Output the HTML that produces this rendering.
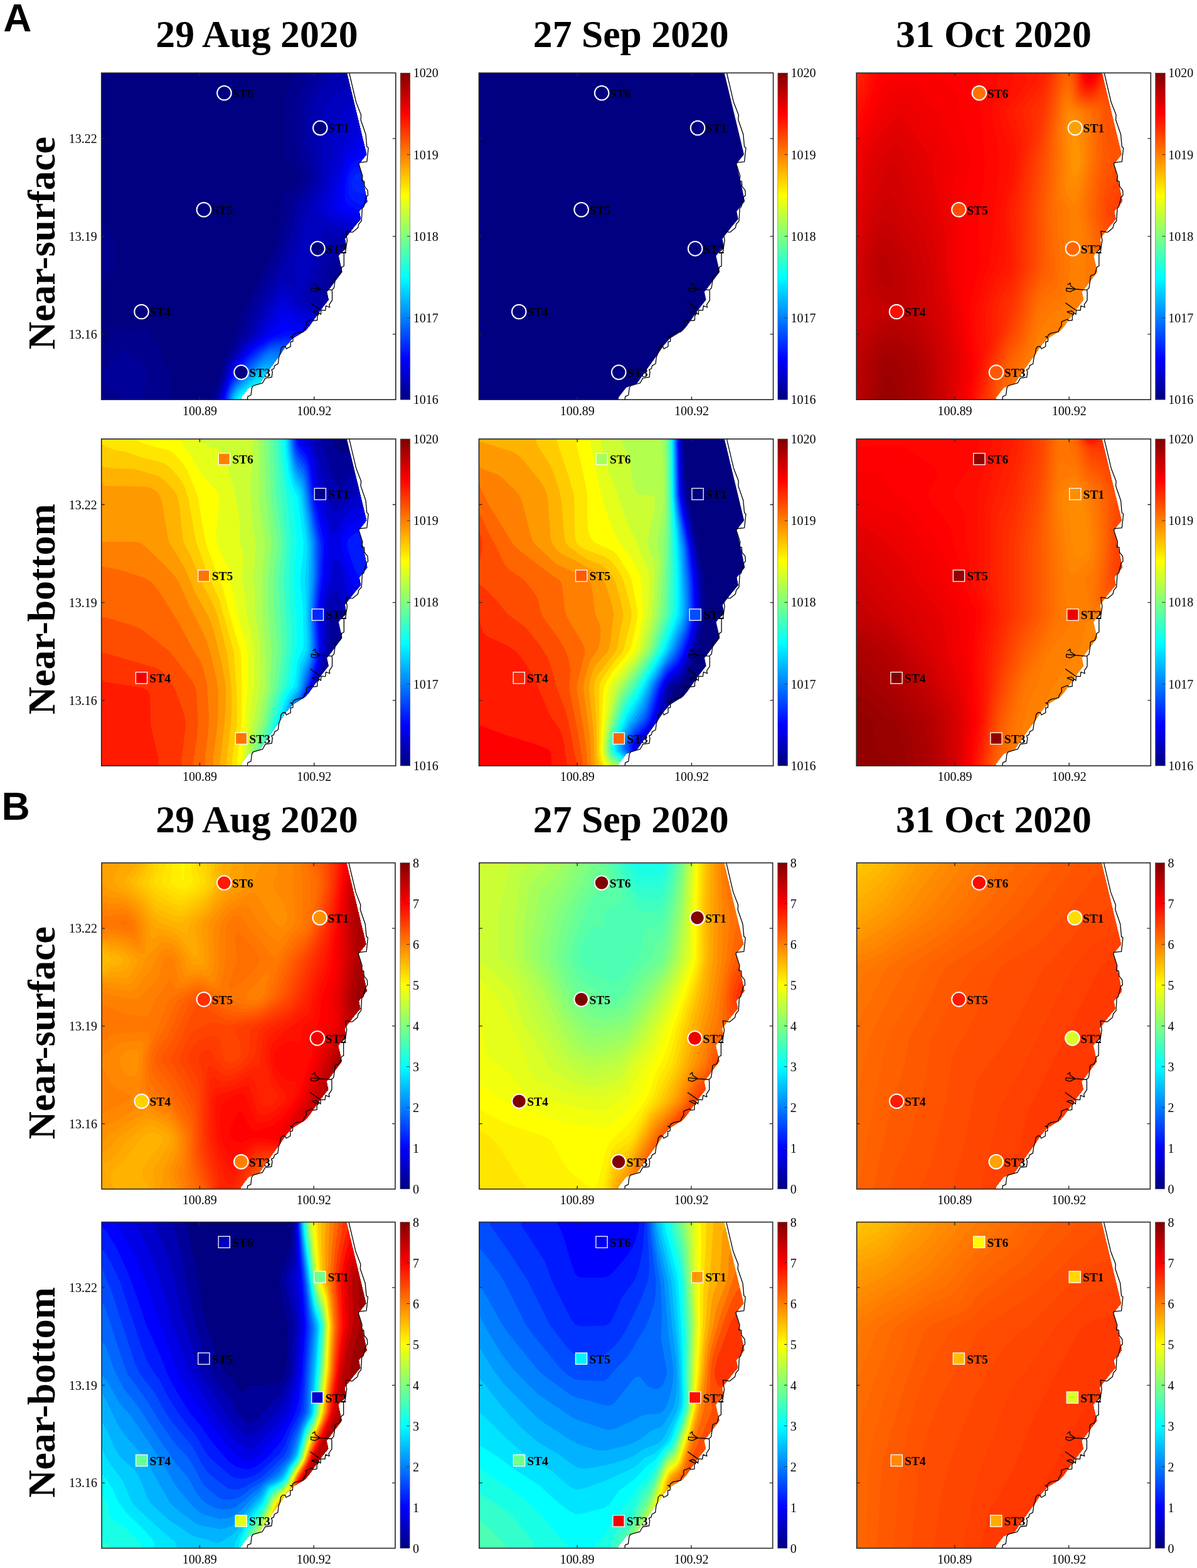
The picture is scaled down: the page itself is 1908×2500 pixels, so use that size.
<!DOCTYPE html><html><head><meta charset="utf-8"><title>Figure</title><style>html,body{margin:0;padding:0;background:#fff}svg{display:block}</style></head><body>
<svg width="1908" height="2500" viewBox="0 0 1908 2500">
<defs><linearGradient id="jet" x1="0" y1="1" x2="0" y2="0">
<stop offset="0.000" stop-color="#000080"/>
<stop offset="0.025" stop-color="#000099"/>
<stop offset="0.050" stop-color="#0000b2"/>
<stop offset="0.075" stop-color="#0000cc"/>
<stop offset="0.100" stop-color="#0000e6"/>
<stop offset="0.125" stop-color="#0000ff"/>
<stop offset="0.150" stop-color="#001aff"/>
<stop offset="0.175" stop-color="#0033ff"/>
<stop offset="0.200" stop-color="#004dff"/>
<stop offset="0.225" stop-color="#0066ff"/>
<stop offset="0.250" stop-color="#0080ff"/>
<stop offset="0.275" stop-color="#0099ff"/>
<stop offset="0.300" stop-color="#00b2ff"/>
<stop offset="0.325" stop-color="#00ccff"/>
<stop offset="0.350" stop-color="#00e5ff"/>
<stop offset="0.375" stop-color="#00ffff"/>
<stop offset="0.400" stop-color="#1affe5"/>
<stop offset="0.425" stop-color="#33ffcc"/>
<stop offset="0.450" stop-color="#4dffb2"/>
<stop offset="0.475" stop-color="#66ff99"/>
<stop offset="0.500" stop-color="#80ff80"/>
<stop offset="0.525" stop-color="#99ff66"/>
<stop offset="0.550" stop-color="#b3ff4c"/>
<stop offset="0.575" stop-color="#ccff33"/>
<stop offset="0.600" stop-color="#e5ff1a"/>
<stop offset="0.625" stop-color="#ffff00"/>
<stop offset="0.650" stop-color="#ffe500"/>
<stop offset="0.675" stop-color="#ffcc00"/>
<stop offset="0.700" stop-color="#ffb300"/>
<stop offset="0.725" stop-color="#ff9900"/>
<stop offset="0.750" stop-color="#ff8000"/>
<stop offset="0.775" stop-color="#ff6600"/>
<stop offset="0.800" stop-color="#ff4c00"/>
<stop offset="0.825" stop-color="#ff3300"/>
<stop offset="0.850" stop-color="#ff1a00"/>
<stop offset="0.875" stop-color="#ff0000"/>
<stop offset="0.900" stop-color="#e50000"/>
<stop offset="0.925" stop-color="#cc0000"/>
<stop offset="0.950" stop-color="#b30000"/>
<stop offset="0.975" stop-color="#990000"/>
<stop offset="1.000" stop-color="#800000"/>
</linearGradient>
<clipPath id="sea"><polygon points="0,0 391.2,0 422.5,129.9 412.7,142.2 410.2,145.2 417,172.2 423.7,204.7 410.8,220.7 413.3,233 404.1,243.7 391,260.4 388.1,264.4 390.3,275.7 377.9,291.7 383.7,317.1 362.6,345.1 359.3,348.9 362.1,361.8 349.7,377.5 331.2,403.7 325.4,410.5 304,423.7 294,435.1 285.4,448 268.3,471.6 251.9,495.1 234.7,501.6 222.6,517.3 222.3,520.9 0,520.9"/></clipPath>
<path id="coast" d="M394.9 -.3 L405.9 46.5 L413.9 67.3 L413.3 74.7 L421.3 98 L423.1 117.6 L425.5 119.5 L423.1 141.6 L411.4 142.8 L410.2 145.2 L416.3 164.3 L415.1 172.2 L418.8 172.8 L419.4 180.8 L424.3 187 L424.9 194.9 L421.9 198 L418.2 213.3 L415.7 215.8 L414.5 236 L410.2 240.9 L408.8 247 L400.4 253.9 L397.5 253.9 L395.3 252.8 L389.5 252.4 L390.6 260.4 L391.7 267 L390.3 275.7 L389.2 284.4 L386.6 286.6 L386.6 307.7 L383 309.8 L382.3 313.5 L380.1 320.7 L373.5 323.3 L373.1 323.7 L372.1 333.2 L370.7 342.7 L367.3 346.1 L367.8 348.7 L367.8 362.3 L363.1 369.4 L364 373.7 L357.8 371.3 L356.9 378.5 L350.2 378 L349.7 385.1 L346.9 382.3 L345.9 385.1 L344 387.5 L344 394.2 L337.8 395.1 L336.4 392.7 L332.6 394.2 L326.9 396.6 L326.9 403 L323.3 408 L322.2 412.6 L310.4 414.8 L306.2 417.3 L304.7 420.8 L301.2 420.5 L305.4 423 L305.1 428 L301.5 428.7 L301.5 436.2 L294.7 439.8 L293.3 436.2 L289 436.2 L286.2 439.4 L285.1 447.3 L282.9 453 L281.5 463.7 L276.2 466.6 L274.7 471.6 L271.2 473 L272.6 476.6 L271.5 485.1 L261.2 486.6 L256.9 494.4 L241.9 498.7 L239.7 502.3 L238.3 513.7 L233.3 515.8 L232.6 520.7" fill="none" stroke="#000" stroke-width="1.3" stroke-linejoin="round"/>
<path id="feat" d="M367.3 346.1 L349.3 344.7 L341.2 339.4 L340.7 335.1 L336.9 337.5 L341.2 334.4M349.3 344.7 L334.5 343.2 L334.5 347.5 L340.7 348.9 L349.3 344.7M333.1 366.6 L349.3 378M335.4 380.8 L342.6 379.4 L346.9 382.7 L345.4 385.1 L335.4 380.8" fill="none" stroke="#000" stroke-width="1.3" stroke-linejoin="round"/>
</defs>
<rect width="1908" height="2500" fill="#fff"/>
<text x="5.3" y="50" font-family="Liberation Sans, sans-serif" font-weight="bold" font-size="62.5">A</text>
<text x="2.6" y="1307.1" font-family="Liberation Sans, sans-serif" font-weight="bold" font-size="62.5">B</text>
<text x="248.3" y="74.5" font-family="Liberation Serif, serif" font-weight="bold" font-size="61.7">29 Aug 2020</text>
<text x="849.8" y="74.5" font-family="Liberation Serif, serif" font-weight="bold" font-size="61.7">27 Sep 2020</text>
<text x="1428" y="74.5" font-family="Liberation Serif, serif" font-weight="bold" font-size="61.7">31 Oct 2020</text>
<text x="248.3" y="1326.9" font-family="Liberation Serif, serif" font-weight="bold" font-size="61.7">29 Aug 2020</text>
<text x="849.8" y="1326.9" font-family="Liberation Serif, serif" font-weight="bold" font-size="61.7">27 Sep 2020</text>
<text x="1428" y="1326.9" font-family="Liberation Serif, serif" font-weight="bold" font-size="61.7">31 Oct 2020</text>
<text transform="translate(87.3 387.6) rotate(-90)" text-anchor="middle" font-family="Liberation Serif, serif" font-weight="bold" font-size="61.5">Near-surface</text>
<text transform="translate(87.3 971.3) rotate(-90)" text-anchor="middle" font-family="Liberation Serif, serif" font-weight="bold" font-size="61.5">Near-bottom</text>
<text transform="translate(87.3 1646.8) rotate(-90)" text-anchor="middle" font-family="Liberation Serif, serif" font-weight="bold" font-size="61.5">Near-surface</text>
<text transform="translate(87.3 2220.1) rotate(-90)" text-anchor="middle" font-family="Liberation Serif, serif" font-weight="bold" font-size="61.5">Near-bottom</text>
<g transform="translate(161.7 116.3)">
<g transform="scale(1.00000 1.00000)"><g clip-path="url(#sea)">
<rect x="-2" y="-2" width="474" height="524.9" fill="#000080"/><path fill="#000080" d="M277 -3l2.4-3 197.6 0 0 534-326.9 0-3.1-1.4-5.3 1.4-147.7 0 0-149.5 1.4-9.5-1.4-6.5 0-144.5 6-3.3 3 0 6 2.5 10.7 10.8 21.3 27 3.2 6 2.2 9 .1 39 .7 6 11.1 15 9.4 15 61.3 102.8 21 28.6 3 2.9 3 1 15-.2 6-2.3 3-5.8 4.7-19 4.3-12.6 1.4-14.4 2.9-12 17.5-48 7.1-15 25.1-46 15-33.3 3.8-10.7 1.4-15 .1-57 1.9-21-1-18 .3-99 6.9-39 2.5-9z"/><path fill="#00008c" d="M302.5 -6l174.5 0 0 534-303.7 0 2.2-15 10.5-23.7 9.8-33.3 7.1-15 4.2-15 21.7-57 31.5-60 18.5-42 2.5-9 2.5-15 1.9-36 1.6-9 3.7-5.5 15-9.7 5.2-5.8 3.1-6 0-6-2.3-6.2-6-8.5-12-10.9-1.9-4.4-1.3-9 0-72 4.3-24 7.7-24zM-6 243l0-3 7.5 3 16.5 18.6 3.5 8.4 .6 18-.3 15-2.6 9-16.2 20.2-3 2.2-6 1.7zM60.4 405l2.6-.9 3 .6 6 5.3 12 17.1 11.2 19.9 8.4 21 8.5 18 .4 9-2.4 18 .7 3 5.9 9 .8 3-123.5 0 0-88.1 9-2.1 7.5-5.8 2.8-6 3.2-15 1.5-2.8 3-1.8 6 .5 15 4.1 6 .6 6-1.7z"/><path fill="#000099" d="M328.7 -6l148.3 0 0 307.7-3 5.6-.7 4.7 3.7 9.6 0 206.4-296.8 0 .9-15 7.9-22 10.8-35 9-15 11.9-24 19.5-51 28.8-54 17.6-39 5-15 9.1-45 3.1-6 20.5-30 2.7-6 .4-6-1.9-9-15.3-45-.7-48 1.6-15 15.9-39.8 1.4-5.2zM27.8 444l5.2-2 3 .3 10.3 4.7 15.5 12 7.2 9 3.5 9 1.1 9-1.8 9-7.3 18 .3 3 4.2 7.5 1.2 4.5-38.7 0 0-9-1.4-3-2.6-3-15.1-12-11.4-15-.4-3 .9-3 19.5-28.9z"/><path fill="#0000a6" d="M353.3 -6l123.7 0 0 272.4-3 1.8-6 1.1-72 .4-9 2.9-6 6-6 8.3-9 13.5-4.4 8.6-4.6 21-2.7 21 1.3 6 4.4 2.6 3 .5 102 .3 6 .5 6 2.8 0 164.3-294.1 0 1.2-15 16.9-52.5 3-5.9 7.7-10.6 18.9-30 20.9-51 30.5-57 18-42 10.8-48 4.4-9 15.7-24 4.5-9 1.5-9-1.6-15-11.1-42-.2-51 2-9 3.8-9 11.9-24 9.8-15z"/><path fill="#0000b2" d="M374.7 -3l3.3-1.5 6-.5 78 .3 9 3.1 4.5 4.6 1.5 2.8 0 241-3.7 2.2-5.3 6.7-6 3.5-9 .7-63-.3-9 1.9-11.6 5.5-3.4 3.5-9 13.3-7 13.2-3.3 12-9 45-.2 6 1.1 3 3.4 3.6 4.4 2.4 7.6 1.5 105 .5 6 1.8 7.7 8.2 4.3 2.3 0 144.7-292.2 0 1.6-15 16.6-51 22.6-33 11.9-15 21.4-48 20.1-36.6 11.7-17.4 18.3-43.7 11.9-52.3 4.4-9 10.7-17.1 6.2-12.9 2.3-9 .1-9-2.1-27-5.3-27-.1-42 .7-9 2.8-9 7.4-13.8 24-32.3z"/><path fill="#0000bf" d="M387.1 27l68.9-.4 21-.9 0 217.9-6.6 2.4-8.4 6.5-6 1.2-51 .1-18-1.4-15 1.5-12-4.5-3-.5-3 1.6-5.2 13.5-9.8 20.6-10.6 45.4-4.4 12.3-4.9 8.7 .1 3 2 6 4.3 6 8.4 6 11.1 4.4 12 .9 99 .2 6 1.2 7.5 5.3 7.5 2.5 0 141.5-290.5 0 1.8-15 15.9-48 3.4-6 20.4-27.9 15.5-17.1 17.5-37.4 21-37.2 6-6.9 3-1.3 3 .3 15 11.2 3.3-.7-.4-6-4.7-21 .7-9 6.5-18 4.3-15 11.3-54 18.6-39 3.6-12-.8-90 1.4-21 4.2-8.7 12-11.8 9-6.8z"/><path fill="#0000cc" d="M392 54l10-2 60-.1 9 .8 3.4 1.3 2.6 2.6 0 184.8-7.8 1.6-10.2 4.7-6 .5-48-.1-18-2.7-12-.1-3-.8-6-3.8-18.6-15.7-4.2-6-.5-3 1-6 13-30 3.6-12 9-51 1.8-27 1.7-9 2.7-6 9.7-15zM286.3 348l4.7-2.6 3 .8 6 5.6 12 14.8 6 5.2 15 7.9 9 3 12 .8 102 .1 15 4.4 6 .7 0 139.3-289 0 .7-9 2.2-9 12-36 4.1-9.5 24-32.6 13.3-11.9 5-6 16.1-33 16.6-27.7z"/><path fill="#0000d9" d="M412 72l44 0 15 4.2 6 .6 0 162.6-24 3.2-42 0-12-1-12-3.1-11-1.5-4-1.6-11.6-10.4-6.4-9-.6-3 .9-6 8.8-21 19.9-63 8.4-21 6.9-21 4.1-6 2.6-1.7zM288.3 360l2.7-.9 3 .8 15 14.9 6 4.6 17.4 7.6 6.6 1.8 12 .8 105 0 21 1.1 0 137.3-287.6 0 .8-9 3.1-12 14.4-39 24.2-33 20.9-18 20.2-36.6 9-13.8z"/><path fill="#0000e6" d="M470.3 84l6.7-1.4 0 155-72-.9-27-7.5-6-3.3-6.4-6.9-1.5-3-.6-6 6.1-18 6.1-24 9.5-30 4.5-12 3.3-5.9 11-12.1 6.8-12 3.2-2.8 9-1.9 36-.8zM290.6 372l3.4 .4 3 1.8 15 12.7 18 6.6 9 1.9 114 .3 24-3.2 0 135.5-286.3 0 1.6-12 4.4-15 7.3-19.8 6.3-13.2 23.7-31.4 24.5-19.6 14.5-24.5 9-13.3 6-6.3z"/><path fill="#0000f2" d="M419.8 111l9.2-1.7 36 .1 9 1.2 3 2 0 123-21-4-51-.8-9-2.6-15-6.1-4.5-3.1-2.2-3-1-3 .2-6 6.6-33 6.5-24 5.2-15 3.3-6 3.9-4.5 12-8.7zM287.3 387l3.7-2.1 3 0 3 1.2 9.2 6.9 5.8 2.8 18 4.8 9 1.1 117-.1 6-1.4 7.5-4.2 7.5-1.5 0 133.5-284.9 0 1.5-12 5.5-18 7.9-19.4 6-10.6 15-20.3 8.4-9.7 21.1-15 6.8-6 17.7-24.4z"/><path fill="#0000ff" d="M421.8 123l37.2 0 6 2.9 6.1 6.1 5.9 2 0 99.5-6-1.6-9-4.9-3-.7-45-.5-9-1.1-14.1-5.7-4.9-3-2.8-3-1.3-3-.5-6 2.5-24 2.9-15 6.2-20 3-6.1 6-6.9 9-5.6zM291.6 399l5.4-.5 12 5.1 24 4.1 120 .2 9-1.3 8.8-7.6 6.2-2.3 0 131.3-283.7 0 2.4-15 8.3-23.9 9-17.2 15-20.6 12-12.8 35.1-24.5 12.9-12.7z"/><path fill="#000dff" d="M419.6 135l36.4-.2 21 3.2 0 92.2-4.5-2.2-6.9-6-3.6-1.4-45-.8-9-1-12-5.7-6-6.1-2.3-9 .3-15 2.2-15 4.8-15 4-7.6 6-5.5 6-3zM473.7 402l3.3-1.9 0 127.9-282.4 0 2.3-15 6-18 7.1-14.2 12.7-18.8 8.3-10.8 10.3-10.2 19.7-13.5 12-6.9 24-9.9 36 3 126-.3 7.8-2.4z"/><path fill="#001aff" d="M464.9 144l12.1-2.7 0 68.1-12 1.8-48-.1-9-2.1-9-7.1-3-4-2.2-5.9-.8-15 3-13.8 3-6.5 3-3.9 6-3.9 6-1.5 42-.7zM288.6 420l14.4-2.1 27 1.2 147-1.3 0 110.2-281.2 0 .9-9 2.2-9 6.8-18 10.3-16.9 15-20.3 12-11.7 21-14.5 9-4.5z"/><path fill="#0026ff" d="M472.4 147l4.6-1.6 0 47.9-63-1.1-6-1.4-6.3-4.8-2.5-6-.3-6 3-9 3.1-3.2 3-1.5 6-1 45-.6 6-2.9zM294.6 423l32.4 1.1 48-1.5 81-.2 9 .7 12 3.1 0 101.8-280.1 0 2.3-15 7.8-20.5 16.6-24.5 10.4-13.1 16-13.9 17-11.4 9-3.5z"/><path fill="#0033ff" d="M399.9 426l59.1 0 18 3.2 0 98.8-278.9 0 .8-9 3.2-12 4.9-11.7 6-9.5 15.5-20.8 8.5-9.7 17-14.3 13-8.8 9-3.4 18-2.2 36 2.1z"/><path fill="#0040ff" d="M274 432l17-1.9 27 2.5 18 .6 48-3.2 57-1 18 .2 18 2.2 0 96.6-277.9 0 2.3-15 5.6-14.8 6-9.7 15.9-20.5 8.1-9.2 16.8-14.8 10.2-7.4z"/><path fill="#004dff" d="M272.6 435l6.4-1.3 9-.3 24 3.1 30 1.2 39-3.5 30-1.5 45-.6 21 1.4 0 94.5-276.9 0 .9-9 2.3-9 3.7-9.1 6-9.8 18.7-23.1 8.3-8.8 21-18z"/><path fill="#0059ff" d="M271.9 438l7.1-1.3 6 .1 24 3.8 39 1.7 63-5.8 66-1 0 92.5-275.8 0 .8-9 2.4-9 3.9-9 4.7-7.5 27.5-31.5 20.4-18z"/><path fill="#0066ff" d="M467.9 438l9.1-.3 0 90.3-274.9 0 2.4-15 3.6-9 4.9-8.1 30.8-33.9 16.9-15 9.3-5.5 9-1.3 24 4.2 51 2.5 57-6.1z"/><path fill="#0073ff" d="M471 441l6-.3 0 87.3-273.9 0 2.4-15 3.9-9 3.6-5.7 36-38.2 12-10.4 9-4.9 9-.5 12 3 12 1.5 60 2.6 54-6.5z"/><path fill="#0080ff" d="M445.5 447l19.5-1 12 1.7 0 80.3-272.9 0 .9-9 1.6-6 6.4-12.4 36-37.5 9-7.9 9-5.7 6-1.2 24 4.4 72 3.3z"/><path fill="#008cff" d="M269.6 453l24.4 3.8 81 3.8 12-.9 24-4 30-3.4 18-1.6 6 .6 12 4.8 0 71.9-271.9 0 .9-9 1.7-6 2.8-6 5.5-7.8 39-38.5 9-6.1z"/><path fill="#0099ff" d="M452.8 456l9.2-.2 15 3.5 0 68.7-271 0 .9-9 1.9-6 7.2-11.5 36-35.1 6-4.7 6-3.1 6-.8 21 3 90 4.4 12-.8 27-4.7z"/><path fill="#00a6ff" d="M443.4 462l15.6-1.5 18 1 0 66.5-270 0 1.9-12 2.7-6 4.4-6.3 36-34.2 6-4.3 6-2.3 27 2.2 96 4.7 12-.7z"/><path fill="#00b2ff" d="M460.2 465l16.8-1.4 0 64.4-269 0 2-12 6-10.1 33-30.7 6-4.6 6-2.8 6-.5 21 1.9 108 5.2 12-1 27-5.1z"/><path fill="#00bfff" d="M465.3 468l11.7-2.3 0 62.3-267.9 0 2.1-12 5.9-9 31.9-28.6 6-4.2 6-2.1 141 6.9 15-1.3 42-7.7z"/><path fill="#00ccff" d="M476.6 468l.4 60-266.9 0 2.5-12 6.4-8.8 30-25.6 9-4.7 6-.6 147 7.2 12-1.1 36-7.2 12-5.6z"/><path fill="#00d9ff" d="M471.5 474l5.5-2.8 0 56.8-265.7 0 1.7-9.8 6-8.7 27-22.4 6-3.9 6-2.1 9-.2 150 7.3 15-1.6 27-5.8 6-1.9z"/><path fill="#00e5ff" d="M256.3 486l22.7 0 141 6.8 15-1 30-5.8 12-.2 0 42.2-122.8 0 1.9-3-.9-3-1.2-.6-3.6 .6-3.5 3-1.9 3-132.5 0 1.7-9 4.8-7.1 24-19.4 6-3.8z"/><path fill="#00f2ff" d="M251.4 492l9.6-1.3 33 .7 132 6 12-.5 21-3.7 6 0 12 3.1 0 31.7-119.8 0 1.4-3 0-3-1.6-2.1-3-1.1-3 .4-9 5.1-6 1.3-48 .2-6 .6-3.3 1.6-64.8 0 1.9-9 4.6-6 19.6-15.3z"/><path fill="#00ffff" d="M247.5 498l10.5-1.4 54 .5 120 4.9 12-.4 18-2.7 15 .9 0 28.2-117.7 0 1.4-3-.7-5.1-3-2.7-3-.6-3 .4-9 4-6 1.1-54 .3-6 1.9-2.1 3.7-58.5 0 2.5-9 4.1-4.9 15-11.2z"/><path fill="#0dfff2" d="M243.5 504l11.5-1.3 75 .3 111 3.6 12-.7 15-2.8 9-.5 0 25.4-115.6 0 1.5-6-.7-3-2.3-3-2.9-1.8-3-.4-18 5-57 .5-6.7 2.7-1.5 3-.2 3-53.3 0 1.7-6.9 4.1-5.1 10.9-7.8z"/><path fill="#19ffe6" d="M468.7 507l8.3-1.6 0 22.6-113.3 0 1.7-6-1.8-9 2.7-3 14.7-.6 69 2 9-.8zM239.8 510l15.2-1 14.4 1 12.6 2.2 54 .8-60 .6-3 1-4.8 4.4-1.2 3 .4 6-47.9 0 1.9-6 3.6-4.2 6-4.1z"/><path fill="#26ffd9" d="M473.3 510l3.7-.9 0 18.9-110.1 0 3.1-9 2-2.2 3-.9 81 1.1 9-1.9zM239.6 516l12.4-.2 6 1.7 3 4.1 2.2 6.4-40.3 0 2.1-4.9 3-2.8 6-3z"/>
</g><use href="#coast"/><use href="#feat"/></g>
<rect x="0" y="0" width="469.1" height="520.9" fill="none" stroke="#262626" stroke-width="1.6"/>
<path d="M0 104.6h5M469.1 104.6h-5M0 260.6h5M469.1 260.6h-5M0 416.6h5M469.1 416.6h-5M156.7 0v5M156.7 520.9v-5M339 0v5M339 520.9v-5" stroke="#262626" stroke-width="1.4" fill="none"/>
<rect x="476.4" y="0" width="15.7" height="520.9" fill="url(#jet)" stroke="#555" stroke-width="0.5"/>
<path d="M492.1 130.225h-5M492.1 260.45h-5M492.1 390.675h-5" stroke="#333" stroke-width="1" fill="none"/>
<text x="497.1" y="7" font-family="Liberation Serif, serif" font-size="20">1020</text>
<text x="497.1" y="137.225" font-family="Liberation Serif, serif" font-size="20">1019</text>
<text x="497.1" y="267.45" font-family="Liberation Serif, serif" font-size="20">1018</text>
<text x="497.1" y="397.675" font-family="Liberation Serif, serif" font-size="20">1017</text>
<text x="497.1" y="527.9" font-family="Liberation Serif, serif" font-size="20">1016</text>
<text x="-7" y="111.6" text-anchor="end" font-family="Liberation Serif, serif" font-size="20">13.22</text>
<text x="-7" y="267.6" text-anchor="end" font-family="Liberation Serif, serif" font-size="20">13.19</text>
<text x="-7" y="423.6" text-anchor="end" font-family="Liberation Serif, serif" font-size="20">13.16</text>
<text x="156.7" y="545.4" text-anchor="middle" font-family="Liberation Serif, serif" font-size="20">100.89</text>
<text x="339" y="545.4" text-anchor="middle" font-family="Liberation Serif, serif" font-size="20">100.92</text>
<circle cx="195.7" cy="31.9" r="11.3" fill="#000080" stroke="#fff" stroke-width="2"/>
<text x="208.5" y="39.3" font-family="Liberation Serif, serif" font-weight="bold" font-size="19.5">ST6</text>
<circle cx="348.6" cy="87.7" r="11.3" fill="#000080" stroke="#fff" stroke-width="2"/>
<text x="361.4" y="95.1" font-family="Liberation Serif, serif" font-weight="bold" font-size="19.5">ST1</text>
<circle cx="163.2" cy="218" r="11.3" fill="#000080" stroke="#fff" stroke-width="2"/>
<text x="176" y="225.4" font-family="Liberation Serif, serif" font-weight="bold" font-size="19.5">ST5</text>
<circle cx="344.7" cy="280.1" r="11.3" fill="#000080" stroke="#fff" stroke-width="2"/>
<text x="357.5" y="287.5" font-family="Liberation Serif, serif" font-weight="bold" font-size="19.5">ST2</text>
<circle cx="63.8" cy="380.7" r="11.3" fill="#000080" stroke="#fff" stroke-width="2"/>
<text x="76.6" y="388.1" font-family="Liberation Serif, serif" font-weight="bold" font-size="19.5">ST4</text>
<circle cx="222.8" cy="477.3" r="11.3" fill="#000080" stroke="#fff" stroke-width="2"/>
<text x="235.6" y="484.7" font-family="Liberation Serif, serif" font-weight="bold" font-size="19.5">ST3</text>
</g>
<g transform="translate(763.45 116.3)">
<g transform="scale(1.00000 1.00000)"><g clip-path="url(#sea)">
<rect x="-2" y="-2" width="474" height="524.9" fill="#000080"/>
</g><use href="#coast"/><use href="#feat"/></g>
<rect x="0" y="0" width="469.1" height="520.9" fill="none" stroke="#262626" stroke-width="1.6"/>
<path d="M0 104.6h5M469.1 104.6h-5M0 260.6h5M469.1 260.6h-5M0 416.6h5M469.1 416.6h-5M156.7 0v5M156.7 520.9v-5M339 0v5M339 520.9v-5" stroke="#262626" stroke-width="1.4" fill="none"/>
<rect x="476.4" y="0" width="15.7" height="520.9" fill="url(#jet)" stroke="#555" stroke-width="0.5"/>
<path d="M492.1 130.225h-5M492.1 260.45h-5M492.1 390.675h-5" stroke="#333" stroke-width="1" fill="none"/>
<text x="497.1" y="7" font-family="Liberation Serif, serif" font-size="20">1020</text>
<text x="497.1" y="137.225" font-family="Liberation Serif, serif" font-size="20">1019</text>
<text x="497.1" y="267.45" font-family="Liberation Serif, serif" font-size="20">1018</text>
<text x="497.1" y="397.675" font-family="Liberation Serif, serif" font-size="20">1017</text>
<text x="497.1" y="527.9" font-family="Liberation Serif, serif" font-size="20">1016</text>
<text x="156.7" y="545.4" text-anchor="middle" font-family="Liberation Serif, serif" font-size="20">100.89</text>
<text x="339" y="545.4" text-anchor="middle" font-family="Liberation Serif, serif" font-size="20">100.92</text>
<circle cx="195.7" cy="31.9" r="11.3" fill="#000080" stroke="#fff" stroke-width="2"/>
<text x="208.5" y="39.3" font-family="Liberation Serif, serif" font-weight="bold" font-size="19.5">ST6</text>
<circle cx="348.6" cy="87.7" r="11.3" fill="#000080" stroke="#fff" stroke-width="2"/>
<text x="361.4" y="95.1" font-family="Liberation Serif, serif" font-weight="bold" font-size="19.5">ST1</text>
<circle cx="163.2" cy="218" r="11.3" fill="#000080" stroke="#fff" stroke-width="2"/>
<text x="176" y="225.4" font-family="Liberation Serif, serif" font-weight="bold" font-size="19.5">ST5</text>
<circle cx="344.7" cy="280.1" r="11.3" fill="#000080" stroke="#fff" stroke-width="2"/>
<text x="357.5" y="287.5" font-family="Liberation Serif, serif" font-weight="bold" font-size="19.5">ST2</text>
<circle cx="63.8" cy="380.7" r="11.3" fill="#000080" stroke="#fff" stroke-width="2"/>
<text x="76.6" y="388.1" font-family="Liberation Serif, serif" font-weight="bold" font-size="19.5">ST4</text>
<circle cx="222.8" cy="477.3" r="11.3" fill="#000080" stroke="#fff" stroke-width="2"/>
<text x="235.6" y="484.7" font-family="Liberation Serif, serif" font-weight="bold" font-size="19.5">ST3</text>
</g>
<g transform="translate(1365.2 116.3)">
<g transform="scale(1.00000 1.00000)"><g clip-path="url(#sea)">
<rect x="-2" y="-2" width="474" height="524.9" fill="#ff9300"/><path fill="#ff8c00" d="M-6 -6l483 0 0 534-483 0zM345 94.6l-1.7 7.4-1 12-.4 39 .8 6 2.3 5.9 3 .9 3-3.6 3-8 2.9-13.2 .3-9-3.2-21.5-6-15z"/><path fill="#ff8600" d="M-6 -6l483 0 0 534-483 0zM342 64.9l-3 3.8-1.6 12.3-.8 84 1.4 9 2.3 6 4.7 6.2 3 0 3-3.8 6.3-20.4 4.1-21 .2-15-2.9-24-7.7-26.7-3-6.8-3-3z"/><path fill="#ff8000" d="M-6 -6l483 0 0 370.2-1.2 4.8-2.8 6-2.7 3-5.3 2.9-6 1.2-105 .1-9 1.5-6 5.2-6 7.2-30 39.5-7.7 11.4-1.5 3-.1 3 3.3 1.8 6 .5 150 0 9 .5 6 1.4 6 4.8 3 5.3 0 60.7-483 0zM339 56.9l-2.8 3.1-1 3-2.3 15 0 60-1.4 36 1.5 10.7 3 7.9 6 10.6 3 3.1 3 .3 3-3.7 3-8 10.1-44.9 1.8-15-.6-21-2.6-21-6.8-24-4.3-6-3.6-2.8-6-3.2z"/><path fill="#ff7900" d="M-6 -6l483 0 0 352.1-24-2.4-78-.2-6-1.1-3.5-3.4-1.5-9 1.6-24-1.1-24-1.6-15-7.2-39-.8-9 14.7-78 .2-15-1.4-30-3-18-4.5-12-6.4-6-12.5-8.4-3-1.9-3 .8-4 9.5-3.1 24-.2 54-2.3 42 1.7 15 9.1 21 2.4 12 .2 45 1.3 36-4.4 36-2.7 15-4 8.8-20.5 18.2-9.5 12.4-6 9.7-6 13.5-14 39.4-1.2 6 .2 3 2.1 3 6.9 1.8 177 .9 3 1.1 9 6.8 6 1.7 0 41.7-120 0-3-2.9-3-.8-15-.3-24 .3-3.2 .7-3.1 3-311.7 0z"/><path fill="#ff7300" d="M-6 -6l483 0 0 312.2-2.2 2.8-3.8 2.1-6 1-66 .3-12-.7-3-1.1-4.5-4.6-4.1-12-13.5-66-1-9 2.5-21 10.4-60-.8-39-1.8-21-2.2-9-4-6-17-10.6-4.6-4.4-4.4-6-3-1-3 3.9-3 9.1-4.5 30-1.2 21 .2 36-3.1 45 .8 15 5.8 18 1.4 9 .6 36 2.4 45-4.2 33-2.1 9-3 6-5.1 4.9-18 12.5-6 7.5-6 16.1-11 40-13.3 30-3.5 15 .3 3 1.8 3 4.7 1.8 6 .4 204-.5 0 37.3-115.1 0-1.9-5-3-2.2-6-1.2-15-.1-24 .1-6 .8-3.3 1.6-1.9 3-.3 3-306.5 0z"/><path fill="#ff6c00" d="M-6 -6l483 0 0 280.5-2.3 1.5-1.7 3-3.5 12-4.5 6.8-3 1.7-6 1-63-.2-6-2-3.7-4.3-2.5-6-3.2-12-9.9-45-1.6-12 2.9-27 8.8-54-.8-45-1.5-21-1.7-6-2.1-3-3.8-3-16.9-8.6-4-3.4-3.8-6-4.2-9.3-3-1.6-3 3.4-1.9 4.5-4.1 14.3-4.2 27.7-2.2 24-.3 36-4 60 3.1 24 4.6 78-.3 12-2.6 18-1.6 6-3 6-4.5 4.6-12 9-6 7.1-3.6 6.3-5.4 15.8-12 47.1-3 7.6-13.3 25.5-7.3 21-1.6 9 1.7 6 2.5 1.5 6 .9 60 1.2 135-1.1 9-1.6 7.7-6.9 7.3-2.8 0 32.8-110.5 0-.6-6-1.3-3-4.6-4.5-6-1.4-18-.4-24 .1-12 1.8-4.4 4.4-.9 3 .7 6-301.4 0z"/><path fill="#ff6600" d="M-6 -6l483 0 0 277.1-6 3.1-6 12-3 3.2-3 1.4-9 .7-51-.1-6-1-3-1.6-3.2-3.8-2.8-6.3-3.2-11.7-8.1-36-1.6-12 3.5-33 7.4-48-1-57-1.4-15-1.4-3-3.1-3-21.1-9.7-6-4.9-3.3-6.4-5.7-16.1-3-1.8-3 3.2-2.6 5.7-3.4 10.2-3.1 13.8-6 42-1.4 18-.5 30-4.7 60 .7 41.8 3.7 60.2-1.3 15-2.4 8.4-2 3.6-13 14.2-6 9.9-5.3 11.9-15.7 60.6-3.6 8.4-14.4 25.4-12 32.8-3.3 13.8-.8 18-241.9 0z"/><path fill="#ff6000" d="M-6 -6l335.8 0 3.2 3.8 3 1.9 3-1 3.7-4.7 134.3 0 0 274.9-6 1.4-4 2.7-5 6.5-6 2.7-57-.2-6-2.6-4.4-6.4-6.2-21-5.3-24-1-9 3.8-36 6.7-45-1.6-72-1-3.7-3-3.9-24-9.2-6-3.9-4.1-6.3-7.9-26.4-3-2.1-3 3.7-6 14.9-4.8 18.9-4.2 25-4.8 38-1.6 36-6.4 75 2.4 81-1 12-2 6-13.6 23.2-8.1 18.8-15.4 60-3.9 9-14.3 24-4.2 9-11.1 33.5-6.5 29.5-233.5 0z"/><path fill="#ff5900" d="M-6 -6l332.4 0 2.7 6 1.7 6-.5 3-6.9 21-4.1 18-10 69-2.4 36-6.9 69 .6 81-1 9-20.4 48-15.2 59.1-3.2 6.9-14.8 25.2-6 13.7-12 41-3.4 22.1-230.6 0zM344.4 -3l1.3-3 131.3 0 0 273.1-9 1.3-12 4.8-48 .2-9-1.5-3-2-4.1-5.9-5.7-18-4.1-18-1-9 5.5-48 6.1-33-2.8-75-2-6-3.2-3-9.7-1.3-9-2.5-9-3.6-6-4.6-4-9-5.2-24 .1-6z"/><path fill="#ff5300" d="M-6 -6l330.2 0 2.4 9-.1 6-7 24-6.2 33-7.6 54-10.3 96-1.2 93-2.7 9-15.5 38-14 55-4 9-15 27-6.3 15-11.6 42-2.7 24-228.4 0zM347.6 -6l129.4 0 0 271.4-69-1.2-6-1.7-2.1-1.5-4.5-6-5.4-15-3.9-21 2.5-24 4.4-25.7 3-10.4 6.6-14.9 1.4-6-.3-6-4.9-27-3.6-45-2-6-3.2-4.8-3-1.2-9 1.7-9-1.1-12-4.6-5.5-5-3.5-9-3.8-21 .3-6z"/><path fill="#ff4c00" d="M-6 -6l328.5 0 1.2 12-7.1 27-5.7 30-10.4 69-9.8 81-.9 15 0 69-.8 12-2.7 9-13.3 33.3-13.6 53.7-16.4 32.3-10 24.7-10.4 39-1.8 12-.4 15-226.4 0zM348.9 -6l128.1 0-.4 60-5.6 7-9 3.2-48 .1-6-2.4-3-2.8-12-17.1-3-.9-9 4.4-6 1.5-6-.8-9-3.2-6-4.1-3-5.1-2-6.8-3-21zM426.3 138l2.7-1.2 6-.5 27 .3 9 3.7 5.1 6.7 .9 2.9 0 113.8-9-1.6-9-5.4-3-.8-39-.4-9-1.2-6-3.9-6-10.6-3.6-11.8-1.2-9 1.5-15 3.6-18 5.6-15 6.9-12 11.2-16z"/><path fill="#ff4600" d="M-6 -6l326.9 0-.2 12-5.8 21-4.8 24-15.4 90-8.7 69-1.2 15-.1 72-.8 12-2.6 9-11.3 28.7-13.3 52.3-16.7 35.7-11.4 30.3-9 36-1.4 12 .2 15-224.4 0zM350 -6l127 0 0 38.7-8.1 3.3-6.9 6.5-6 1.5-45 0-6-1.8-9-8.3-3-.5-3 1.3-12 9-6 .6-6-1.4-9-4.3-3-3.1-2.5-5.5-3.8-21zM425.8 162l12.2-1 21 .9 4.4 3.1 6.2 9 7.4 3.3 0 84.6-4.4-.9-4.6-3-6-8.5-3-1.9-6-1-39-.7-6-2.6-6-7.2-3.5-8.1-1.7-9 1-9 2.3-9 4.9-12.2 9-15.8 6-7.6z"/><path fill="#ff4000" d="M-6 -6l325.4 0-.7 9-6.1 21-6.2 30-6.4 37.9-11.5 58.1-8.4 69-.4 81-.8 9-11.9 33.1-12.8 50.9-17.2 39.9-12.7 35.1-5.3 20.5-2.2 12.5-1.2 12 .6 15-222.2 0zM350.5 -3l.5-3 126 0 0 34.3-63 .9-6-.7-9-3.6-3 .2-3 1.5-12 12.1-3 2-3 1-6-.4-6-2-5.7-3.3-4-6-2.4-9-1.7-12zM423.7 183l8.3-1.9 45 .6 0 77.9-4.1-1.6-1.9-2.1-6-13.3-3-3.1-3-1.3-39-1-6-1.7-6-5.3-3.7-8.2 .7-9.7 9-18.5 6-8.1z"/><path fill="#ff3900" d="M-6 -6l323.9 0-.9 6-7.4 24-8 36-4.6 27.4-13.1 59.6-8.8 72-.4 81-.8 9-10.3 30-13.1 51-23.5 60-6.8 21-3.8 15-2.3 15-1.3 15 .4 12-219.2 0zM351.8 -6l125.2 0 0 29.9-6-1.8-9-6.4-3-.9-54-.7-3 .5-6 3.6-12.7 14.8-5.3 4.8-3 1.2-6-.2-9-3.6-3-2.6-3-5.6-3.4-18zM469.9 189l7.1-2.8 0 69.8-3.3-4-4.2-15-4.5-6.1-3-1.7-6-.9-33-.7-6-2.6-2.2-3-.8-3 .2-3 2.6-6 6.2-6.7 6-1.9 30-1.1 3.9-2.3z"/><path fill="#ff3300" d="M-6 -6l322.3 0-1.3 5.6-5.5 12.4-11.7 45-5.2 30-13.2 57-9.3 75-.4 81-.8 9-8 24-17.4 63-25.8 72-4.3 18-4.4 33-2.4 9-212.6 0zM352.6 -6l52.1 0 0 3-3.8 9-17.9 24-5 4.9-6 1.9-6-1.2-5.2-2.6-4.9-6-1.9-6-2-12z"/><path fill="#ff2d00" d="M-6 -6l320.6 0-7.5 15-7.1 25.7-3 8.5-8 16.8-1.8 27-12.8 57-9.5 75-.2 78-.8 12-11.9 39.8-9.4 26.2-4.3 21-4.1 15-19 54-4.2 18-5.3 33-6.6 12-205.1 0zM353.4 -6l42.4 0 1.3 9-2.3 6-10.8 16.4-6 6.7-3 1.6-6 .2-6-2.2-4.9-4.7-2.5-6-1.9-9z"/><path fill="#ff2600" d="M-3.9 -6l316.2 0-7.7 12-7.6 22.2-3 6.3-14.1 19.5-2.9 6-.2 6 3.1 15 0 12-10.5 51-10.2 75 .4 78-.8 12-9.8 31.1-11 22.9-3.3 9-1.9 9-1.6 21-2.5 12-17.6 54-7.3 42-2.2 6-3.8 6-1.7 6-202.1 0 0-530.9zM354.2 -6l38.9 0 1 9-2 6-8.1 13.1-6 7.2-3 1.8-6 .4-6-2.5-3-2.7-3-6.1-1.8-8.2z"/><path fill="#ff2000" d="M8.4 -3l1.2-3 298.9 0-7.3 9-7.2 16.5-3 4.9-21.5 26.6-5 9-.2 6 6.6 24 1 12-1.9 14.8-5.2 24.2-6.7 48-5.5 30 1.6 75-.8 15-7.4 20.8-15 26.3-5.1 15.9-2.2 12-.1 24-1.5 12-13.6 45-7.5 42-6 15-.9 6-200.1 0 0-504.5 3.7-2.5 1.8-3 4-12zM354.9 -6l36.5 0 .5 9-2.1 6-8.8 14.2-6 5.2-3 .8-6-1.2-3-1.8-3-3.5-3.4-10.7z"/><path fill="#ff1900" d="M13.4 -6l278.2 0 1 3-1.3 9-3 6-31.3 39-5 9 .3 9 9.9 33 1.4 12-8.6 58.4-10.2 49.6 2.7 63-.5 21-4 11.8-18 28.8-8.6 28.4-1.5 12 .5 30-1 12-9.3 36-7.1 38.7-4.5 15.3-1.2 9-198.3 0 0-499.4 6-1.5 3.3-3.1 2.7-6zM355.6 -6l34.3 0 .1 9-2.1 6-6.9 11.1-6 5.6-6 .7-5-2.4-2.6-3-4-12z"/><path fill="#ff1300" d="M16.4 -6l239 0 2.6 4.6 12 7.1 1.8 3.3-1 6-3.2 6-23.1 30-5 9 .3 9 13.7 45 1.8 12-1 12-4.3 27-12.6 54 1.5 54-1.2 27-3.2 12-12.5 19.5-3.8 7.5-11.2 39-.9 9 .6 51-15.2 78-.8 12-196.7 0 0-494.4 6 1.1 3-.6 3-2.5 2.8-4.6 3.2-9.8zM356.3 -6l32.4 0-.3 9-2.4 6-5 8.1-6 5.9-6 .8-3-1.2-3-2.7-3.4-7.9z"/><path fill="#ff0d00" d="M19.4 -6l230.8 0-1.9 27-1.3 6-4.4 9-12.8 18-2.8 6-.4 3 1.5 9 15.4 51 1.8 9 .2 9-2.6 18-13.4 60-.3 42-4.3 42-2.9 9-7.1 12-4 9-13.1 48 1.4 69-3.6 27-6.4 33 0 18-195.2 0 0-468.3 12-13.3 7.1-13.4 2.8-9 2.9-15zM357.1 -6l30.4 0-.2 6-1.6 6-4.7 8.1-6 6.2-3 1.1-3-.2-3-1.5-3-3.5-3-7.9z"/><path fill="#ff0600" d="M23.1 -6l221.7 0-1.8 3.1-3 2.1-9.5 3.8-4.1 3-1.8 3-1.8 30-8.6 21 .5 9 7 27 3.3 21 1.7 24-1.1 27-2 24-4.1 27-1.7 33-5.4 51-1.6 6-8.3 21-11 39-2.4 12 .2 18 4.2 57-1.6 18-6.4 36 2 18-193.5 0 0-432.9 2.7-2.1 1.5-3 5.7-21 14.6-33 5.5-27 .3-6zM357.9 -6l28.5 0-.4 6-2 6-6 8.9-3 2.6-3 1.1-3-.2-4.2-3.4-4.8-11.1z"/><path fill="#ff0000" d="M35.7 -3l3.3-3 144.9 0 8.1 3 2.7 3 1.3 3 1.5 12-.2 45 3.8 30 3.7 54-2.4 39-8.4 39 2.9 66 0 18-1.8 9-11.6 42-2.7 18 .2 12 7.1 72-1.5 18-5.1 33 .6 6 3.5 12-191.6 0 0-427.6 6-2.4 3.2-5 6-18 12.8-30 8-32.6zM358.7 -6l26.6 0-1.3 8.2-3 5.8-6 6.7-3 1.1-3-.4-3.7-3.4-5.3-11.7z"/><path fill="#f90000" d="M73.2 -6l68.3 0-14.6 6-2.4 3 .9 3 6.7 6 23.3 15 5.4 6 1.8 6 .9 18 1.5 9 15.7 60 1.8 12-.8 12-11.5 48-2 15 2.5 60 2.3 33-2.6 24 .1 21 2.4 27 5.3 39 4.3 42-.8 15-4.5 39 .5 3 5.4 12-189.1 0 0-422.5 6 .4 3-1.4 3-3.7 19.8-46.8 8.1-24 5.1-10 6-5 21-7.6 7.2-4.4 1.7-3zM359.5 -6l24.8 0-1.1 6-2.2 5-6 6.8-3 1.1-3-.5-3-2.9-4.8-9.5z"/><path fill="#f20000" d="M360.3 -6l22.8 0-2.8 9-5.3 5.9-3 1.1-3-.8-3-3.1-3-4.8zM85.8 21l4.2 .3 6 3.2 32.4 35.5 6.6 13.9 22.2 55.1 2.7 9 0 9-7 33-.5 15 7.1 48-1.4 60 .7 15 6.4 54 6.7 42 4.7 39 .1 15-4.4 48 1.4 6 3.9 6-183.6 0 0-389.3 12-20.5 21-47.8 12-21.7 8.5-12.7 3.5-3.4 6-3.5 18-5.9z"/><path fill="#ec0000" d="M361.5 -6l20.5 0-1 4.2-3 5.1-3 2.7-3 1-3-1-3-3-3-4.5zM65.3 45l9.7-2.6 6 .9 6 4.3 10.8 12.4 25.2 40.3 11.5 25.7 4 12 .3 6-2.2 18 .8 15 5.5 36 6.9 30 1.5 12-1.2 48 .5 12 8.7 63 8.7 50.7 3.3 27.3-.1 12-3.9 42-1.2 6-5.5 12-166.6 0 0-349.4 3.2-1.6 2.8-4.5 7.9-37.5 7.1-20 9-19.8 6-10.4 6-8.1 21.5-25.7z"/><path fill="#e50000" d="M362.6 -6l18.1 0-2.7 6.3-3 2.8-3 1-3-1.1-3-2.8zM64.4 69l4.6-1.9 3 .5 6 5.6 36 57.3 3.8 7.5 2.5 9 11.6 69 10.8 45 1 12-.8 33 .5 9 9.7 66 12.2 72 .3 15-3.3 39-5.8 21-162.5 0 0-342.4 6-.4 3-2.2 1.8-3 2.8-9 6.4-33 4-11.2 6-12.2 12-16.6 21-22.6z"/><path fill="#df0000" d="M364.1 -6l14.9 0-1 2.9-2.8 3.1-3.2 1.1-3-1-3-2.7zM63.4 93l2.6-.5 3 1 6 6.4 20.2 32.1 6.2 12 11.6 36 8.6 42 12.3 48 1.7 12 .2 27 .9 9 9.6 63 13.5 78 0 12-2.4 33-3.4 24-160 0 0-272.7 4-27.3 3-12 8.6-24 10-45 4.4-11.9 6-8.7 18-19.9 9-9.2z"/><path fill="#d90000" d="M366 -6l10.8 0-1.8 2.7-3 1.2-3-.9zM56.7 120l3.3-2 3-.5 3 1.1 3 2.6 7.4 10.8 6.2 12 28.4 84.7 14.6 53.3 2 12 1.4 21 8.4 60 6.6 31 9.3 53 .5 15-2.2 39 .2 15-157.8 0 0-257.4 3-.4 3-1.6 3.8-7.6 7.2-42 10-38.9 6-19.1 10.3-20 10-12z"/><path fill="#d20000" d="M55.8 147l4.2-1.7 3 2 3 5.1 20.5 63.6 12.8 24 5 12 12.7 42.8 4.6 29.2 5.5 54 9.8 30 9.5 51 1.2 21-.9 30 2.9 18-155.6 0 0-184.3 3-2.8 1.7-4.9 5.8-39 11.3-60 4.7-18 6.5-18.4 9-20.2 12-22.7z"/><path fill="#cc0000" d="M51.7 195l2.3-.7 3 2.2 10.7 25.5 24.9 42 4.8 12 7.6 24.7 4.2 20.3 5.4 57 3 9 12.2 27 6.9 30 3.7 27 .9 39 5.9 18-153.2 0 0-143.3 3-7.2 2.3-14.5 5.5-18 6-45 7.2-37.6 4-16.4 5-12.9 18-30.5 3-4.4z"/><path fill="#c60000" d="M42.8 237l5.2-2.9 3 .4 6 5.8 24 38.7 8.3 18 4.8 18 7.8 63 3.2 9 17.7 36 4.2 12 5.4 27 3.3 51 .8 3 7.3 12-149.8 0 0-109.1 5.2-1.9 2.9-3 6.9-11.6 16.1-21.4 0-6-6.6-15-3.5-12-1-15 1.1-21 5.9-30.7 6-20.9 6-11.9z"/><path fill="#bf0000" d="M41.2 264l3.8-1.8 3 .6 4.5 4.2 18.7 30 5.7 12 1.6 9 2.9 57 3.1 6 8.5 9.2 7.6 11.8 16.4 33.4 6.4 17.6 2.9 21 2.5 54-134.8 0 0-102.1 9 3 3-.6 6-6.5 15-23.3 6-5.3 16.2-9.2 2.9-3 .9-3-3.1-6-13.9-14.1-4.5-6.9-5.4-15-3.5-18 1.1-15 6.1-21 6.2-12.4z"/><path fill="#b90000" d="M41.9 291l3.1 .2 5.8 5.8 5.1 9 2 6 .6 9-.8 12-1.5 6-2.2 3.1-3 .3-3-1.3-6-4.8-6-9.3-3-9-.6-9 1.3-6 4.6-9zM64.7 393l4.3 .3 6.2 2.7 11.8 7.8 6 6.2 7.6 13 13.4 29 3.7 13 2.2 24 1.3 21-1.7 18-125.5 0 0-37.4 3.1-4.6 3.4-24 2.5-6 24-41.5 6-7.6 12-7 12-5z"/><path fill="#b20000" d="M56.3 408l3.7-.8 6 .7 18 12.2 9 9.5 6 10.6 7.2 15.8 3.2 12 2.7 21 3.2 39-99.8 0-.7-3-5.4-9-1.2-9 2.7-36 1.2-9 2-6 12.9-24.7 7.3-11.3 7.7-6.1z"/><path fill="#ac0000" d="M49.7 423l7.3-1.7 3 .2 6 2.6 18 14.3 9 10.8 3.5 6.8 2.9 9 6.8 45 4.7 18-91.6 0-2.5-18 3.6-42 1.9-9 5.5-12 8.2-14 6-6.1z"/><path fill="#a60000" d="M45.6 438l8.4-2.6 6 1.6 20.1 16 6.9 9 3 10.7 6.3 40.3-.3 9-1.3 3-3.1 3-69.4 0 .4-9 4.2-24 3.8-33 2-6 4.8-9 4.6-6.1z"/><path fill="#9f0000" d="M45.3 453l5.7-2.8 6 1.7 8.1 7.1 7.2 12 4.6 15 3.6 21-.3 6-2.9 9-.9 6-51.4 0 2-8.6 3.8-6.4 2.1-6 7.3-45 1.8-4.5z"/><path fill="#990000" d="M50.9 480l3.1 1.3 6 11.2 5.2 17.5 4.2 9 1.7 9-42.6 0 1.5-4.4 9.5-10.6 5.5-21.3 3-8.5z"/><path fill="#930000" d="M45 525l6-1.6 3 .6 7.1 4-22.4 0z"/>
</g><use href="#coast"/><use href="#feat"/></g>
<rect x="0" y="0" width="469.1" height="520.9" fill="none" stroke="#262626" stroke-width="1.6"/>
<path d="M0 104.6h5M469.1 104.6h-5M0 260.6h5M469.1 260.6h-5M0 416.6h5M469.1 416.6h-5M156.7 0v5M156.7 520.9v-5M339 0v5M339 520.9v-5" stroke="#262626" stroke-width="1.4" fill="none"/>
<rect x="476.4" y="0" width="15.7" height="520.9" fill="url(#jet)" stroke="#555" stroke-width="0.5"/>
<path d="M492.1 130.225h-5M492.1 260.45h-5M492.1 390.675h-5" stroke="#333" stroke-width="1" fill="none"/>
<text x="497.1" y="7" font-family="Liberation Serif, serif" font-size="20">1020</text>
<text x="497.1" y="137.225" font-family="Liberation Serif, serif" font-size="20">1019</text>
<text x="497.1" y="267.45" font-family="Liberation Serif, serif" font-size="20">1018</text>
<text x="497.1" y="397.675" font-family="Liberation Serif, serif" font-size="20">1017</text>
<text x="497.1" y="527.9" font-family="Liberation Serif, serif" font-size="20">1016</text>
<text x="156.7" y="545.4" text-anchor="middle" font-family="Liberation Serif, serif" font-size="20">100.89</text>
<text x="339" y="545.4" text-anchor="middle" font-family="Liberation Serif, serif" font-size="20">100.92</text>
<circle cx="195.7" cy="31.9" r="11.3" fill="#ff7300" stroke="#fff" stroke-width="2"/>
<text x="208.5" y="39.3" font-family="Liberation Serif, serif" font-weight="bold" font-size="19.5">ST6</text>
<circle cx="348.6" cy="87.7" r="11.3" fill="#ffa100" stroke="#fff" stroke-width="2"/>
<text x="361.4" y="95.1" font-family="Liberation Serif, serif" font-weight="bold" font-size="19.5">ST1</text>
<circle cx="163.2" cy="218" r="11.3" fill="#ff4c00" stroke="#fff" stroke-width="2"/>
<text x="176" y="225.4" font-family="Liberation Serif, serif" font-weight="bold" font-size="19.5">ST5</text>
<circle cx="344.7" cy="280.1" r="11.3" fill="#ff6600" stroke="#fff" stroke-width="2"/>
<text x="357.5" y="287.5" font-family="Liberation Serif, serif" font-weight="bold" font-size="19.5">ST2</text>
<circle cx="63.8" cy="380.7" r="11.3" fill="#ff0d00" stroke="#fff" stroke-width="2"/>
<text x="76.6" y="388.1" font-family="Liberation Serif, serif" font-weight="bold" font-size="19.5">ST4</text>
<circle cx="222.8" cy="477.3" r="11.3" fill="#ff5900" stroke="#fff" stroke-width="2"/>
<text x="235.6" y="484.7" font-family="Liberation Serif, serif" font-weight="bold" font-size="19.5">ST3</text>
</g>
<g transform="translate(161.7 699.9)">
<g transform="scale(1.00000 1.00038)"><g clip-path="url(#sea)">
<rect x="-2" y="-2" width="474" height="524.9" fill="#000080"/><path fill="#000099" d="M-6 -6l375.9 0 0 9 1.5 6 3.6 7.7 3 4.3 3 2.3 3 .3 15-2.4 78 0 0 315.1-6 2.1-12 1.6-81 .7-3 1.7-3 6.1-9.4 35.5 .4 3.8 3 1.6 4.4 .6 106.6 .2 0 137.8-483 0z"/><path fill="#0000b2" d="M-6 -6l355.1 0 1.6 12 12.3 39.5 9 22.3 6 9.6 3 1.3 3-1.3 11.5-17.4 6.5-3.8 9-.7 66-.1 0 213.8-90 4.5-15-.7-3 1.4-3.5 7.6-3.4 39-3 21-14.2 54-1.1 9 .5 3 1.8 3 7.9 3.6 91.7 26.4 13.3 3.1 18 2.7 0 81.2-483 0z"/><path fill="#0000cc" d="M-6 -6l340.7 0 1.7 9 11.2 36 11.1 48 7.3 19.8 3 6 3 3.4 3 .3 3-2.1 15-15.2 9-7 6-2.9 9-1.1 60 0 0 169.5-30 .3-57 2.5-6-1.8-3-3.6-3-10-3-4.7-3 1-3 3.1-6 10.4-4.1 15.1-1.6 12 .1 30-2.1 27-8.4 36-10.9 36-.9 9 .9 3.8 3 2.8 3 1.3 54.9 16.1 42.3 9 37.8 5.2 0 69.8-483 0z"/><path fill="#0000e6" d="M-6 -6l328.7 0 1.3 6.9 7.4 11.1 3.9 9 5.3 24 8 45 14.4 48.1 3 8 3 4.3 3 .1 3-3.1 9-16.7 6-8.7 6-5.6 9-5.5 12-2 60-.1 0 137.5-39 .1-36 1.5-6-.5-3-1.3-2.5-3.1-1-3-2.5-20.6-6-17.5-6-10.7-3-1.3-1.2 2.1-1.8 4.7-3.2 25.3-8.8 24-4.8 27-.7 12 1.4 39-1.5 18-7.6 33-14 42-3.4 15 .6 5.4 3 3.2 22 6.4 49.3 9 75.7 9.7 0 62.3-483 0z"/><path fill="#0000ff" d="M-6 -6l322.2 0 0 6 1.6 6 10.2 12 4.9 12 10.1 63 16.1 63 2 12-4.7 54-5.4 28-3.4 26-.1 12 2.3 39-1 15-7.8 33-6.6 21-13.5 36-2.9 11 0 4.9 3 3.9 12 2.9 144 18.2 0 55.1-483 0zM409.5 129l10.5-.9 57 0 0 106.7-69 .4-6-1.4-2.8-2.8-9.2-32.3-8.3-24.7-1.2-9 3.5-11.1 7.4-12.9 7.6-7.2z"/><path fill="#001aff" d="M-6 -6l318 0 .3 9 2.7 8.8 12 14.7 4.3 12.5 7.7 54.3 14.3 65.7 1.2 12-2.8 51-7.3 57 2.7 48-.7 15-5.4 24-9.2 30-19.1 48-1.4 6 .2 6 2.1 3 4.4 2.1 18 3.3 57 5.6 84 10 0 48-483 0zM405.1 150l5.9-1.9 6-.6 60-.1 0 71.9-60-.1-6-1.2-3-2.2-3-4.9-6-15.6-6-18.3-1.8-9 1.2-6 3.6-5.6z"/><path fill="#0033ff" d="M-6 -6l315.2 0 .3 9 2.5 11.4 3 6.3 9.9 12.3 4.3 12 9.8 65.9 10.3 51.1 .8 12-1.7 48-6.5 57 2.9 51-.6 12-4.8 21-10 33-20.5 48-2.9 12 .1 6 2.9 4.2 4 1.8 46.3 9 15.7 1.5 39 1.5 63 7.2 0 40.8-483 0z"/><path fill="#004dff" d="M-6 -6l313 0 1 15 4 14.6 3 5.6 9 11.9 4.1 12.9 7.9 55.1 9.7 52.9 .9 15-1.1 45-5.7 57 2.8 51-.5 12-3.1 13.7-12.9 43.3-20.3 45-4.1 15-.6 9 1.9 4 6 2.9 78 15.7 18 1.7 18-1.7 12 0 42 3.8 0 33.6-483 0z"/><path fill="#0066ff" d="M-6 -6l311 0 .9 15 3.1 15.1 3 8.4 9 12.9 2.8 5.6 3.2 12 7.3 51 8.8 51 .1 45-5.4 69 2.7 51-.6 12-16.1 57-5.8 13.4-10.3 19.6-4.8 12-6.6 24-.2 6 .8 3 3.1 3.1 9 2.7 87.3 18.2 26.7 4.7 15 1.1 18-4.4 21-.2 0 25.8-99.5 0-5.5-1.7-6-.3-9 .3-6.5 1.7-356.5 0z"/><path fill="#0080ff" d="M-6 -6l309.1 0 1.3 18 4.6 21.7 3 7.6 9 13.7 3.7 11 15.5 99 0 54-4.4 63 2.5 54-2 12-8.6 27-6.2 24-6.5 14-9.1 16-4.8 12-9.1 30-1 6 .8 6 2.2 3 8.2 3 99.6 21 38.1 9 16.5 6 4.9 3-78.2 0-8.1-3.8-6-.6-15 .9-3 .8-3.8 2.7-353.2 0z"/><path fill="#0099ff" d="M-6 -6l307.2 0 1.7 21 4.9 24 4.2 11.2 9 15.1 3 11.1 13.3 88.6 .1 51-3.6 66 2.3 54-2.4 12-8.9 27-4.7 21-5.1 11.7-9.4 15.3-4.3 9-13.4 42-1.7 12 1.8 5.4 6 3.4 95.5 21.2 8.6 3 2.5 3-4.6 2-6 .7-15-4.7-15 .9-9 1.6-3 1.5-3.2 4-350.8 0z"/><path fill="#00b2ff" d="M-6 -6l305.3 0 2.1 24 4.6 25.1 3 9.9 9 15.8 4 12.2 12.4 84 .1 39-2.8 78 1.8 54-1.7 9-9.6 27-4.7 24-2.5 6.1-11.5 17.9-4.3 9-16.2 51-1.8 12 2.1 6 4.7 3.1 51 11.1 9 3.8-.4 3-2.6 3.3-2.5 5.7-348.5 0z"/><path fill="#00ccff" d="M-6 -6l303.4 0 1.9 24 5.8 33 3.9 11.8 9 16.4 2.8 10.8 10.4 75-1.8 117 1.4 51-1.3 9-10.4 27-4.1 25.6-3 6.8-10.9 15.6-4.1 9-7.6 27-10.5 30-2.6 15 .4 3 2.3 4.2 6 3.1 51 10.5 3.6 3.2 .5 6-346.1 0z"/><path fill="#00e5ff" d="M-6 -6l301.2 0 2.2 27 4.1 27 4.5 18 9 17.2 2.9 9.8 9.3 69 .3 21-3 42 1.8 33 .9 75-1.9 9-6.1 12-3.1 9-4.1 30.1-3 6.3-9 12-5.5 11.6-8.1 30-12.6 36-2.4 15 1.6 6.3 2.7 2.7 3.3 1.6 21.8 4.4 29.2 4 5 2 1.9 3-342.9 0z"/><path fill="#00ffff" d="M-6 -6l298.8 0 2.2 30 3.8 27 4.8 21 9.3 21 8.9 69 0 15-4.9 48 4.5 48 .5 57-.9 6.4-6 11.9-2.8 8.7-4 33-2.5 6-8.7 12.4-5.2 11.6-8.8 33-14.4 42-1.9 9-.3 6 1.4 6 2.1 3 6.1 2.9 24 3.6 27.8 2.5-333.8 0z"/><path fill="#19ffe6" d="M-6 -6l295.9 0 .4 15 2.8 30 4.7 30 7.6 27 6.2 66-3.9 63 3.5 60 .6 45-4.9 24-5.2 36-9.3 18-3.5 9-9.9 36-16.5 51-1 12 2.6 12-270.1 0z"/><path fill="#33ffcc" d="M-6 -6l292.1 0 .2 18 2.6 36 6.5 45 6.6 72-3.3 63 3.8 72 .6 33-8.2 57-9.3 24-12.6 45-14.6 45-1.6 9 .5 15-263.3 0z"/><path fill="#4cffb3" d="M-6 -6l286.3 0 4.2 78 10.4 93-.5 15-4 48 5 84 .4 24-7.8 57-11.8 36-8.1 33-13.9 42-1.8 12 .6 12-259 0z"/><path fill="#66ff99" d="M-6 -6l279.3 0 5.1 96 9.6 75-.4 12-5.4 51 6.3 108-6.7 57-10 33-6.7 33-15.3 45-1.6 12 .7 12-254.9 0z"/><path fill="#7fff80" d="M-6 -6l272.5 0 4.3 99 3.3 30 6 42-.2 9-6.1 54 1.9 51 4.3 48 .3 12-5.5 57-6.8 24-6.4 36-16.1 48-1.3 9 0 15-250.2 0z"/><path fill="#99ff66" d="M-6 -6l263.2 0 1.9 15 3.3 87 8.7 69-.2 9-5.3 45-.5 15 1.2 45 5.1 60-3.2 57-5 21-6.2 36-10.5 30-4 15-2 12-.8 18-245.7 0z"/><path fill="#b2ff4d" d="M-6 -6l256.6 0 1.6 51-.8 51 2.4 24 7.1 48-4.7 54-.2 30 .8 30 5.5 54-.4 51-.8 9-10.4 54-7.7 25.1-4.3 19.9-2.1 15-.7 18-241.9 0z"/><path fill="#ccff33" d="M-6 -6l249.5 0-1.6 9-1 33-4.2 45 4.8 51 4.6 36-3.2 54 1.5 21 .6 36 4.5 27 3.4 30 .2 51-1.1 12-17.2 93-2.2 18-.4 18-238.2 0z"/><path fill="#e5ff1a" d="M-6 -6l158.7 0 3.3 7.3 4.3 4.7 5.3 3 20.4 7.8 6 5.4 3 5.3 6 16.7 10.5 36.8 5.8 30 3.3 27-.2 27 4.6 13.7 1.1 7.3-1.8 39 5.3 27 1.8 30 8.6 35.5 3.3 21.5 0 54-4.7 30-2.9 30-6.6 48-1 27-234.1 0z"/><path fill="#ffff00" d="M-6 -6l133.6 0-1 6 1.4 6 13 18.3 12 22.6 9 12.4 19.8 21.7 3.8 6 1.6 6 .3 6-4.7 48 .8 18 2.9 9 16.5 33 2.8 21 8.6 36 3.4 21 13.1 45 2.2 12 .3 51-2.7 27-1.5 36-5.8 51-.5 21-228.9 0z"/><path fill="#ffe600" d="M-6 -6l56.6 0 3.9 6 10 6 8.3 3 35.2 9 8.7 6 10.7 12 7.6 10.6 5 10.4 14.1 36 6.5 42 6.5 33 9.9 28.1 17.2 43.9 12.8 49 14.9 50 1.9 54-.4 57-6.1 54-1.7 24-221.6 0z"/><path fill="#ffcc00" d="M-6 9l0-2.8 3 .3 21 10.1 21 4.1 30 10 27 6.6 6 2.5 9 7.4 12 13.1 6 8.6 4.3 9.1 5.5 18 12.4 69 19.7 54 16.7 36 23.4 84 4.4 60 1 45-.6 12-6.4 48-2 24-213.4 0z"/><path fill="#ffb300" d="M-6 45l9-.9 12 2.4 36 1.2 39 11 6 3.4 7.6 6.9 11.3 12 5.8 9 3.4 15 5.4 51 1.7 9 12.8 25.1 15.5 37.9 21.6 42 5 15 14.4 57 6.3 51 1.1 33-1.1 27-7.2 57 .3 18-205.9 0z"/><path fill="#ff9900" d="M-6 57l6 13.6 3 2.8 3 1.3 54 .8 12 1.1 9 2.6 6 3.5 4.1 4.3 3.4 6 2.4 9 9.6 57 1.7 6 23.8 39.1 18 42 18.5 32.9 5.5 11.5 6 18.7 12.9 53.8 5.1 30 .4 24-2.1 36-8.9 75-193.4 0z"/><path fill="#ff8000" d="M-4.4 165l10.4-1 45 .1 6 .3 6 1.6 9 6.9 36 35.7 9 10 6 9.4 17.8 39 18.2 35.3 9 19.7 7.5 26 8.8 39 2 18-.2 36-1.4 18-6.7 51 1.3 18-185.3 0 0-362.6z"/><path fill="#ff6600" d="M-6 201l0-.8 2.8 .8 9.2 3.6 18 2.5 29.3 8.9 18.7 6.9 9 6.2 12 15.5 29.3 46.4 22.3 42 13.3 21 5.5 15 5 24 2.9 48-.3 18-5.5 48-1 21-170.5 0z"/><path fill="#ff4d00" d="M-6 285l0-1.7 3-.4 9 1.4 45 13.3 9 3.6 6 3.5 42 33.2 9 10.6 28.5 38.5 4.2 9 1.8 9 2.9 45-2.3 27-7.6 51-150.5 0z"/><path fill="#ff3300" d="M-6 342l0-1.8 3-.2 9 1.3 81 23.5 9 5 9 10.6 8.9 12.6 4.6 9 10.5 28.1 4 13.9 1.1 9-.3 9-6.3 51 .8 6 6.3 9-140.6 0z"/><path fill="#ff1a00" d="M-6 378l6 6.5 6 2.8 55 8.7 9.7 3 4.3 3.7 1.9 5.3 .7 6 .9 42 12 51 .8 21-97.3 0z"/>
</g><use href="#coast"/><use href="#feat"/></g>
<rect x="0" y="0" width="469.1" height="521.1" fill="none" stroke="#262626" stroke-width="1.6"/>
<path d="M0 104.64h5M469.1 104.64h-5M0 260.7h5M469.1 260.7h-5M0 416.76h5M469.1 416.76h-5M156.7 0v5M156.7 521.1v-5M339 0v5M339 521.1v-5" stroke="#262626" stroke-width="1.4" fill="none"/>
<rect x="476.4" y="0" width="15.7" height="521.1" fill="url(#jet)" stroke="#555" stroke-width="0.5"/>
<path d="M492.1 130.275h-5M492.1 260.55h-5M492.1 390.825h-5" stroke="#333" stroke-width="1" fill="none"/>
<text x="497.1" y="7" font-family="Liberation Serif, serif" font-size="20">1020</text>
<text x="497.1" y="137.275" font-family="Liberation Serif, serif" font-size="20">1019</text>
<text x="497.1" y="267.55" font-family="Liberation Serif, serif" font-size="20">1018</text>
<text x="497.1" y="397.825" font-family="Liberation Serif, serif" font-size="20">1017</text>
<text x="497.1" y="528.1" font-family="Liberation Serif, serif" font-size="20">1016</text>
<text x="-7" y="111.64" text-anchor="end" font-family="Liberation Serif, serif" font-size="20">13.22</text>
<text x="-7" y="267.7" text-anchor="end" font-family="Liberation Serif, serif" font-size="20">13.19</text>
<text x="-7" y="423.76" text-anchor="end" font-family="Liberation Serif, serif" font-size="20">13.16</text>
<text x="156.7" y="545.6" text-anchor="middle" font-family="Liberation Serif, serif" font-size="20">100.89</text>
<text x="339" y="545.6" text-anchor="middle" font-family="Liberation Serif, serif" font-size="20">100.92</text>
<rect x="186.6" y="22.8122" width="18.2" height="18.2" fill="#ff8000" stroke="#fff" stroke-width="1.3"/>
<text x="208.5" y="39.3122" font-family="Liberation Serif, serif" font-weight="bold" font-size="19.5">ST6</text>
<rect x="339.5" y="78.6337" width="18.2" height="18.2" fill="#00008c" stroke="#fff" stroke-width="1.3"/>
<text x="361.4" y="95.1337" font-family="Liberation Serif, serif" font-weight="bold" font-size="19.5">ST1</text>
<rect x="154.1" y="208.984" width="18.2" height="18.2" fill="#ff7300" stroke="#fff" stroke-width="1.3"/>
<text x="176" y="225.484" font-family="Liberation Serif, serif" font-weight="bold" font-size="19.5">ST5</text>
<rect x="335.6" y="271.108" width="18.2" height="18.2" fill="#0026ff" stroke="#fff" stroke-width="1.3"/>
<text x="357.5" y="287.608" font-family="Liberation Serif, serif" font-weight="bold" font-size="19.5">ST2</text>
<rect x="54.7" y="371.746" width="18.2" height="18.2" fill="#f20000" stroke="#fff" stroke-width="1.3"/>
<text x="76.6" y="388.246" font-family="Liberation Serif, serif" font-weight="bold" font-size="19.5">ST4</text>
<rect x="213.7" y="468.383" width="18.2" height="18.2" fill="#ff7300" stroke="#fff" stroke-width="1.3"/>
<text x="235.6" y="484.883" font-family="Liberation Serif, serif" font-weight="bold" font-size="19.5">ST3</text>
</g>
<g transform="translate(763.45 699.9)">
<g transform="scale(1.00000 1.00038)"><g clip-path="url(#sea)">
<rect x="-2" y="-2" width="474" height="524.9" fill="#000080"/><path fill="#000080" d="M-6 -6l343.4 0 1.6 6.9 3.8 2.1 116.2 .4 9 1 9 3.8 0 519.8-483 0z"/><path fill="#000099" d="M-6 -6l332 0 3.2 63 3.1 30 8.4 39 10.3 58.7 7.9 37.3 1 57-.8 9-3.6 18-6 27-3 9-19.5 40.5-6 6.9-9.6 6.6-3.8 6-4.6 30-.1 12 1.9 3 4.2 1.6 33 6.1 135 30.5 0 42.8-483 0z"/><path fill="#0000b2" d="M-6 -6l329.3 0 3.7 87.2 13.7 68.8 12.6 72 1.4 60-7.9 39-6 21-12.1 27-4.7 8.6-6 6.6-9.6 5.8-5.4 6.7-2.4 8.3-8.1 42-3.1 9-6 12 1.6 2.5 18-8.5 6-1.5 18 .3 30 5.5 120 27 0 34.7-483 0z"/><path fill="#0000cc" d="M-6 -6l327.4 0 3.3 90 15.4 78 9.6 60 1.9 48-.3 12-10.5 48-9.2 24-10.6 20.3-3.4 3.7-11.6 7.8-5.6 7.2-3.3 9-6.7 33-4.5 15-5.3 9-19.6 24-3 6 2.4 3 3.6 .5 7.7-.5 7.3-2.2 7.8-3.8 23-15 8.2-3.4 12-.9 21 2.7 126 27.6 0 31-483 0z"/><path fill="#0000e6" d="M-6 -6l325.9 0 3.1 93 14.8 75 8.6 57 2.4 51-.4 12-11 48-8.2 21-5.8 12-5.4 8.2-12 9.2-7.6 9.6-3.8 9-8.3 36-4.9 15-5.8 9-20.7 24-3.2 6 0 3 3.3 3.4 6 1.3 12-.2 14-1.5 13-4.2 22-13.8 6.2-3 10.8-1.5 18 1.6 27 5.1 93 20.7 0 28.1-483 0z"/><path fill="#0000ff" d="M-6 -6l324.6 0 2.7 93 14.9 78 7.5 54 2.4 51-.7 15-10.4 42-8 21-9 16.5-15 13.6-6.2 8.9-5.3 12-9 36-5.2 15-5.9 9-21.1 24-2.7 6-.1 3 1.1 3 3.4 2.7 6 1.6 18 .3 21-1.2 16.7-3.4 6.3-3 16-10.1 6-2.6 12-1.3 18 1.9 105 22.5 0 25.6-483 0z"/><path fill="#001aff" d="M-6 -6l323.4 0 2.4 93 3.2 21 11.3 57 6.8 54 2.5 51-.8 15-9.8 38.3-9 23.2-7.8 13.5-13.2 13-9 13.4-5.5 12.6-9.5 36-5.5 15-6.5 9.3-18 19.6-4 7.1-1 6 .9 3 2.4 3 7.7 3.3 18 .8 30-.4 12-.8 14.6-2.9 6.9-3 15-9 5.5-1.8 9-.9 18 1.9 93 19.6 0 23.2-483 0z"/><path fill="#0033ff" d="M-6 -6l322.3 0 2.1 93 2.6 19.2 12.6 67.8 5.8 54 1.7 42-.4 12-7.7 31.2-10.7 28.8-7.3 13-15 16.7-9.3 15.3-5 12-9.2 33-5.3 15-5.7 9-19.5 21.4-5.1 11.6 .7 6 2 3 3.8 3 7.6 2.4 30 1.1 33-.2 15-1.2 12.3-2.1 7.7-3 13-7.2 6-1.7 18 .4 27 4.7 60 12.9 0 20.9-483 0z"/><path fill="#004dff" d="M-6 -6l321.2 0 2.2 96 3.4 24 10.8 60 5.3 54 1.7 42-.4 12-8.2 31-10.1 26-6.8 12-16.1 20.1-9.1 15.9-5.1 12-7.9 27-6.3 18-5.2 9-14.4 14.9-6 8.4-5.2 12.7 .6 6 1.9 3 5.7 4.7 9 2.7 63 1.6 24-.6 18-2.3 24-9.5 9-.6 12 1 72 14.4 0 18.6-109.3 0-4.7-1.4-6-.2-61.3 1.6-301.7 0z"/><path fill="#0066ff" d="M-6 -6l320.2 0 2 96 3.1 24 10.3 60 4.8 54 1.7 42-.5 12-5.6 21.5-12.5 32.5-5.5 10.2-15 19.8-12 21-5.2 12-13.9 42-5 9-14 15-4.4 6-7 15-1 6 .8 3 4.7 6.1 9 5.1 9 1.3 33 1.2 45 .8 24-.7 15.6-1.8 23.4-7.3 9-.3 12 1.2 57 11 0 16.4-106.8 0-4.2-2.2-9-.6-57 1.3-9.2 1.5-296.8 0z"/><path fill="#0080ff" d="M-6 -6l319.2 0 1.7 96 3.1 25.7 9.5 58.3 4.5 57 1.5 39-.6 12-5.9 20.9-13.3 33.1-5.1 9-14.6 20.7-13.5 24.3-3.8 9-9.7 29.6-6 13.4-5.4 8-12.6 14.3-4 6.7-6.7 15-1 6 .8 3 4.6 6 6.3 4.8 6 2.4 9 1.2 63 2.2 42 .5 27-2.1 24-5.4 18 1.1 45 8.3 0 14-104.8 0-6.2-3.8-6-.7-63 1.9-6 1.1-2.5 1.5-294.5 0z"/><path fill="#0099ff" d="M-6 -6l318.2 0 1.6 96 2.9 27 8.6 57 4.3 63 1.2 33-.7 12-6.1 19.7-14.1 34.3-17.3 27-15.2 27-13.4 36.3-5.7 11.7-6 9-9.7 12-5.6 9.1-7.9 17.9-1 6 .8 3 4.6 6 7.7 6 7 3 6.8 1 108 4.5 39-2.3 24-3.5 15 .6 36 6 0 11.7-103 0-5-4.9-9-1.7-63 2.5-6 1.2-4.2 2.9-292.8 0z"/><path fill="#00b2ff" d="M-6 -6l317.1 0 1.5 96 2.6 27 8 60 4.1 72 .5 24-.8 9-3.7 12-17.1 42-32.1 54-13.1 33.7-6.2 11.3-18.1 27-9.7 21-2.1 9 .8 3 4.6 6 9.7 7.6 6 2.8 9 1.4 52.3 3.2 23.3 3-36.6 3.4-6 2.5-2.8 3.1-291.2 0zM419.2 516l24.8-1.5 33 4.4 0 9.1-101 0-3.7-6 .7-3 2-.6 6-1z"/><path fill="#00ccff" d="M-6 -6l316.1 0 1.3 96 2.6 30 6.7 57 3.5 66 .5 27-.7 9.8-3.3 11.2-18.1 45-30.3 51-14.3 33.7-23.2 38.3-11 24-2 9 .7 3 4.5 6 10 7.9 6 3.5 9 2 28.4 1.6 10.3 3-6.9 9-289.8 0zM442.9 519l13.1 .3 21 2.5 0 6.2-99 0-.7-3 .7-3.2 6-1.6 33 0z"/><path fill="#00e5ff" d="M-6 -6l315 0 1.2 96 7.9 87 3 66-.6 36-2.5 9-19 48-28.6 48-15.2 33-18.2 29.9-15 32.7-3 10.1 .5 5.3 1.5 3 6.1 6 9.9 7.3 6 3.2 6 1.5 24 1.3 9 1.5 2.5 3.2-2 6-288.5 0zM382.3 525l7.7-1.4 69 .6 18 1.6 0 2.2-95.9 0z"/><path fill="#00ffff" d="M-6 -6l313.8 0 1.3 99 5.7 75 2.5 57 .3 36-1 18-2.6 9-18.5 48-28.7 48-14.8 30-15 24-18 41.6-2.8 12.4 1.8 6 2.4 3 19.6 14.4 9 2.5 27 1.7 4.8 2.4 .2 6-287 0z"/><path fill="#19ffe6" d="M-6 -6l312.6 0 1.1 96 4.3 78 1.9 57-.3 36-1.1 18-2.6 9-18.1 48-25.3 42-14.5 27.6-18 29.4-16.8 42-3.2 12 .2 6 3 6 19.8 15 9 3.6 30 2.4 3 2.7 .4 3.3-285.4 0z"/><path fill="#33ffcc" d="M-6 -6l311.2 0 1.1 96 2.7 72 1.2 63-.8 39-1.2 15-2.6 9-18.9 51-22.4 36-12.3 22.4-16.3 25.6-4.6 9-15.1 40.4-4.1 16.6 .8 9 3.3 5.1 21 15.4 9 3.3 27 2 3 1.3 1.3 2.9-283.3 0z"/><path fill="#4cffb3" d="M-6 -6l309.7 0 2.5 165-.2 72-2.4 48-20.7 60-52 84-17.9 50.5-3.2 15.5 .7 9 3.2 6 23.3 17.2 9 3.3 24 1.5 4.3 2-280.3 0z"/><path fill="#66ff99" d="M-6 -6l308 0 1.7 144-2.2 96-2.8 45-19.7 60-46.2 72-4.8 8.9-15.8 48.1-4.3 21 .6 9 1.5 4.4 3 4.3 27 19.6 7.1 1.7-253.1 0z"/><path fill="#7fff80" d="M-6 -6l306 0 1.1 135-4.9 114-2.6 36-15.2 51-3.6 9-43.8 66.3-4.6 8.7-16.4 52.9-3.6 19.1 .1 12 3.5 8.8 3 3.2 15 10 8.1 8-242.1 0z"/><path fill="#99ff66" d="M-6 -6l303.2 0 1.4 72-.2 45-1.4 26.9-2.5 24.1-.5 30.2-5.8 86.8-14.4 51-3.5 9-39.3 57.8-6.3 11.2-4.3 12-11.5 42-4 21-.7 12 1 6 2.3 6 5.4 6 14 9 5.1 6-238 0z"/><path fill="#b2ff4d" d="M-6 -6l297.7 0-.1 12 2.7 45 .4 42-.7 13-3 21.9-7 34.1 0 6 3.4 18 .5 12-5.6 81-13.4 51-3.4 9-35.9 51-8.2 15-14.4 54.2-4 23.8-.3 15 4 12 3.3 4 13.1 8 5.6 6-234.7 0z"/><path fill="#ccff33" d="M-6 -6l232.2 0 1.5 12 9.3 19.5 3 9 6 41.6 3 8.3 3 2.9 3 1 18 .8 3 .9 3 2.9 1.4 9.1-1.2 12-9.4 42-1.1 9 1.7 9 7.7 21 2 12-1 36-3.8 39-11.5 48-2.8 7.7-6 9.6-27.6 36.7-8.8 15-7.8 30-8.8 45-1.6 21 1.6 9 2 5.8 4.4 6.2 13.6 8.6 3.3 3.4-231.3 0z"/><path fill="#e5ff1a" d="M-6 -6l199.1 0 1.9 18.1 9 33 12.8 32.9 17.2 49.8 14.8 31.2 19.2 48 2.8 9 1.2 9-3 54-11.9 54-5.1 9.7-16.3 20.3-19.7 27.7-4.3 11.3-5.8 30-6.7 48-.9 12 .8 9 2.5 9 3.1 6 2.8 3 13.1 9-226.6 0z"/><path fill="#ffff00" d="M-6 -6l183 0 .1 9 1.9 12 11.8 57 8.4 33 19 51 3.3 6 20.7 27 5.7 9 8 18 2.8 12 2.5 54-10.1 48-2.3 6-3.7 6-26.1 32.2-6.6 9.8-5.9 12-2.6 12-7.3 75-.2 15 1.8 9 3.3 9 4.7 6 7.7 6-219.9 0z"/><path fill="#ffe600" d="M-6 -6l159.3 0 2.2 15 9.4 39 7.2 36 .9 12 0 39 1 9 2.4 9 2.8 6 5.9 6 11.4 6 13.5 5.6 6 3.9 6 6.8 7 10.7 10.8 18 3.8 9 9.4 51 .1 6-1.3 9-8.1 36-3.1 9-6.1 9-21.5 25.5-11.6 19.5-2.9 9-4.8 96 1.7 12 2.8 9 3 6 5.4 6-212.6 0z"/><path fill="#ffcc00" d="M-6 -6l128.4 0 2.4 12 20.2 60 6 21 1.2 15 .8 54 2.4 9 5.5 6 7.1 4.5 30 11.2 9 4.8 6 5.8 6 7.7 7 11 4.4 9 12.6 48 .6 9-1.5 9-11.5 45-3.7 6-13.9 16.1-13.4 19.9-5.4 9-2.7 9 .6 57-1.1 45 2.6 15 5.1 15-204.7 0z"/><path fill="#ffb300" d="M-6 -6l99.7 0-2.3 9 .5 3 2.9 6 19.2 30.2 6 15.1 9.6 29.7 2.3 15 4.3 54 2.3 9 1.8 3 6.3 6 18.4 13.2 9 5 18 7 6 3.4 12.7 13.4 7 12 8.9 33 3.5 18-.4 6-5.5 24-3.1 21-1.8 6-3.6 6-26.7 34.4-4.1 10.6-1.4 9 3.9 57 .3 48 4.9 27-198.6 0z"/><path fill="#ff9900" d="M-6 6l0-2.2 9 .6 51 16.2 9 5.7 9 9 24 29.7 6 8.8 4.9 10.2 3.2 15 4.4 60 1.6 6 3.4 6 6.5 7.5 6 4.8 21 10.3 36 20.2 7.7 8.2 5.8 12 9.4 30 3.1 15-5.8 48-2.2 8.3-3 5.3-17.5 19.4-3.5 5.6-5.1 15.4-2.7 15 7.3 69 1.6 45 3 18-193.1 0z"/><path fill="#ff8000" d="M-6 45l0-1.1 7.8 1.1 10.2 5.2 18 6.3 8.4 6.5 18.5 18 6.1 6.8 4.5 8.2 15.9 60 2.3 6 4.1 6 33.2 31 43.7 20 8.3 6 3.8 6 2.5 12 3.6 33 1.7 6 6.5 15 1.2 9-1.3 15-2.4 12-3 6-7.6 10-4 8-7.5 27-2.1 12 10.6 80 2.3 52-185.3 0z"/><path fill="#ff6600" d="M-6 54l0-1.6 2.7 4.6 6.3 22.6 9 18.9 42.5 69.5 9.6 9 49.9 38.3 14.5 9.7 3.8 6 4.4 39 1.9 9 4.3 9 23.1 39 2.8 9-.9 9-10.6 42-1.3 9 .8 9 10.1 57 5.3 42 .6 12-1.9 12-176.9 0z"/><path fill="#ff4d00" d="M-6 111l9 11.3 12 26.5 10.5 19.2 16.2 33 6.3 6.9 24.2 17.1 14.9 18 6.6 12 5.2 21 2.4 6 27.7 39.1 10 17.9 5 17.6 2.1 12.4-2 24 .6 9 13.6 69 6.7 41.5 .5 15.5-171.5 0z"/><path fill="#ff3300" d="M-6 132l0-1.9 1.9 1.9 2.6 6 6.1 24 .9 9-3.3 21-2.2 5.6-6 7.5zM-6 231l0-1.4 3 .4 9 5.2 18 17.6 21.6 26.2 29.4 21.8 20.9 26.2 11.8 18 6.4 15 9.8 36 14.1 36.6 6 24 8.3 44.4 6.7 27-165 0z"/><path fill="#ff1a00" d="M-6 264l6 18 4.2 21 4.8 8.2 6 4 31.4 14.8 13.5 9 12.1 15.4 15 24.8 25.3 58.8 5.1 9 11.6 16.5 3 6.4 4 16.1 2.3 21 3.8 21-148.1 0z"/><path fill="#ff0000" d="M-3.9 456l9.9 1.6 39 15.1 52.8 16.3 13.2 5.9 3 3.4 1.3 5.7 .2 15-1.5 8.3-.6 .7-119.4 0 0-71.7z"/>
</g><use href="#coast"/><use href="#feat"/></g>
<rect x="0" y="0" width="469.1" height="521.1" fill="none" stroke="#262626" stroke-width="1.6"/>
<path d="M0 104.64h5M469.1 104.64h-5M0 260.7h5M469.1 260.7h-5M0 416.76h5M469.1 416.76h-5M156.7 0v5M156.7 521.1v-5M339 0v5M339 521.1v-5" stroke="#262626" stroke-width="1.4" fill="none"/>
<rect x="476.4" y="0" width="15.7" height="521.1" fill="url(#jet)" stroke="#555" stroke-width="0.5"/>
<path d="M492.1 130.275h-5M492.1 260.55h-5M492.1 390.825h-5" stroke="#333" stroke-width="1" fill="none"/>
<text x="497.1" y="7" font-family="Liberation Serif, serif" font-size="20">1020</text>
<text x="497.1" y="137.275" font-family="Liberation Serif, serif" font-size="20">1019</text>
<text x="497.1" y="267.55" font-family="Liberation Serif, serif" font-size="20">1018</text>
<text x="497.1" y="397.825" font-family="Liberation Serif, serif" font-size="20">1017</text>
<text x="497.1" y="528.1" font-family="Liberation Serif, serif" font-size="20">1016</text>
<text x="156.7" y="545.6" text-anchor="middle" font-family="Liberation Serif, serif" font-size="20">100.89</text>
<text x="339" y="545.6" text-anchor="middle" font-family="Liberation Serif, serif" font-size="20">100.92</text>
<rect x="186.6" y="22.8122" width="18.2" height="18.2" fill="#a6ff59" stroke="#fff" stroke-width="1.3"/>
<text x="208.5" y="39.3122" font-family="Liberation Serif, serif" font-weight="bold" font-size="19.5">ST6</text>
<rect x="339.5" y="78.6337" width="18.2" height="18.2" fill="#000080" stroke="#fff" stroke-width="1.3"/>
<text x="361.4" y="95.1337" font-family="Liberation Serif, serif" font-weight="bold" font-size="19.5">ST1</text>
<rect x="154.1" y="208.984" width="18.2" height="18.2" fill="#ff5900" stroke="#fff" stroke-width="1.3"/>
<text x="176" y="225.484" font-family="Liberation Serif, serif" font-weight="bold" font-size="19.5">ST5</text>
<rect x="335.6" y="271.108" width="18.2" height="18.2" fill="#004dff" stroke="#fff" stroke-width="1.3"/>
<text x="357.5" y="287.608" font-family="Liberation Serif, serif" font-weight="bold" font-size="19.5">ST2</text>
<rect x="54.7" y="371.746" width="18.2" height="18.2" fill="#ff2600" stroke="#fff" stroke-width="1.3"/>
<text x="76.6" y="388.246" font-family="Liberation Serif, serif" font-weight="bold" font-size="19.5">ST4</text>
<rect x="213.7" y="468.383" width="18.2" height="18.2" fill="#ff6600" stroke="#fff" stroke-width="1.3"/>
<text x="235.6" y="484.883" font-family="Liberation Serif, serif" font-weight="bold" font-size="19.5">ST3</text>
</g>
<g transform="translate(1365.2 699.9)">
<g transform="scale(1.00000 1.00038)"><g clip-path="url(#sea)">
<rect x="-2" y="-2" width="474" height="524.9" fill="#ff8c00"/><path fill="#ff8600" d="M-6 -6l483 0 0 534-483 0zM348 83.3l-3 .9-3 2.5-3.5 6.3-.7 9 1 21 3.2 35.2 3 16.3 4.1 11.5 1.9 2.5 3 1.1 6-1.8 6-6.4 3-8.7 .7-13.7-3.7-31.8-6-31.2-2.8-6-3.2-3.7-3-2.2z"/><path fill="#ff8000" d="M-6 -6l483 0 0 294.7-102-.4-6 1.6-3 6.5-6.9 27.6-3.1 9-3.6 6-34.4 45.8-27 55.4-1.5 6.8 2 3 8.5 1 177 0 0 77-483 0zM345 71l-9 6.1-6 6.5-2.6 6.4-.8 9 9.4 98.3 3 14.4 3 4.7 3 .5 15-10.2 9-9.1 4.2-11.6 2.4-21-3-39-4.9-30-4.4-9-9.3-11.3-6-4.8z"/><path fill="#ff7900" d="M-6 -6l483 0 0 282-93-.8-6-1.1-5.2-4.1-2.1-6-1.7-18-5-18 1.3-6 6.7-9.2 3-6.1 3-12.7 2-17 .1-24-2.5-33-2.6-21.7-1.4-5.3-3.1-6-10.5-12.5-9-13.7-3-2.4-3-.4-15 6.3-3 3.1-1.9 4.6-3.2 12-1.4 12 0 18 5.1 48 6.3 84 3.1 15 6.8 18 0 9-2.8 10.8-3 6.9-3 4.2-12 11.2-6 7.9-9 15.6-8.5 18.4-10.4 30-11.1 24.6-4 11.4-6.9 27-3 24 1.9 8 3 2.2 6 .9 204 .1 0 36.8-113.6 0-6.4-2.2-9-.3-12 .3-6.4 2.2-335.6 0z"/><path fill="#ff7300" d="M-6 -6l483 0 0 276.4-24-1.3-63-.2-9-1.9-2.8-3-1.8-9 .9-27 4.9-27 3.1-36-3-51-2.4-21-4.6-9-11-12-4.3-6-9-17.8-3-3.1-10.4-3.1-7.6-8.9-3 .4-3 7.1-3 14.9-4.4 34.5-1.3 24 .7 18 3.5 33 .8 27 2.6 30 1.2 60-1.6 6-17.8 39-29 54-8.7 22.3-15 61.2-6.6 36.5-2.6 27-248.8 0z"/><path fill="#ff6c00" d="M-6 -6l324.8 0 2.5 9 .2 9-8.5 75-2.5 39 5.4 99-.3 54-2.4 9-13.2 32-27 49.3-9 20.7-15 57.1-13.6 68.9-3.6 12-237.8 0zM337.9 -6l139.1 0 0 271.4-27-2-57-.3-6-1.1-4.2-4-1.3-6 .4-12 5.4-45 2.5-30-2-42-2.5-30-4.3-10.5-18-20.2-12-27.5-8.9-13.8-3.4-12z"/><path fill="#ff6600" d="M-6 -6l321 0 1.4 9-.1 12-8.3 87-2.2 33 3 93-.5 51-2.4 9-8.9 21.9-27 50.9-11.4 29.2-15.6 60.4-15.9 77.6-233.1 0zM345.6 -6l131.4 0 0 266.6-30-2.7-51-.6-6-1.7-3-3.6-1-6 .3-9 6-51 1.5-21-.8-32.3-2.7-39.7-2.7-9-3.6-6.6-15-14.9-6-8.9-16-44.6z"/><path fill="#ff6000" d="M-6 -6l318.4 0-.2 24-11.5 129 1.1 87-.7 45-2.4 9-6.2 15-25.5 50-13.4 37-16 63-14.5 75-229.1 0zM349.3 -6l127.7 0 0 261.9-36-3.7-42-.8-5.9-2.4-1.8-3-.8-12 5.5-48.8 1.4-23.2-.3-36-2-33-2.4-9-5.7-11.6-5.5-6.4-10.6-9-6.2-9-14.5-42z"/><path fill="#ff5900" d="M-6 -6l316.1 0-2.1 30-13.3 138-.7 117-2.5 9-3.5 8.3-21 41.6-19.1 55.1-14.3 57-14.8 78-224.8 0zM351.6 -6l125.4 0 0 257.1-39-4.4-33-.8-6-1.5-3-3.1-1.3-10.3 4.3-42 1.8-30 .3-39-1.1-27-3.6-12-7.3-15-5.1-6.2-12-9.1-6-9-6.6-20.7-6.7-15z"/><path fill="#ff5300" d="M-6 -6l313.6 0-2 12-8.6 89.9-9.3 72.1-.9 111-4 12-18.8 38.1-19.9 60.9-14.2 57-11.9 69-3.1 12-220.9 0zM353.2 -6l123.8 0 0 252.3-42-4.9-27-1.4-6-2.2-2.3-3.8-.7-9 3.3-36 1.6-30 1.6-60-.7-9-4.5-12-10.3-20.5-6-6.1-9-5.4-6-7.3-7.7-20.7-6.4-12z"/><path fill="#ff4c00" d="M-6 -6l310.8 0-2.9 12-4.9 51.4-6 46.5-10.3 64.1-.4 99-.7 12-2.9 9-17.1 36-19.3 63-13.1 54-12.1 75-3.2 12-217.9 0zM354.6 -6l122.4 0 0 247.6-66-7.4-3-1-3-2.5-1.6-5.7 0-6 4.8-87 2.2-24 3.4-18-.9-3-7.9-12.2-14.9-26.8-3.1-3-12-6.7-3-3.3-7.6-17-7.6-12-1.7-6z"/><path fill="#ff4600" d="M-6 -6l306.8 0-2.7 9-4.1 40.6-6 40.9-14.2 80.5-.6 105-.8 9-3 9-13.8 30-17.6 60-13.2 57-11.8 78-3.4 15-215.6 0zM355.7 -6l121.3 0 0 75-57-.1-9-2.1-6-5.8-9.8-16-4.7-6-3.5-2.6-9-3.7-5.6-5.7-4.8-9-9-12-2.1-6zM420.3 111l8.7-1.4 48 0 0 127.2-60-8-3.3-.8-4-3-1.7-5.3-.1-6.7 3.2-69 2.9-21.6 3-8.2z"/><path fill="#ff4000" d="M-6 -6l298.6 0 .3 15-1.9 17.8-24.4 138.2-.6 105-.8 9-1.7 6-11.8 27-16.9 60-12.8 60.1-11 77.9-3.3 18-213.7 0zM356.9 -6l120.1 0 0 55.7-60 0-9-1.9-6-5.3-9-10.9-6-3.5-9-3.2-3-2.4-15-17.2-2.2-5.3zM428.1 129l48.9-.1 0 102.9-27.4-3.8-26.6-5.4-6-2.6-2.6-4-1.2-9-.5-24 .5-18 1.6-15 2.2-11.3 3-6.4 3-2.3z"/><path fill="#ff3900" d="M-6 -6l288.3 0 3.3 6 1.3 9-1.3 12-26.2 144-.5 105-.8 9-11.3 30-15.2 57-5.1 30-7 33-13.6 99-211.9 0zM357.9 -6l119.1 0 0 36.4-63 0-9-1.4-12-7.4-15-3.4-6-3.6-9.7-8.6-3.3-6zM424.2 150l1.8-1 6-.8 45-.1 0 77.9-18-3.3-12.1-3.7-11-6-12.9-12.3-3-6.4-1.1-5.3-1.4-18 2.5-15.5z"/><path fill="#ff3300" d="M-6 -6l283.7 0 2.3 12-.8 12-27.7 147-.1 111-1.2 6-8.2 24-14 56.3-4.6 30.7-6.4 33-12.9 102-210.1 0zM358.9 -6l46 0-.6 9-4.1 6-4.2 2.2-9 2.3-9 .5-6-2.2-7.8-5.8-3.9-6z"/><path fill="#ff2d00" d="M-6 -6l280.1 0-2.1 24-11 59.5-9 42.6-9 34.2-.9 13.7 0 48 2 60-18.9 78-5.4 39-4.8 27-3.6 36-8.3 60-.9 12-208.2 0zM359.9 -6l35.4 0-1.1 6-3.6 6-6.6 3.8-6 1.2-6-1.3-6-3.9-4.4-5.8z"/><path fill="#ff2600" d="M-6 -6l276.5 0-4.1 12-5.4 32.9-9 41.7-6 22-10.2 29.4-2.1 9-1 15 0 63 3.8 60-14.7 66-9.3 72-3.5 39-8.3 60-.6 12-206.1 0zM360.9 -6l30.9 0-3.6 9-4.2 3.5-6 2.1-6-.8-6-3.8-3.1-4z"/><path fill="#ff2000" d="M-6 -6l271.1 0-5.7 9-2.6 18-4.8 20.6-16.4 51.4-8.6 24-3 12-.9 18 .1 75 2.1 27 3.8 33-12.1 57-10 114-8.6 60-.9 15-203.5 0zM361.9 -6l27.3 0-2.1 6-2.3 3-3.8 2.6-6 1.2-6-2.1-3-2.5-3-4.6z"/><path fill="#ff1900" d="M-6 -6l254.4 0 .8 12-2 12-17.3 42-6.8 27-7.1 21.8-1.9 11.2-.3 105 2.1 21 5.3 27 .8 9-10.9 54-6.7 117-10.3 75-200.1 0zM362.9 -6l24.2 0-2.4 6-3 3-3.7 1.9-3 .3-6-2.1-3-2.7z"/><path fill="#ff1300" d="M-6 -6l233.4 0 4.3 9 .8 3-.2 6-14.3 36-12.3 51-1.3 9-.2 114 1.8 15 8 36 .8 9-10 54-3 114-11.4 78-196.4 0zM364 -6l21.4 0-1.4 3.6-3 3.8-6 2.3-6-2.2-3-3.1z"/><path fill="#ff0d00" d="M-6 -6l226.3 0-13.2 39-14.8 57 1.4 129 2.1 12 10.4 39 1.5 12-7.4 42-2.3 18-.5 27 1 84-11.1 75-193.4 0zM365.1 -6l18.7 0-3.6 6-5.2 2.2-6-2.3z"/><path fill="#ff0600" d="M-6 -6l207.2 0-4.1 6-2.7 15-5.4 14.6-29.7 48.4-3.8 9-.1 3 2.2 6 10.4 15.1 3.9 8.9 1.5 12 .5 30 5.5 24 1.4 36 14.2 36.3 5.3 20.7-.5 9-6.8 42-1.4 15 3.4 108-6.8 42-3.1 33-191.1 0zM366.2 -6l16.1 0-1.4 3-2.9 2.8-3 .9-3-.5-3-2z"/><path fill="#ff0000" d="M367.6 -6l13.3 0-2.9 4-3 1.1-3-.5zM2.5 12l57.5-.7 15 1.7 6 3.3 40.9 28.7 6.1 6 .9 3-1 6-12.4 24-.9 6 .7 3 5.4 9 26.3 35.8 3.4 6.2 1.7 6 2.4 18 9.8 27 1.8 24 1.2 6 21.1 45 3.3 12-6.4 60 3.2 75 2.5 36-6.1 39-1.8 36-189.1 0 0-511.8 3-2.4z"/><path fill="#f90000" d="M369 -6l10.2 0-1.2 1.8-3 1.7-3-.6zM-6 51l0-.8 15 2.4 18 .6 9 2.7 4.7 4.1 19.3 24 18 12.4 6 6.3 50.1 68.3 14.4 33 5.5 24 23.2 48 2.2 12-1.9 48 3.1 30 2.8 51 3.4 33-5.4 42-.8 21 .6 15-187.2 0z"/><path fill="#f20000" d="M371.1 -6l6.1 0-2.2 1.5zM-4.3 93l4.3-.1 6 1.6 51 20.2 9 4.1 6 4.9 46 59.3 19.5 42 24.2 48 3.3 12-.4 27 1.1 15 8.6 39 3.9 48 4.2 33-.1 9-3.1 21-1.1 15-.3 24 1.5 12-185.3 0 0-434.6z"/><path fill="#ec0000" d="M-1.7 120l4.7-2.4 6 1.5 21 11.9 24 10.3 9 6.4 37.3 44.3 14.8 30 19.9 28.6 12.3 22.4 3.5 12 1.5 24 3.8 27 9.8 30 2.9 12 8.9 66 .5 9-2.7 24-.8 27 .5 15 2 9-183.2 0 0-406z"/><path fill="#e50000" d="M-6 129l0-.8 6 2 12 10.1 36.4 24.7 26.3 27 9.8 12 13 24 31.5 42.6 6 9.9 3.1 10.5 7 45 18.4 54 7.5 39 2.9 24-2 27-.3 33 .5 6 2.5 9-180.6 0z"/><path fill="#df0000" d="M-6 138l0-2.7 1.9 2.7 4.1 9.8 3.7 5.2 25.8 21 35 36 13.6 21 33.5 45 11.7 21 5.7 14.8 6.8 30.2 23.7 60 5.5 22.1 4.2 25.9-1 63 .7 9 2.2 6-177.1 0z"/><path fill="#d90000" d="M-6 177l0-1.9 3-.2 3 .9 6 3.7 36 35.4 12 13 38.2 51.1 27.8 52.3 23.6 55.7 11.4 24 7 27 2.3 18-.5 72-169.8 0z"/><path fill="#d20000" d="M-6 198l3 .5 3.8 2.5 10.7 12 33.5 33.6 12 13.7 13.8 18.7 18.3 30 22.3 30 8.6 15.4 16.8 38.6 12.5 24 8 30 1.2 12 .4 57-1.1 6-3.1 6-160.7 0z"/><path fill="#cc0000" d="M-6 234l0-1.9 3-.2 3 .9 6 3.8 51 49.7 40.2 49.7 16.8 27.9 14.7 32.1 14.8 27 6.2 21 1.8 12 1.4 57-.3 6-2.6 9-156 0z"/><path fill="#c60000" d="M-6 255l3 .5 3.7 2.5 10.8 12 10.5 9 26 15.3 9 7.8 30.4 36.9 20.6 34.7 12.8 25.3 15.4 27 6.3 18 1.9 12 .6 30 2.2 30-.3 12-152.9 0z"/><path fill="#bf0000" d="M-6 285l3-.6 9 2.6 42 21.6 6 4.8 9 9.7 16.4 21.9 49.1 84 5.7 12 2.8 12 3.2 51 3.9 24-150.1 0z"/><path fill="#b90000" d="M-1.2 303l4.2-1.4 6 1.3 36 18.1 11.2 9 9.3 12 28.1 51 23.4 33.9 9.9 17.1 3.1 12 5.1 57 1.5 6 4.3 9-146.9 0 0-223z"/><path fill="#b20000" d="M-6 312l0-1 3 .3 6 2.2 36 18.9 9 6.1 6 6.9 27.2 50.6 32.8 44.7 5.5 9.3 3.1 12 6.7 54 2.1 6 4.7 6-142.1 0z"/><path fill="#ac0000" d="M-6 318l0-.6 .9 .6 8.1 9.4 22.3 14.6 19.7 19.1 9 12.1 14.9 25.8 35.4 48 3.4 6 3 9 6.3 29.3 5.2 30.7 1.8 6-130 0z"/><path fill="#a60000" d="M-6 348l0-1.4 3-.1 3 .8 6 3.7 36 35.5 21 24.3 28.9 39.2 4.6 12 11.6 51 0 6-6.3 9-107.8 0z"/><path fill="#9f0000" d="M-6 369l3 .6 3.5 2.4 8.5 9.8 24 24 24 18.9 9 9.6 9.7 12.7 4.7 9 2.5 9 11.7 51 .6 12-101.2 0z"/><path fill="#990000" d="M-6 405l0-1.5 3-.1 6 2.5 21 18.7 27.9 19.4 8.1 7.6 4.4 7.4 4.6 12.3 11.9 44.7 8.5 12-95.4 0z"/><path fill="#930000" d="M-6 426l3 .7 3.5 2.3 8.2 9 11.5 9 5.7 6 1.5 3 1.3 6 1.2 24 2.5 6 6.4 6 18.2 13.3 12.8 16.7-75.8 0z"/>
</g><use href="#coast"/><use href="#feat"/></g>
<rect x="0" y="0" width="469.1" height="521.1" fill="none" stroke="#262626" stroke-width="1.6"/>
<path d="M0 104.64h5M469.1 104.64h-5M0 260.7h5M469.1 260.7h-5M0 416.76h5M469.1 416.76h-5M156.7 0v5M156.7 521.1v-5M339 0v5M339 521.1v-5" stroke="#262626" stroke-width="1.4" fill="none"/>
<rect x="476.4" y="0" width="15.7" height="521.1" fill="url(#jet)" stroke="#555" stroke-width="0.5"/>
<path d="M492.1 130.275h-5M492.1 260.55h-5M492.1 390.825h-5" stroke="#333" stroke-width="1" fill="none"/>
<text x="497.1" y="7" font-family="Liberation Serif, serif" font-size="20">1020</text>
<text x="497.1" y="137.275" font-family="Liberation Serif, serif" font-size="20">1019</text>
<text x="497.1" y="267.55" font-family="Liberation Serif, serif" font-size="20">1018</text>
<text x="497.1" y="397.825" font-family="Liberation Serif, serif" font-size="20">1017</text>
<text x="497.1" y="528.1" font-family="Liberation Serif, serif" font-size="20">1016</text>
<text x="156.7" y="545.6" text-anchor="middle" font-family="Liberation Serif, serif" font-size="20">100.89</text>
<text x="339" y="545.6" text-anchor="middle" font-family="Liberation Serif, serif" font-size="20">100.92</text>
<rect x="186.6" y="22.8122" width="18.2" height="18.2" fill="#940000" stroke="#fff" stroke-width="1.3"/>
<text x="208.5" y="39.3122" font-family="Liberation Serif, serif" font-weight="bold" font-size="19.5">ST6</text>
<rect x="339.5" y="78.6337" width="18.2" height="18.2" fill="#ff8c00" stroke="#fff" stroke-width="1.3"/>
<text x="361.4" y="95.1337" font-family="Liberation Serif, serif" font-weight="bold" font-size="19.5">ST1</text>
<rect x="154.1" y="208.984" width="18.2" height="18.2" fill="#910000" stroke="#fff" stroke-width="1.3"/>
<text x="176" y="225.484" font-family="Liberation Serif, serif" font-weight="bold" font-size="19.5">ST5</text>
<rect x="335.6" y="271.108" width="18.2" height="18.2" fill="#eb0000" stroke="#fff" stroke-width="1.3"/>
<text x="357.5" y="287.608" font-family="Liberation Serif, serif" font-weight="bold" font-size="19.5">ST2</text>
<rect x="54.7" y="371.746" width="18.2" height="18.2" fill="#820000" stroke="#fff" stroke-width="1.3"/>
<text x="76.6" y="388.246" font-family="Liberation Serif, serif" font-weight="bold" font-size="19.5">ST4</text>
<rect x="213.7" y="468.383" width="18.2" height="18.2" fill="#910000" stroke="#fff" stroke-width="1.3"/>
<text x="235.6" y="484.883" font-family="Liberation Serif, serif" font-weight="bold" font-size="19.5">ST3</text>
</g>
<g transform="translate(162.1 1375.7)">
<g transform="scale(0.99723 0.99846)"><g clip-path="url(#sea)">
<rect x="-2" y="-2" width="474" height="524.9" fill="#fff700"/><path fill="#ffee00" d="M-6 -6l125.3 0 7.7 15 0 15 .6 3 1.4 1.9 3.1-1.9 0-15 1-6 6.8-12 337.1 0 0 534-483 0z"/><path fill="#ffe600" d="M-6 -6l118.4 0 .8 15-3 18 .3 3 1.4 3 6.6 6 4.5 2.5 6 1.4 3-.5 6-2.9 6.6-6.5 1-6-1.7-9-.4-9 2.2-15 331.3 0 0 534-483 0z"/><path fill="#ffdd00" d="M-6 -6l111.5 0-9.9 30-.5 6 .9 2.3 6.7 6.7 9.5 6 10.8 5.6 6 .9 6-1.9 12-7.6 7.2-6 2.1-3 .7-6-4.8-15-2.5-18 327.3 0 0 534-483 0z"/><path fill="#ffd500" d="M-6 -6l92.6 0 3.4 6 .8 6-7.1 21-.1 6 1.5 3 4.9 5 6 3.9 21.6 12.1 8.4 3 6-.9 6-3.3 20.6-13.8 3.4-3.1 3-4.4 1.1-4.5-1.1-7.8-10.7-28.2 322.7 0 0 534-483 0z"/><path fill="#ffcc00" d="M-6 -6l87 0 2.1 12-1.4 6-7.3 18 1.3 6 8.3 10.2 6 5.1 27 14.4 9 2.9 3-.3 6-2.6 21-14.1 8.3-6.6 4.9-6 2.6-6 .3-6-4.3-21-.8-12 310 0 0 534-483 0z"/><path fill="#ffc400" d="M-6 -6l83.8 0-.2 9-1.6 6-10.7 21 .1 3 1.3 3 17.3 20.6 6 5.1 30 14.4 6 1 9-3.4 24-16.5 6-5.1 7.9-10.1 3-6 1.3-6-2.8-24 2-12 300.6 0 0 534-483 0z"/><path fill="#ffbb00" d="M-6 -6l80.8 0-2.8 10.1-14.9 22.9-1.1 6 1.4 3 14.6 14.3 9 13 6 6.9 9 5.2 21 8.8 6 1.6 3 0 6-2.2 27-18.8 9-8.4 8-11.4 4.8-9 1.2-6-1.9-21 .5-15 296.4 0 0 534-483 0 0-358.9 5.6-13.1 .2-3-5.8-12.5z"/><path fill="#ffb300" d="M-6 -6l77.4 0-2.4 5.4-21.3 27.6-1 6 1.3 3 21 19.2 12 18.8 6 6.9 11.4 6.1 18.6 7 6 1.4 6-1 3-1.9 30-22.4 9-9.9 9.9-15.2 4.8-9 1.4-6-2.6-36 292.5 0 0 534-417.5 0-8.5-2.7-7.3 2.7-49.7 0 0-350.5 4-3.5 5.8-9 11.3-9 .5-3-2.8-3-9.8-6.7-5.9-8.3-3.1-2.7z"/><path fill="#ffaa00" d="M-6 -6l70.9 0-7.9 7.5-18 22.5-2.5 6 2 6 27.4 24 15.1 24.7 6 6.9 6 3.6 27 9.8 15 9.3 2-3.3 .9-9 2.6-6 5.8-6 15.7-12.2 6-6 10.5-14.8 12.8-21 2.1-9-.2-15-.7-9-2.3-9 286.8 0 0 534-398.6 0-1.4-6-7.7-12-4-9-1.3-6 .2-3 4.5-9 24.3-33 3.4-6 .6-3-.8-3-3.2-3.4-6-3.5-6-1.4-7.7 2.3-11 9-28.1 36-13.9 12-5.1 6-1.8 6 .7 9 1.4 3 8 9 1.6 6-31.1 0 0-347.4 6-2.8 9-8.5 6-2.9 15-4.7 3.1-2.7 1.1-3-.6-3-3.6-3.8-3.7-2.2-17.3-6.4-3-1.8-6.7-6.8-5.3-2.8z"/><path fill="#ffa200" d="M-6 -6l37 0 .3 6-1.3 6-8.4 12-2.1 6 .7 6 1.8 3 3 3 26 18.4 10.2 8.6 6.5 9 16.3 29.4 3 2.2 24 6.9 9 4.5 6 5.9 18 22.9 6 5.4 3-.8 1.4-7.4-1.1-12-4.2-24 .7-6 4-6 11.2-10.1 6-6.8 18-26.2 13-16.9 2.6-6 1-15 1.5-6 8.9-8.8 1.6-3.2 259.4 0 0 534-394.1 0 1-18-1.6-12 .2-6 2.5-6 20-30.6 3.8-8.4 .9-6-1.7-6.1-6-5.7-15-7.4-9-2.5-3 .2-6 2.4-18.9 13.1-9.1 9-17 21.4-12 9.3-6 2.4-3-.4-9-6.2 0-287.5 6-1.1 15-7.4 21-2.7 3-2.1 3.7-4.7 2.8-6 .4-3-2.8-6-7.3-6-6-3-17.8-5.1-11.4-6.9-6.6-1.9z"/><path fill="#ff9900" d="M226.1 -6l250.9 0 0 534-389.3 0 2.3-6.4 6.9-8.6 .7-21 16.4-36 2-9 .2-6-2.7-9-2.5-3.8-6-5.7-21-10.7-9-2.7-3 .2-6 2.3-30.7 20.4-7.3 6-13.3 15-8.7 7.5-6 2.3-6 .5 0-278.1 9 .1 15-2.8 15 1.1 6.2-.6 4.8-3 4-5.1 7.3-12.9 1.5-6-.8-3-5.1-6-14.9-10.2-6-2.5-15-3.5-13.7-4.8-7.3-.9 0-90 3-.8 3 .5 18 10 15 4.6 18 12.1 9 8.3 10.1 17.2 4.7 12 3.2 18.1 2.4 2.9 3.6 0 6-3.2 6-1.1 9 1.7 9 3.3 6 4.2 6 7 10.6 15.1 7.4 13.4 3 2 9 .6 3-.7 3-2.5 2.1-6.8-.5-15-4-33 .8-6 3.6-6 31-40.2 6-5.8 15.7-11 5.1-6 5.5-24z"/><path fill="#ff9100" d="M259.5 -3l4.8-3 212.7 0 0 534-358.5 0-4.5-3.6-3-5.3-3.7-18.1-.3-6 2-9 8-17.8 2.9-9.2 1.4-15-1.6-9-5.7-11.2-9-9.5-24-12.5-9-2.8-6 .8-4.3 2.2-45.4 30-10.8 9-8.4 12-3.1 2.6 0-268.1 15 4.2 9 .1 21 2.5 6-1 6-5.2 14.5-23.1 3.2-6 4.1-12 8.2-6 12-12.2 6-2.6 6 .4 6 1.8 9 6.7 10.5 14.9 6.3 18 2.9 3 25.3 .5 3-1.6 3-7.1 1.2-9.8-3.1-45 .2-6 1.9-6 17.8-24.2 12-13.4 30.4-19.4 7.4-6 4.2-6 11.1-24zM1.5 54l4.5-1.8 12 3.5 15 1.5 12 6.9 12.2 10.9 7.3 12 4.5 12 1.5 39-.6 6-.9 1.1-3 .6-6-1.7-21-12.6-9-3.7-24-4.7-12 .2 0-64.9z"/><path fill="#ff8800" d="M278.3 -6l198.7 0 0 534-348.6 0-2.2-6-5.1-6-3.1-6-2.7-15 1-6 6-15 2.3-9 1.1-12-.2-12-1.4-6-4.1-9.3-6-10.1-6-7.1-6-4.2-24-12.5-6-2.4-6-.6-6 1.9-30 18.1-18 9.1-6 1.1-12-6.8 0-221.8 3.6 1.6 8.4 7.4 3 1 33 4.6 6-.4 3-1.1 5.9-5.5 9.1-12.1 12-13.6 8.9-19.3 6.1-8.7 6-5.8 6-1.9 6 1.4 3 1.8 4.4 4.2 4.2 6 3.5 9 2.9 15.1 3.1 5.9 2.9 1.2 3-.1 15-4 15 4 3 .1 2.9-1.2 3.1-6 2.8-18-1.6-45 .6-9 2-6 10.6-15 12.6-13.7 18-11.3 15-7.3 6-.8 5.4 3.1 22.6 36 9.1 12 4.9 3.3 3-.1 3-1.6 3.8-4.6 1.6-6-2.4-16.7-3-7.7-14.3-23.6-2.5-6 0-6 5-12 1.1-6zM42 299.9l-5.5 3.1-5.8 6-1.6 3-.5 6 2.9 9 4.5 7.5 6.2 4.5 8.8 2.4 3-1.6 3-6.6 2.4-18.2-.3-12-2.1-3.8-3-1.1-6 .2zM-6 63l9-.4 12 3 18-.3 9 4 10.6 8.7 7.7 12 3.5 12-.4 21-1.2 6-2.2 3.4-3 .7-3-.7-18-9.5-9-2.4-18-2.7-15 3.3z"/><path fill="#ff8000" d="M305.5 -3l1-3 170.5 0 0 534-344.9 0-.8-6-5.8-15-1.8-9 .1-6 5.2-19.7 1-13.3-.2-18-3.7-12-9.1-16.9-9-11.8-6-4.2-33.2-18.1-4.8-3-2.4-3 3.4-57 2.4-21-1.4-7.4-3-2.2-6-.5-18 1.7-9 1.9-6.9 3.5-20.1 16-6 1.5-3-1.5 0-111.8 6 10 6 4.2 42 8.5 6-.1 3-1 6-4.6 24-23.7 4.7-8.5 7.6-24 4.7-6 4-1.4 3 .7 3 2.4 2.6 4.3 5.7 27 3.7 6.9 3 1 3-.2 15-6.2 6-1.2 6 1.2 15 6.2 3 .2 3-1 3.6-6.9 3.9-24 .3-45 1.7-15 4.9-9 10.7-12 10.9-7.3 12-4.9 4 .2 4.3 3 14.7 27 22 25.3 6 4.2 3 0 3-1.5 19.2-22 4.6-9 .1-15-3.7-45zM-6 69l0-2.6 3 .6 4.6 2 7.4 5.5 3 .7 18-1.8 6 .7 9 4.7 7.7 8.2 4.3 9 1.2 12-1.2 9-1.4 3-1.6 1.6-3 .5-18-6.9-24-3.5-6 1.7-4.9 3.6-4.1 1.6zM-4.1 327l1.1-.7 3 .6 3 2.7 6 10 6 13.1 3.5 4.3 5.5 3.6 18.1 8.4 4.5 3 1.8 3-1.3 3-3.9 3-31.2 12.8-12 8.2-6 1.8 0-75.4z"/><path fill="#ff7700" d="M323.1 -6l153.9 0 0 534-341.7 0-.1-12-3.7-21 2.3-21 .5-18-.4-15-2-9-11.9-23.3-9-13.7-6-5.4-24-15.1-6-6.2-3.8-8.3-1.9-15 0-27 1-9 4.7-24 .5-6-1.1-6-2.4-2.6-6-1-42 4.4-9 2.3-13.1 8.9-7.9 1.5 0-56.7 6-2.4 6-.1 19.5 9.7 8.5 3 29 5.6 6 .1 3-.8 4.5-4.9 7.5-21 14.8-18 9.2-16.6 3 1.2 4.1 9.4 1.9 3 3 2.3 3 .5 6-1.5 18-8.6 6-1.3 6 1.3 18 8.6 6 1.4 3-.7 3-3.4 1.6-4.6 7.3-36 0-39 1-15 2.1-6 4.6-6 4.4-3.7 6-2.6 6 .7 2.9 2.6 12 18 33.1 40.2 3 3.1 3 .9 3-1.4 6-6.4 15-22 15.9-17.4 4.5-9 .1-66-1.6-21zM264 173.5l-29.9 33.5-2.8 6 1.4 3 5 3 8.3 .7 6-2.2 5-4.5 4.2-9 5.8-22.4 0-8.6zM-6 72l0-1 3 2.1 6 8.9 3 2.2 6 .8 21-3 9 2.6 5.9 5.4 3 6 .9 6-1 6-2.8 3-3 .3-18-3.9-21-2.5-3 .9-3 2.3-6 6.6z"/><path fill="#ff6f00" d="M327.6 -6l149.4 0 0 534-337.8 0 2.8-15-3.9-21 0-48-.9-9-1.7-6-7.2-15-14.1-24-6.2-6.9-14.2-11.1-8.1-9-7.7-11.5-2.8-9.5-1.3-15 .4-15 3.7-16.5 6-20.1 19.3-47.4 4.7-9.2 6.6-5.8 32.4-16.2 6-1.3 6 1.3 27 13.4 15 1.7 8.5 7.1 12.5 5.4 9 2.4 9 .3 9-1.7 6.8-3.4 7-6 5.3-9 15.6-45 7.1-15 12.2-19.1 21.2-22.9 3.8-6 2-5.1 3-29.3 1.2-31.6-1.6-12-4.7-15zM30.2 93l5.8-.6 3 1 2.3 2.6-.2 3-2.1 1-7.7-1-4.5-3zM214.9 111l1.1-.7 3 1.1 12 11.6 17.6 21 3.4 6 .6 3-.3 3-2.8 6-9.5 12.3-21 20.2-12 8.8-3-.7 0-8.2 12.5-41.4 0-6-3.6-27 .3-6zM-6 255l1.2 6-1.2 4.2z"/><path fill="#ff6600" d="M331.7 -6l145.3 0 0 534-324 0-10-39-1.5-51-3.5-17.6-4.3-9.4-16.7-28.3-27.5-34.7-6.1-9-2.6-6-1.9-12 .1-9 2-9.2 6-15.6 10.1-17.2 22.4-48 9.8-9 14.7-8.7 9-2.7 6 1.3 39 22.1 17.1 6 9.9 2.1 12-.2 12-2.6 10.2-5.3 10.6-9 5.2-9 13-36 9-21.2 7.6-11.8 22.4-26.2 6-9.7 3-8.3 6-38.8 2.3-22-2.3-12.7-3-8.5-6-12z"/><path fill="#ff5e00" d="M338.1 -6l138.9 0 0 479.9-3.1 3.1-5.9 9.3-5.9 5.7 2.5 3 4.3 3 8.1 3.4 0 26.6-122.3 0-3.7-1.1-12-.3-66 0-7.5 1.4-98.2 0-2.3-4-5.7-5-3.3-4.8-8.1-25.2-2.2-18-1.1-42-1.8-12-2.4-9-4.1-9-22.3-38-26.7-37-2.3-9 1.4-9 3.6-7.4 15-21.3 23.6-52.3 7.6-9 10.8-6.8 6-1.4 6 1.3 12.4 6.9 23.6 16.1 12 4.7 12 2.5 15-.9 15-3.4 15-8.4 12.7-10.6 5.2-9 21-54 5.7-9 21.4-27.5 6-10.9 3.7-9.6 10.3-63-.9-9-4.1-17.4-2.9-6.6z"/><path fill="#ff5500" d="M352.4 -6l124.6 0 0 476.9-5.2 3.1-6.8 7.7-6 1.8-45 1.8-144 .2-6 .9-3 1.6-3 4-.2 3 3.2 3.3 9 1.4 189 .4 18 4.4 0 23.5-117.5 0-2.5-3-3-1.1-15-.6-69 .1-6 .9-3.5 3.7-90 0-2.5-6.5-5-5.5-3.4-6-8.2-27-2.2-18-1.8-48-3.4-19.8-3-7.5-20.7-38.7-23.4-33-1.4-6 .6-3 3.4-6 13.2-18 12.7-30 14.1-30 4.5-5.9 4.5-3.1 4.5-1.2 6 1.2 10.1 6 25.9 18.4 9 3.6 12 1.4 21-2.8 15-4.3 21.3-13.3 10.5-9 5-9 19.6-51 5.3-9 16.3-22.1 6-10.8 6.4-15.1 2.9-12 8.9-51-.2-9-3-21z"/><path fill="#ff4d00" d="M356.9 -3l.3-3 119.8 0 0 475.1-5.6 1.9-6.4 5.6-6 2-12-.4-45 2.5-138 .3-5.9 2-3.3 3-3.5 6-.8 6 1.6 3 2.9 1.6 12 1.6 195 .5 15 2.2 0 21.1-114.8 0-2.2-4.2-3-2.1-6-1.1-12-.2-72 .2-6 1.5-2.7 2.9-.7 3-85 0-1.6-7.2-4.9-7.8-3.7-9-8.1-30-1.7-15-2.1-54-3.5-20.7-18.1-39.3-17.9-27-1.6-6 .7-3 11.2-18 10.7-25.8 12-24.2 6-10.4 3-3.1 3-1 6 1.4 30 19.4 6 2.8 6 1.3 9-.2 27-4.6 12-3.7 28.9-17.9 10.1-9 4.6-9 19.3-51 18.1-27.9 12.9-29.1 12.1-63 0-9-2.1-18z"/><path fill="#ff4400" d="M360.3 -6l116.7 0 0 473.6-6 1.5-6 3.4-6 1.8-15-1.4-30 2.7-21 .8-132 .2-6 2.5-6 6.9-4.4 9-.6 6 1.3 3 3.7 2.6 6 1.5 9 .7 186-.7 27 .9 0 19-112.5 0-2.4-6-5.1-3.9-6-1-12-.1-75 .4-6 2.4-1.7 2.2-1.1 6-80.6 0-1.5-9-4.8-12-5.5-18-5.5-24-1.5-15-2.1-57-3.4-24-3.3-9.6-8.4-17.4-13.6-24-1.5-6 .5-3 15.7-33 4.3-5.7 6-4 27-12.1 6 .4 12 3.8 6 .6 45-9.3 9-3.7 30.2-18 5.8-3.9 4.9-5.1 6.1-12 17.8-48 16.2-28.2 10-22.8 4.2-12 11.4-60z"/><path fill="#ff3c00" d="M363.1 -6l113.9 0 0 472.3-18 4.1-21-2.8-33 3.5-21 1.1-126 .2-6 2.8-6 7.3-5.6 9.5-2.6 9 0 3 2.2 4.5 10.3 4.5 3.1 3-.7 12-76.3 0-.9-12-10.8-39-4.8-24-2.5-75-1.6-21-4.2-15-13.9-27-.4-3 1.3-6 8.2-15 6.2-6.3 6-2.9 12-3.5 6-1.4 6-.1 3.7 2.2 2.3 4.2 3.8 22.8 4.6 9 3.6 3.2 3 1.3 3 .3 6-2 3.7-2.8 4.5-6 1.9-9-1.7-12-7.2-15-.7-3 .8-3 3.1-3 6.4-3 22.2-6.4 9-3.7 36-19.8 6-4.8 3.6-4.3 6.5-12 18.9-51 13.6-27 14-36 11.5-60-.4-24zM367.4 513l10.6-1 99-.7 0 16.7-110.2 0-3.2-12z"/><path fill="#ff3300" d="M366.2 -6l110.8 0 0 471.1-18 1.7-18-4-9-.6-36 4.4-21 1.4-120 .1-6 3.4-8.6 11.5-6.6 12-2.2 9 .5 6 1.9 2.9 12 5.2 2.3 3.9 1.4 6-71.4 0 .1-18-11.6-45-3.4-18-1.4-27-.6-75-2.4-17.1-4.6-12.9 .2-6 3.6-6 3.5-3 3.3-1.6 6-.7 4 2.3 8 15 12 12.2 3 1.8 6 1.2 9-2.7 12.9-9.5 7.2-9 1.9-6 1.7-12 .5-9-1-12 1-3 3-3 5.3-3 48.5-24.8 6-5.1 7.1-9.1 6.3-12 17.6-48 21-51 4.9-15 11.3-60 .5-27zM461.2 516l15.8-2.1 0 14.1-107.5 0-.1-6 .9-3 4.7-2.3z"/><path fill="#ff2b00" d="M370.4 -6l106.6 0 0 470-15-.1-21-5.4-12-1.6-45 5.5-21 1.5-81 .5-24-1.3-6 .8-6.2 4.1-12.7 18-4.7 9-3 12-.2 6 2.5 6 3.3 2 9 2.3 3 1.9 1.6 2.8-64.1 0 2.7-15-.5-6-14.2-57-2.1-18-.4-30 .9-51 1.1-16.7 1.9-7.3 1.1-1.9 3-.9 3 1.2 15 12.3 6 2.2 6-.4 6-1.8 12-7 15.9-12.7 5.4-6 2.8-9 3.7-30 2.4-6 2.7-3 8.9-6 33.2-16.5 7.7-7.5 10.9-15 4.1-9 29.9-81 10.4-31.8 8.5-43.2 2.6-18 1.2-30zM473.4 519l3.6-.6 0 9.6-102.7 0 .9-3 2.8-1.7 3-.5 78-.3 9-1.5z"/><path fill="#ff2200" d="M375.2 -6l101.8 0 0 468.9-11.6-.9-27.4-8.3-15-2.2-51 6.6-21 1.7-69 .6-30-1.5-6 2.5-3 2.8-17.2 24.8-3 6-5.6 18-4.7 9-1.5 6-27.4 0 4.8-12 .1-9-2.1-12-13.2-48-2.4-18 0-57 1.1-15 2.1-10.6 3-3.7 3 .2 12 6.4 6 .2 6-1.3 12-4.5 24-16.2 12-2.2 4.4-40.3 2-9 2.6-5.1 3.5-3.9 8.6-6 26.9-14.3 6.9-6.7 14.1-17.3 27.7-75.7 13.5-45 6.8-33.5 4.1-26.5 2.4-33z"/><path fill="#ff1a00" d="M378.7 -6l98.3 0 0 467.8-9-1.3-12-5.3-18-5.5-18-3.4-9 .2-48 6.9-24 2.2-57 .7-27-2-6 .3-6 2.9-6 7-17.1 24.5-6.9 14.5-3 4.4-6 4.6-3 .6-3-3.1-4-18-9.1-24-7.6-30-1.5-15-.7-27 .3-18 1.7-12 3.3-6 2.6-1 12 0 15-4.1 9-4 12-7.7 6-2.2 3 .7 3 3.7 9 33.9 3 7 3 3.4 3 1.2 3-.1 6-2.3 5.9-4.5 4.8-6 .6-6-11.3-21.5-7.7-29.5-1.2-15 2.3-18 3.6-8.2 9-9.8 7.6-6 19.7-12 20-18 4-6 4.9-18 21.8-60.7 9-35.1 7.8-39.2 3.8-24 3.5-39z"/><path fill="#ff1100" d="M381.4 -6l95.6 0 0 466.6-8-1.6-10-6.3-6-2.3-24-7-15-2.5-9 .4-57 8.2-21 2-45 .7-33-2.4-6 1.6-3 2.2-27 34.1-3 2.6-3 .9-3-2.1-3-4.6-8.3-16.5-4.6-12-4-15-1.8-12-1.5-30 .1-15 1.8-9 2.4-3 3.9-2.1 24-7.5 15-6.6 3-.6 3 .9 3 4.1 6.9 23.8 5.1 13.5 3 3.8 6 1.9 6.5-1.2 8.5-4.1 13.5-10.9 7.7-9 .9-3-1.1-6-15-21.4-6-12.3-5.1-20.3-.4-6 1-9 1.7-6 2.8-5.2 12-12.7 10.3-9.1 33.8-24 4-6 4.5-24 19.4-53.9 6-25.7 13.1-73.4 4.9-52.9z"/><path fill="#ff0900" d="M384 -6l93 0 0 465.4-6-1.6-9-7.2-9-4-33-9.5-15-1.6-69 9.7-21 2.1-33 .7-30-2.9-9 .5-7.1 4.4-16.9 18.6-6 3.8-3 0-6-5.1-6-9.2-6-13.8-2.1-9.3-1-18 .8-18 2.3-11.6 3.9-6.4 9.1-6 11-4.4 6-1.7 3-.1 3 1.3 3.2 4.9 11.8 33.6 4.6 5.4 4.4 1.2 3-.2 15-4.5 12-8.1 18-17.9 4.4-6.5 2.7-6 3-15 0-6-1.1-2.6-9-.4-3-1.1-6-4.5-6-6.4-6-9.1-3-7.8-1.1-7.1 .6-6 2.6-6 3.9-4.7 12-9.2 6-2.1 12 2 3 0 1.9-1 1.9-3 1.1-12 2-6 2.4-3 11.7-9.5 3.3-5.5 4.8-33 15.7-42 3.9-15 14.3-90.8 5.6-59.2z"/><path fill="#ff0000" d="M386.8 -6l90.2 0 0 463.8-5.3-1.8-6.7-7.1-6-3.9-36-11.1-18-3.6-12 .5-69.4 10.2-26.6 2.5-21-.4-33-5.2-6 1.7-12 6.9-6-.1-6-2.8-6-4.4-2.6-4.2-.5-3 3.1-11.7 9-19.1 3-4.2 3-.7 3 2.8 10.3 20.9 4.7 6 3 1.7 3 .4 6-1.1 21-7.2 9-6.5 9-9.2 12-14.5 8.1-11.6 4.3-9 20.6-62.8 4.9-36.2 5.9-15 1.5-6 2.6-33 12.1-31.5 4.2-16.5 5.5-48 7.7-54 6.2-63z"/><path fill="#f60000" d="M391.2 -6l85.8 0 0 462-4.9-3-7.1-8.9-6-3.1-42-12.6-15-3.2-15 .3-72 10.7-21 2.3-12-.8-6.3-2.7-.6-3 21.9-26.8 15-20.4 6.1-9.8 5.9-14.5 16.6-48.5 8.5-36 3-6 7-9 2.7-6 .6-12-2.2-24 1-6 7.8-22.9 3-16.5 4.7-56.6 5.6-45 4.6-51z"/><path fill="#ee0000" d="M421.1 -3l5.2-3 50.7 0 0 458.8-2.8-2.8-3.4-6-5.8-4.9-51-15.4-18-4-15 .5-78 11.5-9-.2-3.6-2.5 .8-6 3.3-6 24.9-36 5-9 21.3-60 5.3-21.5 3-8 3-4.6 11.1-10.9 3.5-6 1-9-2.9-27 0-9 5.3-26.6 3.3-27.4 2.9-57 8.8-88.6 3-10 3-4.4 6-2.8z"/><path fill="#e50000" d="M443.7 -3l3.3-1.5 8.6-1.5 13.1 0 8.3 4.4 0 434.4-6 1.1-12-1.5-57-15.9-15-2.4-12 .9-60 8.8-12-.1-1.2-.7-1.3-3 1.7-6 7.2-12 14.7-21 5.9-11.3 10.9-33.7 8.4-21 7.7-23.6 15-19.8 5-10.6 .7-9-2-36 7.8-60 1.3-57 5.8-69 2.4-14 3-6.3 3-2.5 3-1.2 24.9-3z"/><path fill="#dd0000" d="M450 6l12 0 15 4.3 0 404.4-3.9 2.3-5.1 7.4-3 2.2-3 .7-12-1.7-54-14.6-12-2.1-12 .5-51 7.3-6 .1-3-1-1.6-1.8 .9-6 22-36 10.7-33 15.2-39 18.2-30 3.6-9 .5-9-1.6-36 7.7-60 .3-60 4.8-63 3-15 3.3-4.9 6-2.6z"/><path fill="#d40000" d="M440.7 12l18.3-.5 18 2.3 0 397.7-6 1.9-6 5.3-6 2.3-24-3.8-42-11.1-12-2.3-12 0-36 5-9 .3-3.3-1.1-1.1-3 1.8-6 14.6-24 9.9-30 15.4-39 19.9-36 3.5-9-1.3-45 7.9-60-.5-60 4.2-60 2.1-12 3.4-6 4.5-2.6z"/><path fill="#cc0000" d="M423.2 18l53.8-1.4 0 392.7-6 .8-12 4.3-9-.5-21-3.3-54-12.3-9-.1-30 3.6-3-.2-3.8-2.6 .9-6 11-21 6.9-21.6 17.1-44.4 23.1-42 .8-6-2.5-39 8.4-66-1.4-54 4.5-66 3.1-9 3.9-3.5 6-1.4z"/><path fill="#c30000" d="M465.8 21l11.2-1.6 0 387.9-18 .8-27-3.2-18.5-2.9-44.5-9.2-27 1.2-3-1.5-.8-2.5 .6-3 5.1-12 23.2-66 13.9-25.7 14.4-19.3 .1-3-4.4-18-1.4-24 8.4-66-1.6-57 3.5-54 2-11.4 3-4.3 6-2.4 48-1.8z"/><path fill="#bb0000" d="M472.2 24l4.8-1 0 382.5-9-.9-15-3.8-51-6.7-33-6.4-18-1.1-3-1.5-.9-4.1 3.7-15 18.2-53.9 9-17.5 6-8.6 6-5.8 6-2.9 15-3.3 6-2.4 6.5-4.6 .6-3-3-3-16.1-6.2-6-3.7-3-5.3-2.5-14.8-.2-18 8.3-60-2-57 2.9-45 2.1-15 3.4-5 6-2 45-.9 6-1.2z"/><path fill="#b20000" d="M411.3 39l2.7-1.4 6-.8 45 0 9 1.7 3 3.1 0 218.8-.9 3.6 .9 3.9 0 135.6-7.4-1.5-7.6-5.2-6-2.3-60-7.7-33.5-5.8-5.5-1.7-1.5-1.3-1.2-3 2.2-12 14.7-48 6.8-13.6 6-7.6 3-2.6 6-2.7 27-3.7 12-3.5 21.7-11.3 3.6-3 .8-3-3.2-3-6.9-3-43-11.8-3.7-3.2-3.5-9-1.4-12 .2-9 9.2-60-2.7-48 .4-18 3.5-36 1.1-6z"/><path fill="#aa0000" d="M416 57l7-1.8 33 .2 6 1.6 6 3.1 9 1.8 0 181.4-6 1.8-9 4.8-12-.7-39-8.7-6-3.6-3.9-8.9-.9-15 3-21 4.8-23.1 6-15.9-5.4-30-1.4-27 1.2-15 2.6-15.8 3-6.6zM458.9 285l6.1-1.5 12 .5 0 117.3-6.1-2.3-5.9-6.9-6-3.7-69.4-10.4-13.6-3-10-4.3-1.7-4.7 .5-6 7.2-33.7 3-10.4 3-6.4 6-7 3-1.8 6-1.7 45-5.6 7.7-2.4z"/><path fill="#a10000" d="M470.2 69l6.8-1.4 0 59.3-6 .8-12 4.4-6 0-24-5.2-9-3.9-3.7-6-3-15 .7-12.4 3.2-8.6 2.8-2.8 6-1.5 33-.9zM446.7 168l9.3-1.5 6 .4 3 1.7 7.9 8.4 4.1 1.3 0 61-21 1.4-27-3.7-18-4.8-3-2.5-2.6-4.7-1.3-9 .9-9.3 3-14.7 3-9.4 3-5.3 6-4zM471.1 291l5.9-1.3 0 108.1-3.1-1.8-5.9-10-6-4.4-31.3-6.6-9.7-3-10.1-6-23.6-33-3.8-9 .6-6 2.2-3 3.7-2 19.7-4 43.3-6.3 7-2.7z"/><path fill="#990000" d="M462.6 186l14.4-1.3 0 50.8-6-.7-12-3.4-36-3.8-8.4-2.6-3.2-3-1.8-6 1-9 3.4-8.5 3-3.5 9-3.4z"/><path fill="#900000" d="M475.3 192l1.7-.5 0 38.4-4.3-1.9-4.7-4.5-6-3.8-16.9-3.7-1.9-3 15.8-4.1 6-3.5 6.6-10.4z"/>
</g><use href="#coast"/><use href="#feat"/></g>
<rect x="0" y="0" width="467.8" height="520.1" fill="none" stroke="#262626" stroke-width="1.6"/>
<path d="M0 104.439h5M467.8 104.439h-5M0 260.2h5M467.8 260.2h-5M0 415.96h5M467.8 415.96h-5M156.266 0v5M156.266 520.1v-5M338.061 0v5M338.061 520.1v-5" stroke="#262626" stroke-width="1.4" fill="none"/>
<rect x="475.8" y="0" width="15.2" height="520.1" fill="url(#jet)" stroke="#555" stroke-width="0.5"/>
<path d="M491 65.0125h-5M491 130.025h-5M491 195.038h-5M491 260.05h-5M491 325.062h-5M491 390.075h-5M491 455.088h-5" stroke="#333" stroke-width="1" fill="none"/>
<text x="496" y="7" font-family="Liberation Serif, serif" font-size="20">8</text>
<text x="496" y="72.0125" font-family="Liberation Serif, serif" font-size="20">7</text>
<text x="496" y="137.025" font-family="Liberation Serif, serif" font-size="20">6</text>
<text x="496" y="202.038" font-family="Liberation Serif, serif" font-size="20">5</text>
<text x="496" y="267.05" font-family="Liberation Serif, serif" font-size="20">4</text>
<text x="496" y="332.062" font-family="Liberation Serif, serif" font-size="20">3</text>
<text x="496" y="397.075" font-family="Liberation Serif, serif" font-size="20">2</text>
<text x="496" y="462.088" font-family="Liberation Serif, serif" font-size="20">1</text>
<text x="496" y="527.1" font-family="Liberation Serif, serif" font-size="20">0</text>
<text x="-7" y="111.439" text-anchor="end" font-family="Liberation Serif, serif" font-size="20">13.22</text>
<text x="-7" y="267.2" text-anchor="end" font-family="Liberation Serif, serif" font-size="20">13.19</text>
<text x="-7" y="422.96" text-anchor="end" font-family="Liberation Serif, serif" font-size="20">13.16</text>
<text x="156.266" y="544.6" text-anchor="middle" font-family="Liberation Serif, serif" font-size="20">100.89</text>
<text x="338.061" y="544.6" text-anchor="middle" font-family="Liberation Serif, serif" font-size="20">100.92</text>
<circle cx="195.158" cy="31.851" r="11.3" fill="#ff1a00" stroke="#fff" stroke-width="2"/>
<text x="207.958" y="39.251" font-family="Liberation Serif, serif" font-weight="bold" font-size="19.5">ST6</text>
<circle cx="347.634" cy="87.5653" r="11.3" fill="#ff9100" stroke="#fff" stroke-width="2"/>
<text x="360.434" y="94.9653" font-family="Liberation Serif, serif" font-weight="bold" font-size="19.5">ST1</text>
<circle cx="162.748" cy="217.665" r="11.3" fill="#ff2e00" stroke="#fff" stroke-width="2"/>
<text x="175.548" y="225.065" font-family="Liberation Serif, serif" font-weight="bold" font-size="19.5">ST5</text>
<circle cx="343.745" cy="279.67" r="11.3" fill="#f50000" stroke="#fff" stroke-width="2"/>
<text x="356.545" y="287.07" font-family="Liberation Serif, serif" font-weight="bold" font-size="19.5">ST2</text>
<circle cx="63.6232" cy="380.115" r="11.3" fill="#ffd100" stroke="#fff" stroke-width="2"/>
<text x="76.4232" y="387.515" font-family="Liberation Serif, serif" font-weight="bold" font-size="19.5">ST4</text>
<circle cx="222.183" cy="476.567" r="11.3" fill="#ff8000" stroke="#fff" stroke-width="2"/>
<text x="234.983" y="483.967" font-family="Liberation Serif, serif" font-weight="bold" font-size="19.5">ST3</text>
</g>
<g transform="translate(763.85 1375.7)">
<g transform="scale(0.99723 0.99846)"><g clip-path="url(#sea)">
<rect x="-2" y="-2" width="474" height="524.9" fill="#0dfff2"/><path fill="#1affe5" d="M-6 -6l265.1 0 4.9 3 9 .3 9-.5 3.8-2.8 191.2 0 0 534-483 0z"/><path fill="#26ffd9" d="M-6 -6l240.4 0 7.7 6 6.9 12.7 6 7 6 2.3 12 .4 12-.5 6-3.6 3-4.8 7.7-19.5 175.3 0 0 534-483 0z"/><path fill="#33ffcc" d="M-6 -6l234.5 0 8.2 12 9.3 19.9 6 9.4 6 4.4 15 1.1 12-.6 6-3.5 6-11.9 9-30.8 171 0 0 534-483 0z"/><path fill="#40ffbf" d="M-6 -6l231 0 3 10.6 12 27.1 6 12.6 6 9.4 6 4.3 15 1.1 9-.1 6-1.5 3-2.5 3-4.6 6-16.8 8.9-39.6 168.1 0 0 534-483 0z"/><path fill="#4dffb2" d="M-6 -6l227.9 0-1 9 1.1 6 27 61.5 3 3.9 3 2.1 6 1.2 9 .2 15-.6 6-3.6 3-4.6 6-16.9 6-24.5 4.6-21.7 .9-12 165.5 0 0 534-483 0z"/><path fill="#59ffa6" d="M-6 -6l224.4 0-4.7 9-.3 3 1.5 6 12.7 33 1.6 9-1.2 6-3 3.2-20 11.8-6.3 6-1.3 6 3 12-1.1 3-4.3 .5-9-1.5-3 .8-3 2.2-3 3.7-6 10.9-6 13.9-3 8.5-1.5 9 .9 6 2.6 6 7 7.6 27 16.7 12 5.2 6 .7 6-2.2 9-8.5 23.2-31.5 3.8-10.8 5-25.2 4-8.6 6-3 12-1.3 3-1.4 3-3.2 3-5.8 8.2-27.7 9.8-43.7 2.4-13.3-.1-12 162.7 0 0 534-483 0z"/><path fill="#66ff99" d="M-6 -6l218.3 0-5.3 4.4-2.4 4.6 .3 6 3.7 15-.1 6-1.5 3.4-15 10.9-6 6.7-14.6 24-6.4 14.8-12 33.1-3.9 15.1-1.6 12 1.4 9 4.1 11.6 4.3 9.4 4.7 6.8 9 7.1 33 21.4 6 3 6 1.2 6-1 3-1.6 6-6 24-38.8 18-19.1 3.2-6 5.1-15 9.7-9.9 3-5.9 6-21.4 15-70.7 3.1-18.1-.5-12 159.4 0 0 534-483 0z"/><path fill="#73ff8c" d="M-6 -6l198.7 0 0 9-2.2 9-31.3 57-12.2 28.7-7.3 25.3-4.1 21-.4 9 2.2 9 9.6 26.4 4.2 9.6 4.8 7.6 9 7.6 28.8 17.8 7.2 3.1 6 .7 15-2.6 6-2.9 3-2.6 10.4-13.7 19.2-30 24.4-23.3 6-8.9 3-7.9 6-22.6 15-75.9 6-34.8 .5-15.6 155.5 0 0 534-483 0z"/><path fill="#80ff80" d="M-6 -6l173.6 0 6.4 6 2 3 .3 3-2 6-30.1 57-9.2 21-4.1 15-6.7 33-1.4 9 0 6 2.4 9 9.4 24 9.4 21.9 6 11 9 9.5 15 12 12 7.4 9 2 9-.9 18-3.9 6-2.1 6-4.3 9-11.5 19.6-29.1 25.4-28.7 8.4-13.3 3.2-9 3.4-15.9 15-81.8 5.6-37.3 1.4-18 152 0 0 534-483 0z"/><path fill="#8cff73" d="M-6 -6l167.6 0 .3 9-1.6 6-37.1 72-11.5 54-1.6 15 3.7 12 30.2 66.7 7 8.3 23 22.4 6 4.2 6 1.3 9-1.2 30-6.8 6-2.1 6-4.5 9-11.8 23.1-34.5 21.9-28.2 6.7-10.8 6.2-15 5.1-26.3 12-71.1 6.7-58.6 149.3 0 0 534-483 0z"/><path fill="#99ff66" d="M-6 -6l162.6 0-3.6 5.6-6.2 6.4-20.8 38.1-15.6 21.9-2.4 7.9-10 52.1-1.6 12 .1 9 2.5 9 18 34.2 21 48 33 37.3 6 3.6 6 1 9-1.4 33-8.5 6-2.1 6-3.9 9-11.2 29.3-46 18.7-25.9 6-10.3 7.6-17.8 4.9-24 11.5-75.4 6-59.6 147 0 0 534-483 0z"/><path fill="#a6ff59" d="M-6 -6l151 0-7 3-3.7 3-14.3 23.2-20.4 21.8-3.7 6-2.4 9-9.5 56.2-1 15.8 .4 15 1.4 6 2.8 6 17.4 28.3 7.3 13.7 16 39 4.5 9 15.1 18 9.8 15 4.3 4.8 12 6.6 9 1.8 9-1.5 33-9 6-2.8 6-4.6 6-7 9-13.4 18-28.2 12.4-21.7 14.6-21 6-11.2 9.1-21.8 4.2-21 8.2-57 7.6-81 144.9 0 0 534-483 0z"/><path fill="#b3ff4c" d="M-6 -6l104 0 8 6 1.1 3-2.5 6-19.6 21-3.6 6-1.7 6-9.2 63-.5 33 .9 12 3.7 9 27.4 45.6 22.4 50.4 22.6 36.6 4.8 5.4 7.2 4.5 15 7 9 1.7 9-1.5 30-8.5 9-5.1 6-5.4 9-11.2 24.8-38.5 16.6-30 10-15 6.6-12 10.5-24 4.1-15 8.4-63.6 7.1-86.4 142.9 0 0 534-483 0z"/><path fill="#bfff40" d="M-6 -6l92.2 0-2.2 5.7-15 17.2-3 7-1.3 6.1-8 63-.2 48 1.7 12 27.5 51 9.4 24 15.5 30 27.1 45 6.3 6 6 3.4 24 11.8 9 1.6 9-1.7 27-8.3 9-5.5 12-12 10-13.3 26.7-42 30.8-57 11.5-27 3.3-12 7.8-69 6.1-84 140.8 0 0 534-483 0z"/><path fill="#ccff33" d="M-6 -6l53.6 0 .9 9-3 18-14 54-1.4 9-.3 54 .3 6 1.5 6 4.2 6 12.2 12.7 9 13.1 13.3 25.2 10.2 30 8.8 18 8.6 15 28.4 42 8.7 8.5 27 17.3 9 3 12 1.3 12-2.1 24-8.4 6-4.5 18-20.7 21-29.4 18-30 29.1-58 12.5-30 2.8-12 6.8-72 5.2-81 138.6 0 0 534-483 0z"/><path fill="#d9ff26" d="M340.6 -6l136.4 0 0 534-483 0 0-370.9 3 .3 6 2.6 18.3 14 19 18 10.3 12 5.9 12 9.5 30 5.1 12 28.6 45 10.8 21 5.2 6 31.3 20.7 12 4.1 21 2.8 9 .3 9-1.8 21-7.4 6-3.4 3.4-3.3 12.6-21 29-37.8 30-57.7 18-40.7 9-22.8 3.6-15 5.7-78z"/><path fill="#e5ff1a" d="M342.9 -6l134.1 0 0 534-483 0 0-345.8 3.1 .8 5 3 18.3 18 9.1 12 15.5 28.3 17.5 37.7 17 45 8.5 15 5 5.4 7.2 3.6 19.8 6.1 15 8.1 6 2.2 42 6.1 9 .4 6-.9 27-10.3 6-4.3 3-3.7 15.6-30.7 20.4-24.3 5.5-8.7 10.5-24 18.2-36 19.8-48.7 8.4-23.3 2.3-12 1.2-33z"/><path fill="#f2ff0d" d="M345.2 -6l131.8 0 0 534-483 0 0-294.2 3 2.9 3 6.3 10.5 51 4.2 12 10.7 12 25.6 20 15 22.3 6 5.8 9 3.8 48 13.7 45 10.4 15 2.1 6-.1 6-1.5 30-17.4 6-5.1 3-4.1 21.3-40.9 11.9-15 5.8-9.2 13.6-32.8 16.4-35.3 27.8-75.7 2-12 .8-42z"/><path fill="#ffff00" d="M347.5 -6l129.5 0 0 534-483 0 0-176.2 8.2 2.2 38.1 27 16.7 8.5 48 16.4 42 11.2 18 2.9 33 2.2 6-.7 4.1-1.5 7.9-5.3 15-13.5 15-15.8 7.8-10.4 7.2-12.7 13.6-32.3 9.6-18 8.9-21 20.9-54 26.9-78 1.8-12 .5-51z"/><path fill="#fff200" d="M349.8 -6l127.2 0 0 534-291.6 0-.5-6 7.1-19.6 10.7-43.4 4.8-12 4.8-6 15.7-13.9 18-19.8 18-25.4 5.4-9.9 11.9-33 11.5-24 7.2-17.8 9-30.2 33-97.3 3.4-13.7 .9-9 0-57zM-.9 396l3.9-.6 3 .9 21 11.9 21 9.5 15 5.7 36.5 11.6 12.2 6 5.9 6 14.4 28.1 9 13.8 6 5.9 23.1 18.2 5.9 6 1.4 3-1.3 6-182.1 0 0-128.4z"/><path fill="#ffe500" d="M352.2 -6l124.8 0 0 534-279.4 0 1.2-12 6.8-36 6-21 4.4-6.9 21-15.1 9-11.4 16.5-29.6 13.5-20.9 11.3-30.1 14-27 5.1-15 9.7-39 27.9-87 4-15.5 1.7-11.5-.3-63zM-6 417l9 11.5 15.1 9.5 6.8 6 45.5 69 5.9 6 10.7 5.9 2.6 3.1-95.6 0z"/><path fill="#ffd900" d="M354.9 -6l122.1 0 0 534-275.6 0 8.4-45 3.2-11.1 3-6.4 6-6.5 15-10 9-10.7 21-40.9 14.5-19.4 9.5-22.8 15-28.1 3.5-9.1 11.6-51 24.5-81 6.8-30 .7-12-.7-60 2.8-75zM-6 492l3.9 15 3.6 9 4.5 5.4 8.8 6.6-20.8 0z"/><path fill="#ffcc00" d="M358 -6l119 0 0 534-272.3 0 7.4-36 5.3-15 4.6-6.1 15-11.7 9-12 24-47 18.3-22.2 20.7-42.1 6.1-14.9 10.9-51 23-81 6.8-33 .7-12-.9-63 2.7-72z"/><path fill="#ffbf00" d="M362.1 -6l114.9 0 0 534-268.8 0 6-27 4.8-13.6 3-4.3 12-11 6-7.6 12-20 21-41.6 17.5-18.9 4.4-6 17.1-35.1 9-21.9 10.8-51 20.6-78 6.9-36 .6-12-.8-66z"/><path fill="#ffb300" d="M366.6 -6l110.4 0 0 534-264.9 0 5-21 4.9-11.6 12-14 9-13.7 31.4-59.7 4.6-6 17.6-18 6.4-9 18-39.1 5.8-14.9 11.1-51 16.6-66 8.6-48 .7-12-.6-69z"/><path fill="#ffa600" d="M370.7 -6l106.3 0 0 534-260.7 0 2.7-12 3.5-9 20.5-31.7 32.1-61.3 6.9-8.8 20.5-21.2 6.3-9 23.7-54 26.8-111 8.4-54 .9-99z"/><path fill="#ff9900" d="M375 -6l102 0 0 534-255.9 0 4.5-15 20.4-35.8 30-57.3 6.5-8.9 25.7-27 6.3-9 25.1-57 26-105 7.9-57 1.6-72 .5-78z"/><path fill="#ff8c00" d="M380.4 -6l96.6 0 0 534-245.7 0-.5-9 4.2-12 41-79.6 9-13 27-28.5 6.2-7.9 17.4-39 9.6-18 2.1-6 24.8-99 8.2-60 2-75z"/><path fill="#ff8000" d="M386 -6l91 0 0 534-63 0-30-3.1-3 1.7-.3 1.4-69.8 0 1.1-6.7-1-2.3-2-1.1-60-4-3.4-.9-2.9-3 0-6 5.6-15 30.7-59.5 6-8.8 8.3-9.7 27.9-30 4.9-9 12.9-29.7 11.7-18.3 3.6-9 8.9-36 7.5-24 5.6-24 11.4-78 2.6-69-3.8-60z"/><path fill="#ff7300" d="M391.4 -6l85.6 0 0 517.3-45-.9-168-8.7-6-.8-3-1.4-1.9-4.5 1.8-9 3.8-9 23.3-45.3 13.6-17.7 22.4-23.4 7.7-9.6 16.3-34.9 15.6-22.1 3.5-9 7.8-33 9-18 2-6 3.3-21 3-33 9.4-57 4.9-60-.3-9-4.2-24.8-3-25.2zM322.8 522l10.2-1.3 27 .1 6 2.1 4.8 5.1-55.5 0 2.7-3.7z"/><path fill="#ff6600" d="M422.4 78l6.6-1.3 48-.1 0 419.9-72-.8-126-6.4-12-1.6-3-3.3 .5-7.4 5.9-15 12.2-24 12.6-18 25.8-27.7 8.9-11.3 14.6-30 19.3-27 2.3-6 5.4-24 3.5-9.2 13.9-17.8 .8-3-.5-18 1.2-33 3.8-27 9.1-39 7.7-49.3 3-9.3 3-5.8 3-3.5zM324.6 525l8.4-.8 24 0 6 1.4 3.4 2.4-47.5 0z"/><path fill="#ff5900" d="M421.2 120l1.8-1.3 6-1.2 48-.1 0 139.5-72-.4-6-2.5-2.8-5-1.3-12 .2-21 3.6-27 3.3-14 7.8-22 6.2-24 2.7-6zM392.6 282l9.4-.9 75-.1 0 200.8-99-.7-93-4.7-6-.9-3-1.4-1.5-3.1 1.3-9 6.2-14.7 6-11.3 9.5-13 34.5-39 13-25 22.6-32 2.7-6 4.7-18.9 3.3-8.1 5.7-7.3zM323.9 528l6.1-1.1 18-.1 13 1.2z"/><path fill="#ff4c00" d="M422.3 153l3.7-1.8 6-.6 45-.1 0 96.6-66-.2-6-1.9-3-3.9-1.6-7.1-.5-15 .7-12 2.1-12 3.2-12 5.1-13.6 6-11zM389.3 297l9.7-1.6 78 0 0 171.6-117-.3-63-2.9-9-1.5-2.9-3.3 .3-6 3.1-9 4.8-9 6.7-9.1 36.4-41.9 11.6-21 23-33 3.1-6 6.9-19.5 3-4z"/><path fill="#ff4000" d="M424.8 168l7.2-1.1 45-.1 0 70.8-60-.2-6-1.4-3-2.7-2.5-8.3-.5-9 .6-9 1.9-9 4-12 5.5-11.2 3-3.8zM387.7 312l5.3-1.9 6-.4 78 0 0 142.5-147-.2-27-1.3-6-2.4-1.1-4.3 .5-3 3.6-7.2 39.7-46.8 11.3-18.6 22.1-32.4 10.9-20.3z"/><path fill="#ff3300" d="M424.1 183l7.9-1.8 45-.1 0 47-54-.2-6-1.1-2.8-1.8-1.9-3-1.5-6 1-12 5.2-13.2 3-4.5z"/><path fill="#ff2600" d="M423.9 198l2.1-1.3 6-1.1 45-.2 0 22.8-45 0-9-1-3-2-1.8-5.2 1.8-7.5z"/>
</g><use href="#coast"/><use href="#feat"/></g>
<rect x="0" y="0" width="467.8" height="520.1" fill="none" stroke="#262626" stroke-width="1.6"/>
<path d="M0 104.439h5M467.8 104.439h-5M0 260.2h5M467.8 260.2h-5M0 415.96h5M467.8 415.96h-5M156.266 0v5M156.266 520.1v-5M338.061 0v5M338.061 520.1v-5" stroke="#262626" stroke-width="1.4" fill="none"/>
<rect x="475.8" y="0" width="15.2" height="520.1" fill="url(#jet)" stroke="#555" stroke-width="0.5"/>
<path d="M491 65.0125h-5M491 130.025h-5M491 195.038h-5M491 260.05h-5M491 325.062h-5M491 390.075h-5M491 455.088h-5" stroke="#333" stroke-width="1" fill="none"/>
<text x="496" y="7" font-family="Liberation Serif, serif" font-size="20">8</text>
<text x="496" y="72.0125" font-family="Liberation Serif, serif" font-size="20">7</text>
<text x="496" y="137.025" font-family="Liberation Serif, serif" font-size="20">6</text>
<text x="496" y="202.038" font-family="Liberation Serif, serif" font-size="20">5</text>
<text x="496" y="267.05" font-family="Liberation Serif, serif" font-size="20">4</text>
<text x="496" y="332.062" font-family="Liberation Serif, serif" font-size="20">3</text>
<text x="496" y="397.075" font-family="Liberation Serif, serif" font-size="20">2</text>
<text x="496" y="462.088" font-family="Liberation Serif, serif" font-size="20">1</text>
<text x="496" y="527.1" font-family="Liberation Serif, serif" font-size="20">0</text>
<text x="156.266" y="544.6" text-anchor="middle" font-family="Liberation Serif, serif" font-size="20">100.89</text>
<text x="338.061" y="544.6" text-anchor="middle" font-family="Liberation Serif, serif" font-size="20">100.92</text>
<circle cx="195.158" cy="31.851" r="11.3" fill="#800000" stroke="#fff" stroke-width="2"/>
<text x="207.958" y="39.251" font-family="Liberation Serif, serif" font-weight="bold" font-size="19.5">ST6</text>
<circle cx="347.634" cy="87.5653" r="11.3" fill="#800000" stroke="#fff" stroke-width="2"/>
<text x="360.434" y="94.9653" font-family="Liberation Serif, serif" font-weight="bold" font-size="19.5">ST1</text>
<circle cx="162.748" cy="217.665" r="11.3" fill="#800000" stroke="#fff" stroke-width="2"/>
<text x="175.548" y="225.065" font-family="Liberation Serif, serif" font-weight="bold" font-size="19.5">ST5</text>
<circle cx="343.745" cy="279.67" r="11.3" fill="#f20000" stroke="#fff" stroke-width="2"/>
<text x="356.545" y="287.07" font-family="Liberation Serif, serif" font-weight="bold" font-size="19.5">ST2</text>
<circle cx="63.6232" cy="380.115" r="11.3" fill="#800000" stroke="#fff" stroke-width="2"/>
<text x="76.4232" y="387.515" font-family="Liberation Serif, serif" font-weight="bold" font-size="19.5">ST4</text>
<circle cx="222.183" cy="476.567" r="11.3" fill="#800000" stroke="#fff" stroke-width="2"/>
<text x="234.983" y="483.967" font-family="Liberation Serif, serif" font-weight="bold" font-size="19.5">ST3</text>
</g>
<g transform="translate(1365.6 1375.7)">
<g transform="scale(0.99723 0.99846)"><g clip-path="url(#sea)">
<rect x="-2" y="-2" width="474" height="524.9" fill="#ffc600"/><path fill="#ffbf00" d="M14.9 -6l462.1 0 0 534-483 0 0-496.6 6-15.7 12-13.7z"/><path fill="#ffb900" d="M30 -6l447 0 0 534-483 0 0-487.8 5.3-4.2 6.7-10.1 17.1-13.9 6.1-6 2.5-6-.2-3z"/><path fill="#ffb300" d="M53.9 -3l4-3 419.1 0 0 534-483 0 0-483 6-.5 5.3-2.5 24.7-19.1 9-8 9-12.6z"/><path fill="#ffac00" d="M64.7 -6l412.3 0 0 534-483 0 0-477 6 5 3 .9 3-.7 27-19.8 9-8.1 5.9-7.3 15.1-22.2z"/><path fill="#ffa600" d="M69.3 -6l407.7 0 0 534-483 0 0-449.3 15-8.1 27-20.8 9-8.2 9-11.8 13.7-20.8 2.1-6z"/><path fill="#ff9f00" d="M75.1 -6l401.9 0 0 534-483 0 0-418.8 3-10.2 3-5.5 3-3.4 39-29.3 12-13.6 25.5-38.2 1.4-6-1-3z"/><path fill="#ff9900" d="M97.7 -6l379.3 0 0 534-483 0 0-409.5 3.8-4.5 5.2-10 3-3 34.1-23 7.9-6.6 4.9-5.4 37.8-54 3.4-6z"/><path fill="#ff9300" d="M122 -3l2.4-3 352.6 0 0 534-483 0 0-405.6 5.4-2.4 6.6-6.5 37.1-23.5 13.9-10.8 8.6-10.2 46-63z"/><path fill="#ff8c00" d="M130.8 -6l346.2 0 0 534-483 0 0-402.4 6 0 6-1.2 15.9-7.4 32-21 18.9-15 10.3-12 44.2-60 2.9-6z"/><path fill="#ff8600" d="M137.4 -6l339.6 0 0 534-483 0 0-398.9 9 5.4 3 .7 6-1.5 12-5.2 30-19.2 36.7-28.3 10.3-12 43.8-60 1.1-6-2-3z"/><path fill="#ff8000" d="M169.2 -6l307.8 0 0 534-483 0 0-392.9 4.6 8.9 4.4 3.4 6-.7 18-7.4 9-4.6 15-9.9 50.6-37.8 7-6 8-9 42.7-57 5.7-9z"/><path fill="#ff7900" d="M199.5 -3l2.8-3 274.7 0 0 534-483 0 0-367.5 6 1.2 6-1.5 36-16.1 79.2-57.1 6.9-6 8-9 50.8-66 2.9-3z"/><path fill="#ff7300" d="M208.8 -6l268.2 0 0 534-483 0 0-307.1 2.9-1.9 2.1-3 6.6-21 7-15 3.5-6 5.7-6 27-15 38.2-26.9 39-24.6 14.4-11.5 12.8-12 26.8-33.6 26.1-35.4 2.6-6z"/><path fill="#ff6c00" d="M215.7 -6l261.3 0 0 534-483 0 0-278.1 3 4.9 3 .3 6-6.2 35.2-68.9 3.5-6 5.4-6 20.8-15 59.2-36 36.1-30 11.9-12 18.6-24 30.4-42 1-3-.3-3-2.7-3z"/><path fill="#ff6600" d="M254.8 -3l1.4-3 220.8 0 0 534-483 0 0-138.6 13.6-50.4 11.1-54 6-15 26.3-51.8 15.4-26.2 9-18 4.3-6 11.5-9 43.8-27.1 61.2-50.9 9.9-12 42-57 3.5-6z"/><path fill="#ff6000" d="M292.5 -6l184.5 0 0 534-467.5 0-5.7-6-.7-3 .3-6 22.1-120 16.5-82.5 5.5-25.5 4.9-12 34.6-57 17.4-39 5.9-9 7.1-6 20.6-13.7 30-23.3 33-21.3 19.2-16.7 13.4-15 46.6-63 10.8-11.3z"/><path fill="#ff5900" d="M301.5 -6l175.5 0 0 534-453.7 0 5-18 19.7-88.3 12-45 17.1-58.7 6.2-36 4.2-9 20.5-34 27.4-62 6.4-9 8.2-6.9 61-38.1 45.7-42 12-15 41.5-57 .9-3-.5-3z"/><path fill="#ff5300" d="M356.1 -3l3.4-3 117.5 0 0 534-432.5 0 5.4-6 10.1-27.1 20.1-41.9 4.8-12 23.2-84 9-66 1.9-9 19-39.1 9-16.5 34-55.4 10.2-9 27.8-18.2 39-34.6 27-21.5 10.8-12.7 53.4-72z"/><path fill="#ff4c00" d="M408.3 3l68.7-.3 0 525.3-381.5 0 1.9-6 6.6-9 7.6-15 7.9-24 20.2-78 12-78 3.5-15 18.7-30 48.7-96 6.7-9 7.7-6.7 51-31.4 9-6.8 31.9-36.1 28.1-36.4 27-31 9-9.4 6-4.9z"/><path fill="#ff4600" d="M444.6 45l32.4-.9 0 483.9-317.7 0-5.7-9 .3-6 15-54 13.1-60 7-42 4.8-12 48.2-66 49.8-99 7.9-12 12.3-12.2 48-55.2 9-9.1 28.7-16.5 37.3-26.6z"/><path fill="#ff4000" d="M471.3 87l5.7-1.7 0 442.7-274.9 0-2.3-6 .8-9 23.5-108 3.5-12 39.4-69.2 76.8-152.8 8.6-12 18.1-21 7.5-8.2 6-4.8z"/><path fill="#ff3900" d="M473.8 129l3.2-.8 0 399.8-240.3 0 8-6 2.7-6 24.3-111 3.8-12 111.5-221.9 6-7.6 9-5.8z"/>
</g><use href="#coast"/><use href="#feat"/></g>
<rect x="0" y="0" width="467.8" height="520.1" fill="none" stroke="#262626" stroke-width="1.6"/>
<path d="M0 104.439h5M467.8 104.439h-5M0 260.2h5M467.8 260.2h-5M0 415.96h5M467.8 415.96h-5M156.266 0v5M156.266 520.1v-5M338.061 0v5M338.061 520.1v-5" stroke="#262626" stroke-width="1.4" fill="none"/>
<rect x="475.8" y="0" width="15.2" height="520.1" fill="url(#jet)" stroke="#555" stroke-width="0.5"/>
<path d="M491 65.0125h-5M491 130.025h-5M491 195.038h-5M491 260.05h-5M491 325.062h-5M491 390.075h-5M491 455.088h-5" stroke="#333" stroke-width="1" fill="none"/>
<text x="496" y="7" font-family="Liberation Serif, serif" font-size="20">8</text>
<text x="496" y="72.0125" font-family="Liberation Serif, serif" font-size="20">7</text>
<text x="496" y="137.025" font-family="Liberation Serif, serif" font-size="20">6</text>
<text x="496" y="202.038" font-family="Liberation Serif, serif" font-size="20">5</text>
<text x="496" y="267.05" font-family="Liberation Serif, serif" font-size="20">4</text>
<text x="496" y="332.062" font-family="Liberation Serif, serif" font-size="20">3</text>
<text x="496" y="397.075" font-family="Liberation Serif, serif" font-size="20">2</text>
<text x="496" y="462.088" font-family="Liberation Serif, serif" font-size="20">1</text>
<text x="496" y="527.1" font-family="Liberation Serif, serif" font-size="20">0</text>
<text x="156.266" y="544.6" text-anchor="middle" font-family="Liberation Serif, serif" font-size="20">100.89</text>
<text x="338.061" y="544.6" text-anchor="middle" font-family="Liberation Serif, serif" font-size="20">100.92</text>
<circle cx="195.158" cy="31.851" r="11.3" fill="#ff0a00" stroke="#fff" stroke-width="2"/>
<text x="207.958" y="39.251" font-family="Liberation Serif, serif" font-weight="bold" font-size="19.5">ST6</text>
<circle cx="347.634" cy="87.5653" r="11.3" fill="#ffde00" stroke="#fff" stroke-width="2"/>
<text x="360.434" y="94.9653" font-family="Liberation Serif, serif" font-weight="bold" font-size="19.5">ST1</text>
<circle cx="162.748" cy="217.665" r="11.3" fill="#ff1a00" stroke="#fff" stroke-width="2"/>
<text x="175.548" y="225.065" font-family="Liberation Serif, serif" font-weight="bold" font-size="19.5">ST5</text>
<circle cx="343.745" cy="279.67" r="11.3" fill="#d9ff26" stroke="#fff" stroke-width="2"/>
<text x="356.545" y="287.07" font-family="Liberation Serif, serif" font-weight="bold" font-size="19.5">ST2</text>
<circle cx="63.6232" cy="380.115" r="11.3" fill="#ff1a00" stroke="#fff" stroke-width="2"/>
<text x="76.4232" y="387.515" font-family="Liberation Serif, serif" font-weight="bold" font-size="19.5">ST4</text>
<circle cx="222.183" cy="476.567" r="11.3" fill="#ffa100" stroke="#fff" stroke-width="2"/>
<text x="234.983" y="483.967" font-family="Liberation Serif, serif" font-weight="bold" font-size="19.5">ST3</text>
</g>
<g transform="translate(162.1 1948.5)">
<g transform="scale(0.99723 0.99827)"><g clip-path="url(#sea)">
<rect x="-2" y="-2" width="474" height="524.9" fill="#000080"/><path fill="#000099" d="M-6 -6l138.4 0 7.3 24 22.3 123.9 6 24.7 6 18.9 12.3 36.5 5.1 12 3.6 4.5 14.7 13.5 12.3 19.1 3 3 3-1.1 4.1-9 4.9-2.9 33-1 9-2.4 9-7.2 6-11.2 1.7-11.3 2.1-63-11.8-60-.8-12 1.8-9 13-40.4 3-12.9 1.8-36.7 172.2 0 0 534-483 0z"/><path fill="#0000b2" d="M-6 -6l117.8 0 15.1 57 9.1 54 12.8 57 20.2 69 4.5 9 12.5 18.3 15.6 17.7 18.1 33 11.3 11.6 6 1.9 6-2.5 5.9-5 10.5-12 25.6-25.8 9-14.3 7.7-22.9 1.3-9 3.8-69-2.3-15-9.1-42-1.1-9 1.2-9 7.6-24 3.3-15 1.3-18 .2-36 169.1 0 0 534-483 0z"/><path fill="#0000cc" d="M-6 -6l89 0 2.8 12 16.2 39.4 9 27.1 6 22.5 14 64 24.2 78 9.8 17.1 37.6 57.9 10.4 12.2 15 14.6 6 3.6 3 .3 6-2.6 9-7.9 25.5-26.2 10.5-12.2 6-10.1 3-7.1 9.3-30.6 2.2-15 4.7-66-2.4-27-7.8-42 .5-6 5.2-21 1.2-12 0-63 167.1 0 0 534-483 0z"/><path fill="#0000e6" d="M-6 -6l56.2 0 2 6 9.9 18 12.9 26.6 14.2 36.4 7.9 24 15.9 57 25.6 75 41.9 69 14.5 20.4 15 18 9 8.6 12 9.2 6 1 6-2.9 9-8.3 30-31.8 9-11 5.1-9.2 3.9-9.8 10-35.2 2.8-18 5.4-72-3.1-42-3.5-27 1.4-33-2-57 .5-12 165.5 0 0 534-483 0z"/><path fill="#0000ff" d="M-6 -6l25.6 0 2.2 6 8.1 12 22.8 42 18.5 42 21.4 66 14.4 36 11.1 36 4.3 9 9.6 15.9 15 23.2 35.3 50.9 21.7 28.2 7 7.8 7.1 6 9.9 5.3 6 1.4 4.5-.7 4.5-2 8.8-7 36.2-41 15.2-28 9.4-33 4.2-30 5.4-75-5.7-75-4-81 .3-15 164.2 0 0 534-483 0z"/><path fill="#001aff" d="M313.9 -6l163.1 0 0 534-483 0 0-523.7 3 .1 3 2 9 10.5 12 20 9 17.1 16.9 39 25.7 75 20.4 43.8 12 31.2 9 17.9 21 34.5 9 13.1 13.3 15.5 13.7 20.3 30.6 36.7 11.4 8.9 12 3.7 9 1.4 9-2.5 12-7.9 13.8-12.6 16.2-19.5 6-9.3 18-36.7 6-19.9 4.6-34.6 6.1-87-8.7-108-3.3-48z"/><path fill="#0033ff" d="M314.9 -3l.2-3 161.9 0 0 534-483 0 0-483.1 6 .2 3 1 3 2.8 18 34.2 7.6 18.9 30.4 93 10 25.6 7.1 13.4 13.2 18 12.7 25.3 14 22.7 10.5 15 22.1 27 13.4 24.2 9 11.5 33 28.3 9 3.4 12 .2 12-3.2 12-6.5 30.8-27.9 5.2-7.2 6-11.3 9-22.3 12-23.3 3.5-10.9 3.3-27 7-105-9.9-105-3.9-51z"/><path fill="#004dff" d="M316 -6l161 0 0 534-483 0 0-474.3 3 4.2 5.1 20.1 14.8 36 36 111 7 15 9.1 12.7 15 18.4 15 28.1 12 18 35.1 42.8 12.9 24.6 9 13.4 9 8.3 24 18.5 9 2.1 9-.5 9-3 27-15.1 35.5-33.3 5.1-9 8.5-24 16.8-36 1.8-6 9.1-132-12.1-114-3.7-45z"/><path fill="#0066ff" d="M317 -6l160 0 0 534-483 0 0-399.2 6 1 3 2.4 3 5.7 29.4 90.1 6.6 15.6 33 45.7 15 25.7 21 30.5 9 11.3 15 15.6 6 7.6 21 38.5 12 11.6 12 9 6 3.1 12 1.6 12-2.5 12-6.8 12-9.7 12-7.2 16.5-12.6 25.5-25.6 6-10.2 8-24.2 17.8-42 1.2-9 2.5-54 5.1-72-13.8-117-3.8-42z"/><path fill="#0080ff" d="M317.9 -3l.1-3 159 0 0 534-483 0 0-335.1 6-.6 3 1.4 3 3.9 14.5 39.4 15.3 30 15.2 18.2 10.8 14.8 33.1 51 25.1 36.1 18 20.9 15.1 27 7.6 9 7.5 6 11.9 6 8.9 2.7 15-.3 9-2.9 15-10.8 13.6-12.7 10.4-7.7 9-9 15.9-10.3 8.1-8.7 15-18.7 3.1-5.6 16.1-48 8.7-18 1.6-6 2.6-60 5.1-66-.1-9-5.1-30-9.6-81-4.1-42z"/><path fill="#0099ff" d="M318.9 -6l158.1 0 0 534-483 0 0-286.3 6 2.1 9 10.3 18.8 33.9 5.2 6.8 12 12.5 9 12.5 39 58.2 27 45.5 25.2 29.5 10.8 10.3 6 3.2 27 7.8 15-2 9-3.7 12-10.5 18-19.1 9-7.9 9-11.4 22.3-14.7 19.8-27 4.4-9 12.9-42 11-24 3.3-63 5.2-66-.3-9-5.9-30-10.4-84-4.3-42z"/><path fill="#00b2ff" d="M319.9 -6l157.1 0 0 534-483 0 0-256.1 4.9 1.1 3.8 3 21.3 43.5 6 10.5 9 12.3 24 27.9 9 11.8 36.3 65 8.7 9 31.3 24 7.7 4.1 33 6.3 9-1.8 12-4.6 12-11.2 18-22.4 12-12.4 12-17.3 17.1-9.7 6.9-5.9 11.2-18.1 6.8-9.2 4-8.8 12.3-42 9.4-18 2-6 3.5-63 5.2-66-.3-9-7.2-33-10-78-4.6-42z"/><path fill="#00ccff" d="M320.8 -6l156.2 0 0 534-292.5 0-1.5-1-1.9 1-187.1 0 0-212.2 3 .8 3 2.3 6 8.6 15 33.4 6 10.6 6 6.9 16.9 14.6 6.7 9 6.4 12 10.5 27 3.6 6 5.3 6 25.6 22.8 36 24 6 2.5 18.8 4.7 14.2 5.4 6-.8 18-11.2 6-4.9 9-11.2 16.9-25.3 16.1-18.1 9-16.3 3-3 15-8.1 7-5.5 10.5-18 9.5-13.4 3-6.9 11-39.7 10-19.3 2.6-7.7 9.2-129-.3-9-6.4-24-3.9-24-11.3-90-2.1-21z"/><path fill="#00e5ff" d="M321.8 -6l155.2 0 0 534-265.4 0 .5-9 2.1-9 23.1-42 6.8-9 10.9-12 11-21 4-3.4 15-8.2 6-5.2 10.4-19.2 8.7-12 3.8-9 9.6-36 3.5-8.4 8.6-15.6 1.6-6 9.7-135-1.5-9-6.4-21.6-3.5-20.4-11.9-93-1.8-18zM-6 351l0-2.7 3.5 2.7 6.3 18 4.2 9 10 14.8 14.3 18.2 15.7 36 6 7.2 36 33.6 26.6 22.2 3 6 .5 12-126.1 0z"/><path fill="#00ffff" d="M322.7 -6l154.3 0 0 534-258.1 0 .4-12 2.3-9 8-18 8.1-15 20.3-26 9-19.5 3-2.9 15-8.8 6-4.7 3.1-4.1 7.2-15 10.7-15.1 3-7.4 10-37.5 11-20.9 2.8-9.1 9.9-135-1.3-9-7.2-24-3.8-21-12.4-96zM-6 399l0-.9 2.7 .9 3.3 2.4 12 15.8 6 10.2 9 19.6 6 9 12 13.8 21 20 15.5 17.2 2.8 6 .1 3-5.8 12-84.6 0z"/><path fill="#19ffe6" d="M323.7 -6l153.3 0 0 534-254.5 0 .7-12 2.2-9 6.3-15 8-15 18.3-24 9.3-21 5.7-5.7 12-7.2 6.5-5.1 4.3-6 7.1-15 10.5-15 2.4-6 9.5-36 12.2-24 2.6-9 7.9-94 2.4-41-1.1-9-7.5-24-4.7-24-12.3-96zM-6 435l0-2.6 6 2.2 4.8 6.4 3.6 9 4.6 18 3 6 5 4.5 15 8.6 15.6 13.9 14.4 18 2.1 9-74.1 0z"/><path fill="#33ffcc" d="M324.7 -6l152.3 0 0 534-251.6 0 1.5-15 6.5-18 9.6-17.3 15-20.3 4-7.4 6-15 5-5.9 15-9.8 6-5.8 10.3-20.5 10.5-15 3.1-9 7.7-30 3.8-9 9.6-18 2.4-9 7.8-90 2.6-48-2.2-12-7.6-23.9-3.7-18.1-12.3-96zM-6 510l0-2.4 21 10.6 3.6 3.8 1.6 6-26.2 0z"/><path fill="#4cffb3" d="M325.8 -6l151.2 0 0 534-248.8 0 1.5-15 5.2-15 8.1-14.7 18-26.9 9-20.9 3-3.6 15-10.5 6-5.6 3.2-4.8 6.7-15 11.1-16.1 3.2-7.9 8.7-33 12.1-23.7 3.1-9.3 8.4-90 2.7-51-2.2-13.8-8.1-25.2-3.9-18.3-12-93.8z"/><path fill="#66ff99" d="M326.9 -6l150.1 0 0 534-245.3 0 .9-15 3.8-12 6.6-12.3 18-28.4 9.8-22.3 5.2-5.9 12-8.6 6-5.6 4.4-6.9 6.8-15 11.9-18 9.9-35.5 12.1-24.5 4.7-15 7.5-78 3.3-60-2.9-18-8.7-27-4-19.6-11.3-91.4z"/><path fill="#7fff80" d="M328.2 -6l148.8 0 0 534-239.6 0-1.7-9 0-6 3.7-12 21.6-36.9 12-26.1 21-18 4.1-6 8.4-18 10.2-15 3.6-9 7.1-27 14.3-30 3.3-12 7.7-78 3.1-60-3.1-21-8-24-4.7-21-10.9-90z"/><path fill="#99ff66" d="M329.5 -6l147.5 0 0 534-232.8 0-4.4-12-.4-6 3-9 18.6-33.1 12-26.5 5.6-6.4 12.4-10 6-6.9 9-19.2 12-18.2 3-7.8 6.6-24.9 14.4-30.8 4.1-14.2 7.9-77.6 2.9-48.4 0-15-3.2-21-8.7-26-3.8-16-11.1-93z"/><path fill="#b2ff4d" d="M331 -6l146 0 0 534-228.9 0-1.5-9-2.8-6-.3-6 2-6 15.5-29.3 12.5-27.7 4.5-6 13-11 6-6.9 10.1-21.1 11.8-18 2.4-6 7.5-27 13.2-27.8 5.3-17.2 7.8-75 3-51 .1-15-4.2-27.2-9-25.8-3-13z"/><path fill="#ccff33" d="M332.7 -6l144.3 0 0 534-225.4 0 1.4-9-.9-3-4.1-6-.5-3 2.5-9 25.5-54 21.5-21.8 11.2-23.2 11.7-18 10.1-32.8 12.9-27.2 5.5-18 7.9-72 3.1-69-4.3-30-10.1-29.1-2-9.9z"/><path fill="#e5ff1a" d="M334.8 -6l142.2 0 0 534-220.9 0 1.9-3.3 3-1.5 33.2-4.2-4.2-3-32-4.7-3-1.5-2.6-2.8-.2-6 23.4-54 4.4-6 17-16.8 4.2-7.2 7.8-17.5 11.8-18.5 9.2-29.6 14.1-30.4 5.5-18 8-72 3.1-69-4.4-33-2.3-8.4-7.3-18.6-2.2-9z"/><path fill="#ffff00" d="M337.3 -6l139.7 0 0 534-52.4 0-24.1-6-10.5-1.4-3 .2-1.4 1.2 .9 6-73.1 0 5.4-12-1.3-3-8.5-1.8-45-3.6-6-2.4-1.8-4.2 3-12 16.8-39.3 3.7-5.7 14.3-14.1 5.2-6.9 9.5-21 13.1-21 8.2-26.3 15-33 5.9-18.7 8.1-72 3.1-69-2.2-21-2.9-17.2-3-9.9-6-14.4-2.1-9.5z"/><path fill="#ffe600" d="M340.6 -6l136.4 0 0 525.6-12-.4-39-4.6-45-2.8-4.7 1.2-.3 3 3.2 12-60.4 0 1.2-6 1.7-3 8.9-9-12.6-2.8-51-3.7-5.4-2.5-1.2-3 .5-6 2.9-9 13.9-33 4.2-6 12.1-12.1 6-7.9 9-20.6 13.7-22.4 7.3-23 15.3-34 6.8-21 8.3-72 3-69-4.7-39-10.7-33z"/><path fill="#ffcc00" d="M345.4 -6l131.6 0 0 521.9-12-.7-27-4.4-18-1.8-144-9-9-1.9-2.3-3.1-.1-6 2.5-9 11.9-28.8 5.1-7.2 9.9-10.1 6-7.7 9.2-21.2 14.4-24 8.1-24 17.2-39 4.5-15 8.3-69 3.3-69-4.4-42-3.6-14.9-5.6-15.1-1.1-6-4.9-78zM329.8 516l9.2-1.7 27-.2 3 1 4.6 3.9 1.7 3 1.5 6-55.5 0 1.2-6 1.5-2.2z"/><path fill="#ffb300" d="M352.5 -6l124.5 0 0 518.9-9-.6-30-5.3-24-3-135-8.4-6-1-3-1.7-1.7-3.9 2.2-12 9.5-24 3.8-6 16.2-18.5 3.1-5.5 7.2-18 14.3-24 8.3-24 17.3-39 4.6-15 8.4-69 3.4-69-4.5-45-2.6-12-4.8-15-1.4-9-2.6-69 .1-9zM327.8 519l8.2-2.4 30 .1 6 3.7 2.4 4.6 .5 3-51.8 0 1.5-6z"/><path fill="#ff9900" d="M358.4 -6l118.6 0 0 515.3-12-.9-39-6.8-21-2.7-123-7.8-6-1.3-3.5-3.8 .5-9 7.6-21 5.3-9 15.3-18 10.1-24 12.9-21 8.8-24 19.7-45 3.5-12 8.3-66 3.9-69-.7-15-3.1-30-2.5-15-3.8-15-1.1-9-.5-51zM331.6 519l7.4-1.2 24 0 6 2.1 2.2 2.1 2.3 6-48.9 0 2-6z"/><path fill="#ff8000" d="M364.3 -6l112.7 0 0 507.5-6 2.3-12 0-42-7.2-24-3-108-7-6-1.9-1.7-1.7-1.1-3 2.1-12 5.9-15 18.6-24 9.2-23.2 13.2-21.8 7.8-20.8 19.9-45.2 4.8-15 8.5-66 4.1-69-3.1-42-5.8-39zM346.2 519l13.8 0 6 1 3.2 2 2.9 6-46.1 0 1-3.7 3-3.2 6-1.7z"/><path fill="#ff6600" d="M371.9 -6l105.1 0 0 492.9-3.7 2.1-5.3 7.5-6 2.8-15-1.2-63-9.6-93-6.1-8.3-2.4-2.1-3 .4-9 3.9-12 5.5-9 12.6-15.6 9-23.4 14.2-24 6.8-17.6 22.5-51.4 3.8-12 8.7-66 4.5-69-1.6-30-5.4-51 2-39zM331.3 522l7.7-1.7 24 .2 3 1 3 2.4 1.8 4.1-43.4 0 .8-3z"/><path fill="#ff4d00" d="M378.2 -6l98.8 0 0 489.6-6 2-6 5.5-6 2.7-24-1.7-63-9-78-5.2-6-1.6-2.6-2.3-1-3 .3-6 2.7-9 3.2-6 12-15 3.2-6 6.2-18.4 16.7-29.6 27.1-63 5.1-15 8.9-66 5.2-69-.6-21-4.8-60 3.1-42 5.3-39zM335.1 522l15.9-.8 12 .6 5.2 3.2 1.4 3-40.9 0 1.3-3.2z"/><path fill="#ff3300" d="M386 -6l91 0 0 487.3-8.4 1.7-9.6 4.4-9 .3-21-1.1-66-8.6-63-4.3-9-2.5-2.1-3.2-.5-3 .8-6 2.2-6 13.1-18 2.9-6 7-21 14.1-24 30.2-69 3.8-12 9-63 6.4-72-.5-24-3.7-48 .4-15 3.5-33 7.7-42zM331.9 525l7.1-2.4 21 0 6 2 2.2 3.4-38.2 0z"/><path fill="#ff1a00" d="M401.6 -3l3.2-3 65.1 0 4.1 2.3 3 3.2 0 479.9-24 1.9-45-1.9-54-6.5-51-3.8-6-1.4-3-2.3-1.2-3.4 1.6-9 12.2-18 7.8-24 10.7-18 6-12 29.4-66 3.9-12 9.3-63 7.6-75-3.5-69 1.3-18 4.7-30 6.2-27.7 6-15.9zM334.5 525l7.5-1.3 18 .1 3.9 1.2 2.8 3-35 0z"/><path fill="#ff0000" d="M406 18l38-.7 15 .7 3 1.3 3 3 6 14.2 2.4 2.5 3.6 1.3 0 437.3-21-2.6-60-1.9-54-5.7-33-2.4-9-2.4-2.5-3.6-.3-3 2-6 6.8-9.9 3.8-8.1 6.1-21 12.3-21 15.6-33 18.6-42 4-12 9.7-63 9-75-2.7-66 1-15 6.4-33 5.8-21 3.4-7.1 3-3.2zM340.3 525l18.6 0 4.1 1.3 1.9 1.7-31.4 0 2.5-1.9z"/><path fill="#e50000" d="M406.6 36l7.4-1.5 42 .3 3 .8 8.4 6.4 9.6 2.2 0 431.4-8-1.6-7-3.9-6-1.6-87-3-57-5.2-6-1.4-3.1-2.9 .3-6 7.8-15 6.6-24 10.7-18 14.8-30 21.6-48 3.2-9 5.5-30 10.6-77.2 5.6-33.8-2.1-63 .5-12 4.8-24 4.1-15 5.1-11.2zM336.1 528l5.9-1.5 9-.1 6 .1 5.3 1.5z"/><path fill="#cc0000" d="M468.3 48l8.7-.7 0 426.1-6.5-2.4-8.5-7.7-6-1.4-93-2.5-43.9-3.4-7.1-1.6-2.2-1.4-1.1-3 5-15 4.8-21 25.6-48 23.3-51 4-12 15.6-97.3 8.1-40.7-1.9-69 2.5-15 4.5-15 4.8-9.3 6-4.2 6-.9 39-.4z"/><path fill="#b30000" d="M474.7 51l2.3-.4 0 419.4-3.4-2-5.6-8.5-3-2.6-6-1.9-105-3.2-33-2.4-4.1-2.4-.7-3 4.8-28.2 25.1-46.8 25.1-54 4.8-15 14-83 12-52 .4-9-2.7-57 .5-6 2.4-9 5.4-10 6-4.3 6-1 33-.2 6-.9 3-1.9 7.2-11.7z"/><path fill="#990000" d="M476.1 57l.9-.7 0 385.9-15-1.2-13.1-3-19.9-7.6-30-15.1-39-21.6-6-4.2-2-5.5 2-9.1 26.3-53.9 5.3-15 11.9-63 1.5-19.8 2.9-16.2 10.7-42 .2-12-2.8-51 1-7.6 3-4.9 6-3 36-.6 6-1 3-1.5 4.2-5.4 4.8-17.7z"/>
</g><use href="#coast"/><use href="#feat"/></g>
<rect x="0" y="0" width="467.8" height="520" fill="none" stroke="#262626" stroke-width="1.6"/>
<path d="M0 104.419h5M467.8 104.419h-5M0 260.15h5M467.8 260.15h-5M0 415.88h5M467.8 415.88h-5M156.266 0v5M156.266 520v-5M338.061 0v5M338.061 520v-5" stroke="#262626" stroke-width="1.4" fill="none"/>
<rect x="475.8" y="0" width="15.2" height="520" fill="url(#jet)" stroke="#555" stroke-width="0.5"/>
<path d="M491 65h-5M491 130h-5M491 195h-5M491 260h-5M491 325h-5M491 390h-5M491 455h-5" stroke="#333" stroke-width="1" fill="none"/>
<text x="496" y="7" font-family="Liberation Serif, serif" font-size="20">8</text>
<text x="496" y="72" font-family="Liberation Serif, serif" font-size="20">7</text>
<text x="496" y="137" font-family="Liberation Serif, serif" font-size="20">6</text>
<text x="496" y="202" font-family="Liberation Serif, serif" font-size="20">5</text>
<text x="496" y="267" font-family="Liberation Serif, serif" font-size="20">4</text>
<text x="496" y="332" font-family="Liberation Serif, serif" font-size="20">3</text>
<text x="496" y="397" font-family="Liberation Serif, serif" font-size="20">2</text>
<text x="496" y="462" font-family="Liberation Serif, serif" font-size="20">1</text>
<text x="496" y="527" font-family="Liberation Serif, serif" font-size="20">0</text>
<text x="-7" y="111.419" text-anchor="end" font-family="Liberation Serif, serif" font-size="20">13.22</text>
<text x="-7" y="267.15" text-anchor="end" font-family="Liberation Serif, serif" font-size="20">13.19</text>
<text x="-7" y="422.88" text-anchor="end" font-family="Liberation Serif, serif" font-size="20">13.16</text>
<text x="156.266" y="544.5" text-anchor="middle" font-family="Liberation Serif, serif" font-size="20">100.89</text>
<text x="338.061" y="544.5" text-anchor="middle" font-family="Liberation Serif, serif" font-size="20">100.92</text>
<rect x="186.058" y="22.7449" width="18.2" height="18.2" fill="#0000bf" stroke="#fff" stroke-width="1.3"/>
<text x="207.958" y="39.2449" font-family="Liberation Serif, serif" font-weight="bold" font-size="19.5">ST6</text>
<rect x="338.534" y="78.4485" width="18.2" height="18.2" fill="#73ff8c" stroke="#fff" stroke-width="1.3"/>
<text x="360.434" y="94.9485" font-family="Liberation Serif, serif" font-weight="bold" font-size="19.5">ST1</text>
<rect x="153.648" y="208.523" width="18.2" height="18.2" fill="#000099" stroke="#fff" stroke-width="1.3"/>
<text x="175.548" y="225.023" font-family="Liberation Serif, serif" font-weight="bold" font-size="19.5">ST5</text>
<rect x="334.645" y="270.516" width="18.2" height="18.2" fill="#0000cc" stroke="#fff" stroke-width="1.3"/>
<text x="356.545" y="287.016" font-family="Liberation Serif, serif" font-weight="bold" font-size="19.5">ST2</text>
<rect x="54.5232" y="370.942" width="18.2" height="18.2" fill="#66ff99" stroke="#fff" stroke-width="1.3"/>
<text x="76.4232" y="387.442" font-family="Liberation Serif, serif" font-weight="bold" font-size="19.5">ST4</text>
<rect x="213.083" y="467.375" width="18.2" height="18.2" fill="#e5ff1a" stroke="#fff" stroke-width="1.3"/>
<text x="234.983" y="483.875" font-family="Liberation Serif, serif" font-weight="bold" font-size="19.5">ST3</text>
</g>
<g transform="translate(763.85 1948.5)">
<g transform="scale(0.99723 0.99827)"><g clip-path="url(#sea)">
<rect x="-2" y="-2" width="474" height="524.9" fill="#0000ff"/><path fill="#001aff" d="M-6 -6l126 0 13.1 24 13.9 47.1 6 16.6 3 4 6 2.7 21 .4 18-.5 6-2.2 9-7.9 18-21.6 9-12.4 6-12.4 5.3-19.8 2.1-18 220.6 0 0 534-483 0z"/><path fill="#0033ff" d="M-6 -6l73.1 0 .2 9 1.7 4.7 36 55 12 33.3 30 59.6 6 7.1 4.5 2.3 7.5 1 15 0 21-.5 6-2.7 3-3.1 6-11.5 12-28.1 18-23.5 3.9-6.6 5.1-14.6 6-30.4 1.9-18 1.5-33 212.6 0 0 534-483 0z"/><path fill="#004dff" d="M-6 -6l22.3 0 1 9 3 6 21.7 30.2 33.5 50.8 37.9 75 27.6 35.6 9 9.5 6 3.4 6 1 15 .2 15-.4 6-1.6 9-6 12.1-11.7 7.1-9 9.1-15 22.7-46 10.8-29 2.5-12 .3-24-3.1-54 .6-12 207.9 0 0 534-483 0z"/><path fill="#0066ff" d="M272.6 -6l204.4 0 0 534-483 0 0-484.5 6 0 3 1.2 3 2.8 25 33.5 11 17.9 33.3 66.1 11 15 43.7 54 13.8 12 9.2 5 6 1.2 39 2.3 6-3.6 14.6-16.9 15.4-15.8 6.4-8.2 25.1-42 6.3-15 7.2-21 2.9-18 .4-21-9.6-81z"/><path fill="#0080ff" d="M275.5 -6l201.5 0 0 534-483 0 0-429.3 6 3.2 6 7.1 30 53 7.7 12 48 60 12.9 12 42.4 30.8 9 3.8 15 3.2 27 8.1 6 1.2 6-.6 3.3-1.5 5.7-5.1 24-31.3 6-6.1 3-1.6 3-.1 3 1.7 10.8 12.5 4.2 3.4 9 2.3 6-1.2 3-2.3 3-4.4 3-7 2.4-8.8 .5-6-9.4-51 1.7-36-2.4-51-11-66-2.9-24z"/><path fill="#0099ff" d="M278.5 -6l198.5 0 0 534-483 0 0-394.9 3.2 4.9 5.8 17.1 8.7 15.9 24.3 39.9 17.5 23.1 23.1 24 19.4 18.5 51 34.4 12 5.8 33 11.1 12 3.5 6 .4 9-2.5 21-9.3 21-11.2 9-1.8 15-.6 6-2 6.8-7.3 5.2-12.2 6-25.6 1.8-22.2-7.4-51-8.2-93-11.5-54-4.4-30z"/><path fill="#00b2ff" d="M281.7 -6l195.3 0 0 534-483 0 0-328.1 6 1.5 3 2.7 20 32.9 16 20.9 51 52.1 15 11.2 42 27.7 12 5.9 21 7.1 12 2.9 12-.3 29.9-7.5 15.1-5.6 10.9-6.4 15.4-12 15.7-6.2 6-7.4 11.6-19.4 3.8-9 2.9-18 1-30-1.3-23.5-5.8-45.5-8.2-81-13-55-5-29z"/><path fill="#00ccff" d="M285.4 -6l191.6 0 0 534-483 0 0-281 6 2.7 6 5.6 27.6 35.7 26.4 30 12 11.7 24 19.9 33 19.5 21 15.9 9 4.5 9 1.2 15-1.8 30-6.3 21-6.6 12-5.3 15-10.2 24-9.9 6.9-5.6 5.1-7 18-36.8 3.7-10.2 1.6-18-.5-39-1.8-32.6-11.3-111.4-15.7-63.9-3.9-20.1z"/><path fill="#00e5ff" d="M289.7 -6l187.3 0 0 534-483 0 0-225.9 6 1.8 6 4.1 39.9 40 28.1 24 8.6 6 34.4 20.3 27 24.1 9 4.4 6 .3 9-1.9 30-10.5 48-21.9 6-4.3 12-11.7 15-6.9 6-4.3 14-14.6 4-5.9 18-44.3 2.2-9.8 .4-18-1.5-57-6.4-90-3.3-33-18.4-73.4z"/><path fill="#00ffff" d="M294.9 -6l182.1 0 0 534-483 0 0-171.9 6 1 6 2.6 21 13.1 35.5 26.2 33.5 21.3 28.8 26.7 19.2 14.2 9 4.8 6 .5 39-9.1 9-5.1 16.4-23.3 25.6-19 18.7-20 14.3-10.9 11.5-16.1 8.9-9 3.6-5 15-39.5 4.6-15.5 .6-15-1.5-72-4.5-81-3.1-36-3.1-15-16.4-63z"/><path fill="#19ffe6" d="M300.5 -6l176.5 0 0 534-296.2 0 .3-6 1.3-3 18.6-20.2 12-20 11.5-13.8 9.5-15.1 9-10 12-19.6 12-12.8 12-14.6 15-24.9 12.8-14 5.2-11.6 15-43.7 1.4-13.7-1.3-90-5.4-102-3.7-22.7-15.6-61.3zM-6 387l0-2.7 14.1 14.7 62.1 42 20.8 18 11.4 12 23.6 30 15 15 2.6 6-1.2 6-148.4 0z"/><path fill="#33ffcc" d="M306.3 -6l170.7 0 0 534-270.7 0 7.6-24 5.1-10.8 21-24.1 6-10.6 12-28.2 15-17.2 21.7-41.1 14.3-16 3-6.4 12-34.7 5.3-17.9 1-12-.7-99-4.5-93-4.1-30.4-13.1-53.6zM-6 435l0-1.3 6 .2 6 2.3 36 24.2 12 10 21 25.7 11.5 16.9 2.2 6-.4 3-2.7 6-91.6 0z"/><path fill="#4cffb3" d="M312.4 -6l164.6 0 0 534-260 0 1.3-9 3.7-9.5 27-41.4 10.9-27.1 16.1-23.2 18.2-39.8 5.8-8.5 9-8.7 3-5.3 15-43.4 4.1-15.1 .8-12-.5-48 .8-57-3.3-75-1.9-25.3-2.9-22.7-10.8-48zM-6 474l3 .1 6 2.9 12 11.2 25.9 27.8 3.8 6 1.4 6-52.1 0z"/><path fill="#66ff99" d="M317 -6l160 0 0 534-254.3 0 3.7-12 26.6-45 9.2-21 13.8-23.8 19.2-45.2 4.8-7.3 9-8.6 3.3-5.1 14.7-42.1 5.7-20.9 .9-12-.3-48 1.5-57-1.7-48-5.5-75-3.6-23.4-6.1-27.6z"/><path fill="#7fff80" d="M320.9 -6l156.1 0 0 534-250 0 4.7-12 26.1-45 15.2-30.5 23-56.5 4-6.2 9-8.6 4.3-6.2 13.7-39.4 6.7-23.6 1.4-15 .1-48 2.1-60-.4-21-6.7-105-3.2-24z"/><path fill="#99ff66" d="M325.3 -6l151.7 0 0 534-246.1 0 8.4-18 21.7-37.2 9-18.1 6-13.3 13-36.4 7.8-18 3.9-6 11.3-11.1 3-5.4 15-44.5 5.2-20 1.3-12 3.1-129-6.4-111-3-27z"/><path fill="#b2ff4d" d="M331.5 -6l145.5 0 0 534-241.6 0 10-21 24.8-45 8.8-21.5 12.1-35.5 5.9-13.9 4.6-7.1 10.4-9.8 3.2-5.2 14.8-43.4 6.7-25.6 1.3-12 4.2-126-5.7-114z"/><path fill="#ccff33" d="M337.5 -6l139.5 0 0 534-231.3 0 .5-9 2.9-9 24.3-48 18.5-54 4.9-12 6.2-9.7 9.3-8.3 5.7-10.2 14.2-43.8 6-24 1.4-12 5.2-123-4.9-120-2.5-39z"/><path fill="#e5ff1a" d="M342.6 -6l134.4 0 0 534-175.8 0 .4-6-2-3-5.6-1.8-30-4.1-3-1.1-2.1-2-.9-2.7 3-12.3 15.4-33 16.3-51 4.3-10.9 6-9.8 12-11.4 3.5-6.9 14.6-45 7.1-30 7.3-132-2.7-72z"/><path fill="#ffff00" d="M348.2 -6l128.8 0 0 534-24.9 0-19.8-6-13.9-3-36.7-6-102.7-14.2-6-1.3-3.1-2.5-.5-3 .9-6 8.1-21 18.5-60 6.1-10.7 12-11 5.6-11.3 14.3-45 6.9-30 5-63 3.5-66-1.6-72zM312.4 525l8.6-1.2 42-1.4 6 1.3 6.3 4.3-67.6 0z"/><path fill="#ffe600" d="M354.4 -6l122.6 0 0 517-27-2.3-82.4-13.7-76.6-11-6-1.1-3.9-2.9-.6-6 4.2-21 12-42 6.3-12.7 12-10.7 5.5-9.6 14.5-45 8.7-36 5.8-63 4-66-.4-51 1.6-75z"/><path fill="#ffcc00" d="M361.7 -6l115.3 0 0 502.1-33-1.3-27-3.8-120-21.3-6-2-3-4.9-.2-6.8 2.1-12 9-33 4.6-9 11.5-10.2 6-9.4 15.9-49.4 9.2-39 6.1-57 5.2-72 .5-39 4.8-105 .1-18z"/><path fill="#ffb300" d="M374.2 -6l102.8 0 0 487.1-48-1.5-23.5-2.6-102.5-18.5-6-2-3-3.7 0-12.3 6.4-26.5 4.2-9 13.4-12.2 4.7-8.8 15.4-48 10.3-42 6.4-54 3.2-42 3.9-33 3.2-51 4.1-30 4.8-75z"/><path fill="#ff9900" d="M397.5 0l1.5-1.6 6-1.2 72-.1 0 469-66-2-21-1.9-81-14.5-6-2.2-3.1-4.5 .1-12 3.4-15 2.6-5.7 2.7-3.3 10.4-9 4.9-9 16.5-51 9.5-36 7.7-57 4.1-45 5.7-33 4.1-39 3.4-14.7 9.8-24.3 3.7-66 1.5-7.6 3-7.8z"/><path fill="#ff8000" d="M462.8 36l14.2-2.3 0 418-99-4.1-27-4-39-7.7-3-1.9-2.7-5-.3-7.6 1.6-7.4 3.7-6 9.7-9.2 4.6-8.8 15.2-45 12.8-45 4.5-30 8.1-72 7.2-30 5.6-30 17.2-45 1.5-9 1.3-28.8 2.3-10.2 3.7-5 3-1.2 39-.8z"/><path fill="#ff6600" d="M471.8 63l5.2-.7 0 375.1-114-4.9-21-2.5-21-4.1-3-1.4-3-3-1.1-4.5 .5-3 9.6-13.2 3.9-7.8 18.1-51 12.2-39 3.3-18 5.2-60 4.1-24 14.5-51 24.8-72 3.9-4.4 3-.9 18-2.6z"/><path fill="#ff4d00" d="M466.9 93l10.1-1.6 0 331.7-129-6-18-2.6-3-3 .2-3.5 11.8-30.6 16.1-35.4 17.3-42 .3-3-3.2-18-.4-12 .6-27 2.2-18 3.1-13.6 6-19.7 12-36.2 9-23.8 9-18 6-5.6 9-3.1z"/><path fill="#ff3300" d="M452.7 129l24.3-.6 0 137.7-78-.2-9-.9-6-2.3-3-2.6-3.4-8.1-1.3-12 .8-9 3.9-14.8 21-56.1 9-14.3 9-8.8 9-3.5z"/>
</g><use href="#coast"/><use href="#feat"/></g>
<rect x="0" y="0" width="467.8" height="520" fill="none" stroke="#262626" stroke-width="1.6"/>
<path d="M0 104.419h5M467.8 104.419h-5M0 260.15h5M467.8 260.15h-5M0 415.88h5M467.8 415.88h-5M156.266 0v5M156.266 520v-5M338.061 0v5M338.061 520v-5" stroke="#262626" stroke-width="1.4" fill="none"/>
<rect x="475.8" y="0" width="15.2" height="520" fill="url(#jet)" stroke="#555" stroke-width="0.5"/>
<path d="M491 65h-5M491 130h-5M491 195h-5M491 260h-5M491 325h-5M491 390h-5M491 455h-5" stroke="#333" stroke-width="1" fill="none"/>
<text x="496" y="7" font-family="Liberation Serif, serif" font-size="20">8</text>
<text x="496" y="72" font-family="Liberation Serif, serif" font-size="20">7</text>
<text x="496" y="137" font-family="Liberation Serif, serif" font-size="20">6</text>
<text x="496" y="202" font-family="Liberation Serif, serif" font-size="20">5</text>
<text x="496" y="267" font-family="Liberation Serif, serif" font-size="20">4</text>
<text x="496" y="332" font-family="Liberation Serif, serif" font-size="20">3</text>
<text x="496" y="397" font-family="Liberation Serif, serif" font-size="20">2</text>
<text x="496" y="462" font-family="Liberation Serif, serif" font-size="20">1</text>
<text x="496" y="527" font-family="Liberation Serif, serif" font-size="20">0</text>
<text x="156.266" y="544.5" text-anchor="middle" font-family="Liberation Serif, serif" font-size="20">100.89</text>
<text x="338.061" y="544.5" text-anchor="middle" font-family="Liberation Serif, serif" font-size="20">100.92</text>
<rect x="186.058" y="22.7449" width="18.2" height="18.2" fill="#0000f2" stroke="#fff" stroke-width="1.3"/>
<text x="207.958" y="39.2449" font-family="Liberation Serif, serif" font-weight="bold" font-size="19.5">ST6</text>
<rect x="338.534" y="78.4485" width="18.2" height="18.2" fill="#ff9900" stroke="#fff" stroke-width="1.3"/>
<text x="360.434" y="94.9485" font-family="Liberation Serif, serif" font-weight="bold" font-size="19.5">ST1</text>
<rect x="153.648" y="208.523" width="18.2" height="18.2" fill="#00f2ff" stroke="#fff" stroke-width="1.3"/>
<text x="175.548" y="225.023" font-family="Liberation Serif, serif" font-weight="bold" font-size="19.5">ST5</text>
<rect x="334.645" y="270.516" width="18.2" height="18.2" fill="#ff0d00" stroke="#fff" stroke-width="1.3"/>
<text x="356.545" y="287.016" font-family="Liberation Serif, serif" font-weight="bold" font-size="19.5">ST2</text>
<rect x="54.5232" y="370.942" width="18.2" height="18.2" fill="#73ff8c" stroke="#fff" stroke-width="1.3"/>
<text x="76.4232" y="387.442" font-family="Liberation Serif, serif" font-weight="bold" font-size="19.5">ST4</text>
<rect x="213.083" y="467.375" width="18.2" height="18.2" fill="#f70000" stroke="#fff" stroke-width="1.3"/>
<text x="234.983" y="483.875" font-family="Liberation Serif, serif" font-weight="bold" font-size="19.5">ST3</text>
</g>
<g transform="translate(1365.6 1948.5)">
<g transform="scale(0.99723 0.99827)"><g clip-path="url(#sea)">
<rect x="-2" y="-2" width="474" height="524.9" fill="#ffc600"/><path fill="#ffbf00" d="M14.8 -6l462.2 0 0 534-483 0 0-503 3.9-10 5-6 9.1-8z"/><path fill="#ffb900" d="M29.9 -6l447.1 0 0 534-483 0 0-491 10.1-16 19.1-12 6.6-6 1.3-3 .1-3z"/><path fill="#ffb300" d="M53.8 -3l4.1-3 419.1 0 0 534-483 0 0-486.8 4.6-2.2 10.4-10.2 30-16.7 10.7-12.1z"/><path fill="#ffac00" d="M64.7 -6l412.3 0 0 534-483 0 0-483.5 9-1.3 37.4-19.2 7.6-6.9 12-14.4 3-4z"/><path fill="#ffa600" d="M69.3 -6l407.7 0 0 534-483 0 0-479.8 9 3.8 3 0 27-11.5 9-4.8 9-8.2 15.6-18.5 2.9-6z"/><path fill="#ff9f00" d="M75.1 -6l401.9 0 0 534-483 0 0-473.2 6 8.3 3 1.1 3-.3 30-12.4 9-5.1 9-8.5 24.4-28.9 2.1-6-.8-3z"/><path fill="#ff9900" d="M97.7 -6l379.3 0 0 534-483 0 0-447.3 12-4.1 30-12.8 12-6.7 9-8.9 34.5-39.2 3.4-6z"/><path fill="#ff9300" d="M121.9 -3l2.5-3 352.6 0 0 534-483 0 0-413.6 5.4-15.4 3.6-5.3 9-6 30-14.3 9-5.5 27-27.6 21-19.9 15-17.4z"/><path fill="#ff8c00" d="M130.8 -6l346.2 0 0 534-483 0 0-406.5 2.9-1.5 2.8-3 5.8-9 3.5-3.2 39-21.1 8.7-5.7 45.3-40.4 9-9.4 15.8-19.2 3.2-6z"/><path fill="#ff8600" d="M137.4 -6l339.6 0 0 534-483 0 0-402 9-1.3 15-10.1 42-23.1 18.3-13.5 27.5-24 11.6-12 26.8-33 1.4-6-1.8-3z"/><path fill="#ff8000" d="M169.3 -6l307.7 0 0 534-483 0 0-396.5 6 5.4 3 1.4 3-.4 18-11.4 42-23.5 30.9-22 14.1-11.9 9-8.9 35.5-42.2 9-12z"/><path fill="#ff7900" d="M196.7 -3l1.7-3 278.6 0 0 534-483 0 0-371.3 3 1.3 3-.2 6-2.7 21-15 48-27.6 44.3-31.5 9.1-9 42.6-49.4 15.8-16.6z"/><path fill="#ff7300" d="M205.7 -6l271.3 0 0 534-483 0 0-307.4 4.2-4.6 5.1-21 6.1-18 2.9-6 4.5-6 10.3-9 53.9-32.1 33-22.8 15-8.8 6-4.9 41.7-48.4 29.3-30 2.3-6z"/><path fill="#ff6c00" d="M229.3 -6l247.7 0 0 534-483 0 0-281.3 3 4.4 3-.5 6-8.8 25.1-64.8 5.1-9 11-9 39.8-23.6 27-18.4 24-11.4 6-4.2 39-46.7 45.6-45.7 3.4-6 .4-3-.6-3z"/><path fill="#ff6600" d="M269.6 -6l207.4 0 0 534-482.1 0-.9-1.5 .5-148.5 10.4-42 5.2-27 6.6-24 40.6-111 4.1-6 6.9-6 42.7-27.1 12-6.2 24-9.8 6-3.6 6-6.2 21.2-28.1 11.8-13.4 24-22.7 29-23.9 13-15.6 9-7.7z"/><path fill="#ff6000" d="M278.1 -6l198.9 0 0 534-461.7 0-.8-12 2.6-60 .6-57 5.5-39 21.8-81 37.8-105 7.2-9 21-14 9-4.5 36-14.2 9-5.7 24-30.8 9-9.9 54-42.3 9-8.9 19.3-25.7 1.2-6z"/><path fill="#ff5900" d="M314.9 -6l162.1 0 0 534-450.8 0 4.3-6 1.7-6 7.5-114 2.7-18 28.2-105 28.4-79.9 9-22.8 3.4-5.3 8.6-6.6 11.2-5.4 33.8-13.5 8.4-4.5 6.1-6 12.5-16 9-9 63-48.2 9-9.4 31.8-40.4 4.1-6z"/><path fill="#ff5300" d="M353 -6l124 0 0 534-409.2 0-7.6-9-1.5-6 11.1-120 13.1-63 10.5-42 11.6-33.5 9-19.9 32.3-54.6 6.9-9 8.3-6 21.5-10.7 21-19.9 74.8-56.4 21.2-21.9 48.3-47.1 4-6z"/><path fill="#ff4c00" d="M407.4 3l69.6-.3 0 525.3-399 0 3-4.6 4.5-4.4 2.5-6 11.1-117 5.9-28.3 9-33.4 20.8-55.3 57.2-101.4 6-7.6 9.5-8 65.5-40.3 9-6.5 102-98.5 15-11.9z"/><path fill="#ff4600" d="M442 45l35-.9 0 483.9-347.5 0-5.7-9-.1-9 9.5-63 12-54 41.7-111 38.1-68.3 7.7-9.7 26.9-27 28.4-24.3 66-65.9 12-10.8 9-6 9-4.2 45-17.3z"/><path fill="#ff4000" d="M467 87l10-2.4 0 443.4-306.4 0-1.7-6 .9-9 24.2-108 45.2-120 5.8-12 12.3-21 24.7-28.1 30.8-49.9 6.6-9 43.6-43.6 6-4 9-3.6z"/><path fill="#ff3900" d="M470.5 129l6.5-1.4 0 400.4-282.6 0 4.8-15 9.2-39 4.6-13.3 37.3-64.7 25.7-66.2 12-27.4 39-76.7 31.2-54.7 7.8-8.4 9-4.8z"/><path fill="#ff3300" d="M384 288l93-.2 0 240.2-212.1 0-12.9-2.6-6-2.6-3.8-3.8-.4-3 1.2-6 6-13.2 15-25.8 48.1-75 44.9-86.6 6-9.2 6-6.9 6-3.7z"/>
</g><use href="#coast"/><use href="#feat"/></g>
<rect x="0" y="0" width="467.8" height="520" fill="none" stroke="#262626" stroke-width="1.6"/>
<path d="M0 104.419h5M467.8 104.419h-5M0 260.15h5M467.8 260.15h-5M0 415.88h5M467.8 415.88h-5M156.266 0v5M156.266 520v-5M338.061 0v5M338.061 520v-5" stroke="#262626" stroke-width="1.4" fill="none"/>
<rect x="475.8" y="0" width="15.2" height="520" fill="url(#jet)" stroke="#555" stroke-width="0.5"/>
<path d="M491 65h-5M491 130h-5M491 195h-5M491 260h-5M491 325h-5M491 390h-5M491 455h-5" stroke="#333" stroke-width="1" fill="none"/>
<text x="496" y="7" font-family="Liberation Serif, serif" font-size="20">8</text>
<text x="496" y="72" font-family="Liberation Serif, serif" font-size="20">7</text>
<text x="496" y="137" font-family="Liberation Serif, serif" font-size="20">6</text>
<text x="496" y="202" font-family="Liberation Serif, serif" font-size="20">5</text>
<text x="496" y="267" font-family="Liberation Serif, serif" font-size="20">4</text>
<text x="496" y="332" font-family="Liberation Serif, serif" font-size="20">3</text>
<text x="496" y="397" font-family="Liberation Serif, serif" font-size="20">2</text>
<text x="496" y="462" font-family="Liberation Serif, serif" font-size="20">1</text>
<text x="496" y="527" font-family="Liberation Serif, serif" font-size="20">0</text>
<text x="156.266" y="544.5" text-anchor="middle" font-family="Liberation Serif, serif" font-size="20">100.89</text>
<text x="338.061" y="544.5" text-anchor="middle" font-family="Liberation Serif, serif" font-size="20">100.92</text>
<rect x="186.058" y="22.7449" width="18.2" height="18.2" fill="#fffa00" stroke="#fff" stroke-width="1.3"/>
<text x="207.958" y="39.2449" font-family="Liberation Serif, serif" font-weight="bold" font-size="19.5">ST6</text>
<rect x="338.534" y="78.4485" width="18.2" height="18.2" fill="#ffd900" stroke="#fff" stroke-width="1.3"/>
<text x="360.434" y="94.9485" font-family="Liberation Serif, serif" font-weight="bold" font-size="19.5">ST1</text>
<rect x="153.648" y="208.523" width="18.2" height="18.2" fill="#ffbf00" stroke="#fff" stroke-width="1.3"/>
<text x="175.548" y="225.023" font-family="Liberation Serif, serif" font-weight="bold" font-size="19.5">ST5</text>
<rect x="334.645" y="270.516" width="18.2" height="18.2" fill="#d9ff26" stroke="#fff" stroke-width="1.3"/>
<text x="356.545" y="287.016" font-family="Liberation Serif, serif" font-weight="bold" font-size="19.5">ST2</text>
<rect x="54.5232" y="370.942" width="18.2" height="18.2" fill="#ff8c00" stroke="#fff" stroke-width="1.3"/>
<text x="76.4232" y="387.442" font-family="Liberation Serif, serif" font-weight="bold" font-size="19.5">ST4</text>
<rect x="213.083" y="467.375" width="18.2" height="18.2" fill="#ffab00" stroke="#fff" stroke-width="1.3"/>
<text x="234.983" y="483.875" font-family="Liberation Serif, serif" font-weight="bold" font-size="19.5">ST3</text>
</g>
</svg></body></html>
